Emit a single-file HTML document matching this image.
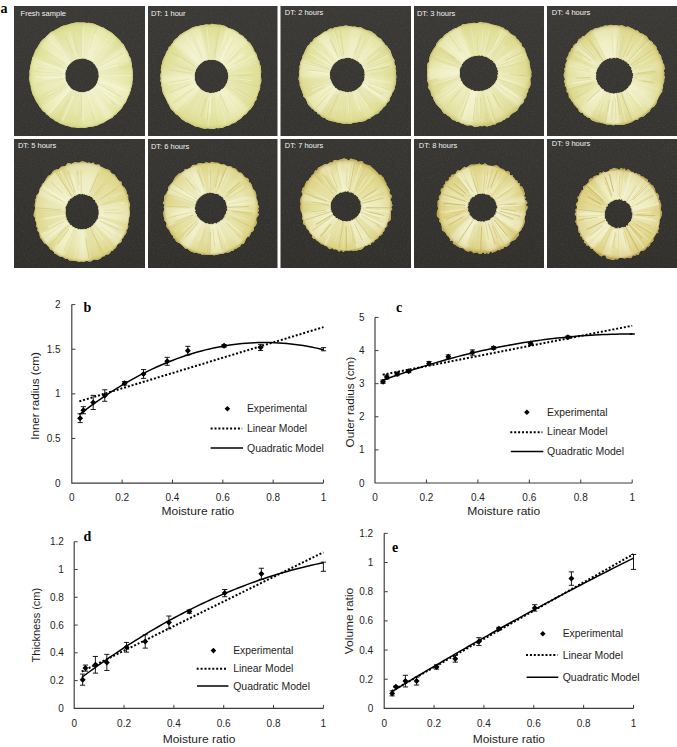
<!DOCTYPE html>
<html><head><meta charset="utf-8"><title>Figure</title>
<style>
html,body{margin:0;padding:0;background:#fff;}
body{width:677px;height:747px;position:relative;overflow:hidden;font-family:"Liberation Sans",sans-serif;}
svg{position:absolute;left:0;top:0;display:block;}
text{font-family:"Liberation Sans",sans-serif;}
</style></head>
<body>
<svg width="677" height="747" viewBox="0 0 677 747">
<defs><filter id="noise" x="0" y="0" width="100%" height="100%"><feTurbulence type="fractalNoise" baseFrequency="0.7" numOctaves="2" seed="3" result="n"/><feColorMatrix type="matrix" values="0 0 0 0 0.5  0 0 0 0 0.5  0 0 0 0 0.48  0.9 0 0 0 -0.38"/></filter><linearGradient id="bg0" x1="0" y1="0" x2="0" y2="1"><stop offset="0" stop-color="#3b3936"/><stop offset="1" stop-color="#353431"/></linearGradient><linearGradient id="bg1" x1="0" y1="0" x2="0" y2="1"><stop offset="0" stop-color="#373633"/><stop offset="1" stop-color="#31302d"/></linearGradient><filter id="soft" x="-5%" y="-5%" width="110%" height="110%"><feGaussianBlur stdDeviation="0.45"/></filter><filter id="sblur" x="-5%" y="-5%" width="110%" height="110%"><feGaussianBlur stdDeviation="0.5"/></filter><filter id="wblur" x="-5%" y="-5%" width="110%" height="110%"><feGaussianBlur stdDeviation="1.6"/></filter><radialGradient id="g0" cx="82.0" cy="75.4" r="52.7" gradientUnits="userSpaceOnUse"><stop offset="0.32" stop-color="#eef0c8"/><stop offset="0.7" stop-color="#e9ebb4"/><stop offset="0.92" stop-color="#e0e298"/><stop offset="1" stop-color="#cfcf7c"/></radialGradient><clipPath id="cp0"><path d="M132.9,75.2 L132.7,77.4 L132.9,79.6 L132.3,81.8 L132.3,84.0 L131.8,86.1 L131.1,88.2 L130.8,90.4 L129.8,92.4 L129.3,94.6 L128.2,96.5 L127.3,98.5 L126.5,100.6 L125.7,102.6 L124.1,104.2 L123.0,106.1 L121.9,108.0 L120.6,109.8 L119.0,111.3 L117.4,112.8 L116.1,114.6 L114.0,115.6 L112.7,117.4 L110.7,118.4 L108.8,119.5 L107.0,120.6 L105.1,121.8 L103.3,123.1 L101.2,123.6 L99.3,124.6 L97.2,125.4 L95.1,125.9 L93.0,126.5 L90.8,126.7 L88.7,127.0 L86.6,127.4 L84.5,127.9 L82.3,127.8 L80.1,127.8 L77.9,127.9 L75.8,127.6 L73.7,127.2 L71.5,127.2 L69.3,126.6 L67.3,125.8 L65.2,125.4 L63.1,124.6 L61.0,124.0 L59.1,123.0 L57.3,121.8 L55.1,121.1 L53.6,119.5 L51.7,118.4 L49.8,117.3 L48.3,115.6 L46.5,114.4 L45.2,112.6 L43.4,111.4 L41.8,109.8 L40.6,108.0 L39.1,106.3 L38.2,104.3 L36.8,102.6 L35.7,100.6 L34.8,98.7 L33.9,96.6 L32.8,94.7 L32.0,92.6 L31.6,90.4 L30.9,88.3 L30.8,86.1 L30.0,84.0 L29.7,81.8 L29.2,79.6 L29.2,77.4 L29.6,75.2 L29.5,73.0 L29.5,70.8 L30.1,68.6 L30.2,66.4 L30.8,64.3 L31.3,62.2 L31.9,60.1 L32.1,57.8 L33.3,55.9 L34.0,53.8 L34.9,51.8 L35.6,49.7 L37.1,48.1 L38.1,46.1 L39.3,44.2 L40.4,42.3 L41.8,40.6 L43.3,38.9 L45.1,37.7 L46.6,36.1 L48.2,34.7 L49.7,33.0 L51.5,31.7 L53.6,30.9 L55.4,29.8 L57.3,28.7 L59.2,27.7 L61.1,26.6 L63.1,25.7 L65.2,25.2 L67.4,24.8 L69.4,23.9 L71.5,23.5 L73.6,23.0 L75.8,22.5 L77.9,22.5 L80.1,22.5 L82.3,22.4 L84.5,22.5 L86.6,23.1 L88.8,22.8 L90.9,23.2 L93.1,23.6 L95.2,24.2 L97.2,25.2 L99.2,25.9 L101.2,26.9 L103.3,27.4 L105.1,28.8 L106.9,29.8 L108.8,30.9 L110.6,32.1 L112.5,33.3 L114.0,34.8 L115.6,36.3 L117.3,37.7 L118.8,39.3 L120.3,40.8 L121.5,42.7 L123.3,44.1 L124.4,46.0 L125.3,48.0 L126.4,49.9 L127.5,51.8 L128.4,53.8 L129.1,55.9 L130.3,57.8 L131.1,59.9 L131.3,62.1 L131.9,64.2 L132.0,66.5 L132.3,68.6 L132.7,70.8 L132.8,73.0 Z M98.8,75.4 L98.5,74.7 L98.4,74.0 L98.8,73.3 L98.5,72.6 L98.2,71.9 L98.2,71.2 L97.8,70.6 L97.8,69.9 L97.7,69.1 L97.4,68.5 L97.0,67.9 L96.5,67.4 L96.2,66.7 L95.8,66.2 L95.6,65.5 L95.1,65.0 L94.7,64.3 L94.1,63.9 L93.6,63.5 L93.3,62.8 L92.8,62.3 L92.2,61.9 L91.6,61.5 L91.0,61.1 L90.4,60.8 L89.7,60.6 L89.1,60.2 L88.4,60.0 L87.8,59.8 L87.1,59.6 L86.5,59.3 L85.8,59.1 L85.1,58.8 L84.5,58.6 L83.7,58.7 L83.1,58.4 L82.4,58.4 L81.6,58.4 L81.0,58.7 L80.3,58.8 L79.6,58.9 L78.9,59.0 L78.2,59.2 L77.5,59.2 L76.8,59.3 L76.1,59.5 L75.5,59.9 L74.9,60.1 L74.2,60.4 L73.7,61.0 L73.0,61.2 L72.4,61.5 L71.8,61.9 L71.3,62.4 L70.8,62.9 L70.4,63.5 L69.7,63.8 L69.4,64.5 L68.8,64.9 L68.3,65.4 L68.1,66.1 L67.8,66.7 L67.2,67.2 L67.0,67.9 L66.9,68.6 L66.6,69.3 L66.4,69.9 L65.8,70.5 L65.7,71.2 L65.8,71.9 L65.4,72.6 L65.2,73.3 L65.3,74.0 L65.4,74.7 L65.3,75.4 L65.5,76.1 L65.6,76.8 L65.2,77.5 L65.5,78.2 L65.7,78.9 L65.6,79.6 L66.0,80.2 L66.1,81.0 L66.3,81.6 L66.9,82.2 L67.1,82.8 L67.4,83.5 L67.8,84.0 L68.1,84.7 L68.6,85.2 L68.9,85.8 L69.5,86.3 L69.7,87.0 L70.4,87.4 L70.8,87.9 L71.3,88.4 L71.8,88.9 L72.5,89.2 L73.0,89.7 L73.6,89.9 L74.3,90.3 L74.9,90.6 L75.6,90.7 L76.2,91.1 L76.9,91.3 L77.6,91.4 L78.2,91.9 L78.9,91.8 L79.6,92.0 L80.2,92.2 L80.9,92.2 L81.7,92.1 L82.3,92.2 L83.1,92.2 L83.8,92.2 L84.4,91.9 L85.1,91.9 L85.8,91.7 L86.5,91.5 L87.2,91.5 L87.8,91.1 L88.5,90.9 L89.2,90.7 L89.8,90.4 L90.3,89.9 L91.0,89.6 L91.5,89.2 L92.1,88.8 L92.7,88.4 L93.2,87.9 L93.7,87.4 L94.2,86.9 L94.8,86.5 L95.2,85.9 L95.6,85.4 L96.1,84.8 L96.2,84.1 L96.7,83.5 L97.1,83.0 L97.4,82.3 L97.4,81.5 L97.6,80.9 L98.0,80.2 L98.0,79.5 L98.2,78.9 L98.3,78.2 L98.6,77.5 L98.8,76.8 L98.9,76.1 Z" clip-rule="evenodd"/></clipPath><radialGradient id="g1" cx="211.4" cy="76.3" r="52.3" gradientUnits="userSpaceOnUse"><stop offset="0.32" stop-color="#eef0c7"/><stop offset="0.7" stop-color="#e9eab3"/><stop offset="0.92" stop-color="#e0e096"/><stop offset="1" stop-color="#cdca77"/></radialGradient><clipPath id="cp1"><path d="M260.9,76.5 L261.2,78.7 L261.3,80.9 L261.0,83.1 L260.1,85.1 L260.2,87.4 L259.8,89.6 L258.9,91.6 L258.0,93.6 L257.5,95.7 L256.5,97.6 L256.4,100.0 L254.6,101.5 L254.1,103.7 L253.1,105.7 L251.8,107.4 L250.5,109.2 L248.9,110.6 L247.5,112.2 L246.2,113.9 L244.3,115.1 L242.7,116.5 L241.3,118.2 L239.6,119.4 L237.8,120.6 L236.2,122.0 L234.3,123.0 L232.2,123.5 L230.4,124.7 L228.5,125.7 L226.4,126.1 L224.4,126.7 L222.5,127.9 L220.4,128.0 L218.2,128.2 L216.1,128.1 L214.1,128.9 L212.0,129.1 L209.8,128.7 L207.8,128.2 L205.6,128.8 L203.5,128.5 L201.5,128.0 L199.4,127.3 L197.4,126.8 L195.2,126.6 L193.4,125.5 L191.5,124.4 L189.6,123.5 L187.8,122.5 L185.7,121.9 L184.0,120.6 L182.1,119.7 L180.7,117.9 L179.1,116.5 L177.5,115.1 L175.5,114.1 L174.3,112.2 L172.8,110.7 L171.2,109.2 L170.0,107.4 L169.3,105.3 L168.0,103.5 L167.1,101.5 L166.1,99.6 L165.3,97.6 L164.2,95.7 L163.2,93.8 L162.5,91.7 L161.9,89.6 L161.9,87.3 L161.0,85.3 L161.4,83.0 L160.4,80.9 L160.8,78.7 L160.5,76.5 L160.5,74.3 L161.1,72.2 L160.8,69.9 L161.1,67.7 L161.4,65.6 L162.1,63.5 L162.4,61.3 L163.3,59.3 L164.0,57.2 L165.2,55.3 L165.9,53.3 L166.8,51.3 L168.2,49.6 L168.7,47.3 L170.5,45.9 L171.6,44.1 L173.1,42.5 L173.9,40.4 L175.5,38.9 L177.4,37.8 L178.6,35.9 L180.3,34.6 L182.1,33.4 L183.9,32.2 L185.8,31.3 L187.6,30.2 L189.5,29.2 L191.3,28.0 L193.3,27.2 L195.3,26.6 L197.4,26.3 L199.5,25.8 L201.5,25.2 L203.6,24.9 L205.6,24.5 L207.8,24.6 L209.9,24.7 L212.0,23.8 L214.1,24.3 L216.2,24.5 L218.3,24.7 L220.4,24.8 L222.5,25.3 L224.5,25.8 L226.4,26.8 L228.3,27.9 L230.3,28.4 L232.3,29.3 L234.3,29.9 L236.1,31.2 L237.9,32.2 L239.4,33.9 L241.1,35.1 L243.2,35.9 L244.4,37.8 L246.2,39.0 L247.3,41.0 L249.1,42.2 L250.6,43.8 L251.7,45.7 L253.0,47.4 L253.6,49.6 L254.6,51.5 L256.0,53.2 L257.0,55.2 L257.3,57.4 L258.1,59.4 L259.4,61.3 L259.4,63.5 L260.4,65.6 L260.8,67.7 L261.0,69.9 L261.2,72.1 L260.9,74.3 Z M228.4,76.3 L228.2,75.6 L228.0,74.9 L228.0,74.2 L228.0,73.5 L228.0,72.8 L227.6,72.2 L227.4,71.5 L227.5,70.8 L227.0,70.2 L226.8,69.5 L226.5,68.9 L226.0,68.4 L225.7,67.7 L225.3,67.2 L224.9,66.6 L224.6,65.9 L224.0,65.5 L223.6,65.0 L223.1,64.5 L222.7,63.8 L222.0,63.6 L221.6,63.0 L220.8,62.9 L220.5,62.1 L219.9,61.7 L219.2,61.6 L218.6,61.3 L217.9,60.9 L217.3,60.5 L216.6,60.6 L215.9,60.3 L215.3,60.0 L214.6,59.9 L213.8,59.9 L213.1,59.9 L212.5,59.8 L211.7,59.9 L211.1,59.8 L210.4,60.0 L209.7,59.9 L208.9,59.8 L208.2,59.8 L207.6,60.2 L206.9,60.3 L206.2,60.6 L205.5,60.5 L204.8,60.8 L204.1,61.1 L203.5,61.4 L202.9,61.8 L202.3,62.2 L201.9,62.8 L201.3,63.2 L200.6,63.5 L200.2,64.0 L199.7,64.5 L199.3,65.1 L198.7,65.5 L198.2,66.0 L198.0,66.7 L197.6,67.2 L197.0,67.7 L196.8,68.4 L196.3,68.9 L196.0,69.5 L195.8,70.2 L195.6,70.9 L195.5,71.6 L195.2,72.2 L194.8,72.8 L195.0,73.6 L195.0,74.3 L194.5,74.9 L194.5,75.6 L194.6,76.3 L194.9,77.0 L194.9,77.7 L194.6,78.4 L195.0,79.0 L194.8,79.8 L194.9,80.5 L195.5,81.0 L195.4,81.8 L195.6,82.5 L196.0,83.1 L196.3,83.7 L196.6,84.3 L197.0,84.9 L197.4,85.5 L198.0,86.0 L198.4,86.4 L198.9,87.0 L199.3,87.5 L199.8,88.0 L200.3,88.5 L200.5,89.3 L201.4,89.4 L201.8,90.0 L202.4,90.4 L203.1,90.5 L203.6,91.0 L204.2,91.3 L204.9,91.7 L205.5,91.9 L206.2,92.0 L206.9,92.3 L207.6,92.5 L208.3,92.4 L208.9,92.8 L209.6,93.1 L210.3,93.0 L211.0,92.9 L211.8,92.9 L212.5,92.8 L213.2,92.8 L213.9,92.9 L214.5,92.4 L215.3,92.5 L215.9,92.1 L216.7,92.3 L217.2,91.7 L217.9,91.7 L218.5,91.1 L219.3,91.2 L219.9,90.9 L220.5,90.5 L220.9,89.8 L221.4,89.3 L222.2,89.1 L222.7,88.7 L223.2,88.2 L223.8,87.8 L224.3,87.3 L224.5,86.5 L225.2,86.2 L225.6,85.6 L225.6,84.8 L226.1,84.3 L226.3,83.6 L226.9,83.1 L227.2,82.5 L227.1,81.7 L227.3,81.0 L227.9,80.5 L227.7,79.7 L227.9,79.1 L228.1,78.4 L228.1,77.7 L228.4,77.0 Z" clip-rule="evenodd"/></clipPath><radialGradient id="g2" cx="347.3" cy="75.0" r="48.9" gradientUnits="userSpaceOnUse"><stop offset="0.36" stop-color="#eeefc7"/><stop offset="0.7" stop-color="#e9e9b2"/><stop offset="0.92" stop-color="#dfde94"/><stop offset="1" stop-color="#cac571"/></radialGradient><clipPath id="cp2"><path d="M396.1,74.8 L396.4,76.9 L396.0,78.9 L396.2,81.0 L395.9,83.0 L395.5,85.1 L394.8,87.0 L394.6,89.1 L393.7,91.0 L392.4,92.6 L391.8,94.6 L390.9,96.4 L389.8,98.1 L389.6,100.4 L388.1,101.9 L386.6,103.3 L386.0,105.4 L384.3,106.7 L382.8,108.1 L381.7,109.9 L379.8,110.9 L378.9,112.9 L377.2,114.1 L375.0,114.6 L373.6,116.1 L371.6,116.7 L370.3,118.5 L368.1,118.8 L366.4,119.9 L364.6,120.9 L362.6,121.6 L360.6,121.9 L358.5,122.0 L356.6,122.6 L354.5,122.6 L352.6,123.1 L350.6,123.9 L348.5,123.8 L346.5,123.6 L344.4,123.8 L342.4,123.4 L340.4,123.0 L338.4,122.7 L336.4,122.3 L334.4,121.8 L332.5,121.2 L330.4,121.0 L328.5,120.3 L326.6,119.4 L325.0,118.1 L322.9,117.5 L321.2,116.4 L319.9,114.6 L317.8,114.0 L316.8,112.1 L314.8,111.2 L313.5,109.6 L311.8,108.5 L310.4,107.0 L308.9,105.5 L307.7,103.8 L307.0,101.8 L306.3,99.9 L305.2,98.1 L303.4,96.8 L303.2,94.6 L302.5,92.7 L301.9,90.7 L301.0,88.9 L300.5,86.9 L299.6,85.0 L299.8,82.9 L299.2,80.9 L298.5,78.9 L298.9,76.8 L299.2,74.8 L298.9,72.8 L299.2,70.7 L299.7,68.7 L299.4,66.6 L300.1,64.7 L300.0,62.6 L301.1,60.7 L301.9,58.9 L302.3,56.8 L303.0,54.9 L304.2,53.2 L304.8,51.2 L305.7,49.4 L306.7,47.6 L307.7,45.8 L309.3,44.4 L310.4,42.6 L312.3,41.6 L313.2,39.7 L314.6,38.1 L316.5,37.2 L318.2,36.1 L319.9,34.9 L321.6,33.8 L323.2,32.6 L325.0,31.5 L326.9,30.9 L328.5,29.4 L330.3,28.5 L332.6,28.7 L334.4,27.6 L336.4,27.3 L338.4,26.8 L340.4,26.4 L342.4,26.2 L344.4,25.7 L346.5,25.4 L348.5,26.1 L350.5,26.2 L352.5,26.7 L354.6,26.5 L356.6,27.0 L358.5,27.5 L360.7,27.3 L362.6,28.3 L364.4,29.2 L366.2,30.1 L368.3,30.5 L370.2,31.1 L372.1,32.1 L373.7,33.3 L375.5,34.4 L376.7,36.1 L378.3,37.4 L380.2,38.3 L381.7,39.8 L382.8,41.6 L384.2,43.0 L385.2,44.8 L387.1,45.9 L388.1,47.7 L389.5,49.3 L390.6,51.0 L391.1,53.0 L391.8,55.0 L392.6,56.9 L393.6,58.7 L394.6,60.5 L394.2,62.8 L395.0,64.7 L395.8,66.6 L395.4,68.7 L396.2,70.7 L395.9,72.8 Z M364.7,75.0 L365.0,74.3 L364.3,73.6 L364.7,72.8 L364.5,72.1 L364.6,71.4 L364.1,70.8 L364.2,70.0 L364.0,69.3 L363.2,68.8 L363.1,68.1 L362.7,67.5 L362.7,66.7 L362.4,66.0 L361.9,65.4 L361.6,64.8 L361.0,64.3 L360.7,63.7 L359.9,63.4 L359.3,63.0 L359.0,62.2 L358.4,61.9 L357.6,61.6 L357.3,60.8 L356.5,60.8 L355.9,60.3 L355.2,60.1 L354.7,59.5 L354.0,59.4 L353.3,59.1 L352.7,58.7 L352.1,58.2 L351.2,58.7 L350.6,57.9 L349.9,57.9 L349.1,58.1 L348.4,57.7 L347.7,57.8 L346.9,57.9 L346.2,58.1 L345.5,58.0 L344.8,58.2 L344.1,58.5 L343.4,58.6 L342.7,58.7 L341.9,58.8 L341.2,58.9 L340.5,59.1 L340.0,59.8 L339.4,60.1 L338.5,60.0 L338.0,60.5 L337.5,61.1 L336.9,61.5 L336.1,61.7 L335.7,62.3 L335.2,62.8 L334.4,63.1 L334.4,64.0 L333.6,64.3 L333.1,64.9 L332.8,65.5 L332.4,66.1 L332.3,66.9 L331.4,67.3 L331.7,68.2 L331.2,68.7 L330.9,69.4 L330.4,70.0 L330.3,70.7 L330.1,71.4 L330.1,72.1 L329.7,72.8 L330.1,73.6 L330.0,74.3 L329.9,75.0 L330.0,75.7 L330.2,76.4 L329.9,77.2 L330.2,77.8 L330.0,78.6 L330.3,79.3 L331.0,79.9 L331.1,80.5 L331.3,81.2 L331.5,81.9 L331.9,82.5 L332.0,83.3 L332.6,83.8 L332.9,84.4 L333.3,85.0 L333.4,85.8 L334.2,86.2 L334.8,86.5 L334.9,87.4 L335.4,87.9 L336.4,87.9 L336.6,88.8 L337.3,89.1 L337.8,89.7 L338.6,89.9 L339.2,90.2 L339.8,90.7 L340.7,90.5 L341.3,90.8 L342.0,91.0 L342.7,91.2 L343.4,91.5 L344.1,91.5 L344.8,91.7 L345.5,91.9 L346.2,91.9 L346.9,91.8 L347.7,92.4 L348.4,92.3 L349.1,92.3 L349.8,91.6 L350.6,91.9 L351.3,91.9 L352.0,91.4 L352.7,91.3 L353.5,91.3 L354.1,91.0 L354.7,90.5 L355.3,90.0 L356.1,89.9 L356.7,89.6 L357.2,88.9 L357.8,88.6 L358.5,88.3 L358.8,87.6 L359.4,87.2 L360.0,86.7 L360.4,86.1 L361.1,85.8 L361.3,85.0 L361.8,84.5 L362.4,84.0 L362.3,83.1 L362.8,82.6 L363.0,81.9 L363.5,81.3 L364.0,80.7 L363.9,79.9 L364.4,79.3 L364.1,78.5 L364.8,77.9 L364.4,77.1 L364.5,76.4 L364.5,75.7 Z" clip-rule="evenodd"/></clipPath><radialGradient id="g3" cx="478.7" cy="73.3" r="52.1" gradientUnits="userSpaceOnUse"><stop offset="0.37" stop-color="#eeefc6"/><stop offset="0.7" stop-color="#e9e9b1"/><stop offset="0.92" stop-color="#dfdc93"/><stop offset="1" stop-color="#c8c06c"/></radialGradient><clipPath id="cp3"><path d="M531.2,74.4 L531.4,76.6 L530.3,78.7 L530.4,80.9 L530.6,83.1 L530.4,85.4 L529.6,87.4 L528.2,89.3 L528.2,91.6 L526.9,93.4 L526.6,95.6 L525.9,97.7 L524.1,99.3 L524.0,101.7 L522.5,103.4 L520.8,104.8 L519.4,106.5 L518.3,108.4 L517.2,110.4 L515.5,111.7 L513.5,112.7 L511.7,114.1 L510.1,115.5 L508.9,117.5 L506.6,118.0 L505.0,119.6 L503.0,120.3 L501.2,121.8 L499.1,122.3 L497.0,122.8 L495.2,124.4 L493.0,124.6 L490.9,125.4 L488.8,126.0 L486.7,126.5 L484.4,125.6 L482.3,126.2 L480.1,126.0 L477.9,126.5 L475.7,126.9 L473.5,126.6 L471.5,125.3 L469.3,125.2 L467.0,125.5 L465.0,124.8 L463.0,123.8 L460.9,123.2 L459.0,122.0 L456.7,121.9 L455.0,120.4 L452.8,119.9 L451.1,118.5 L449.6,116.7 L447.7,115.7 L446.1,114.3 L443.9,113.5 L442.5,111.7 L441.5,109.7 L440.0,108.2 L438.4,106.6 L437.0,105.0 L435.6,103.3 L434.6,101.3 L433.6,99.4 L433.0,97.3 L431.4,95.6 L430.9,93.5 L430.5,91.3 L429.3,89.4 L428.0,87.5 L428.7,85.1 L428.2,83.0 L427.2,81.0 L427.5,78.7 L427.3,76.6 L427.0,74.4 L427.4,72.2 L427.1,70.0 L427.4,67.9 L427.1,65.6 L427.5,63.4 L429.2,61.6 L429.1,59.3 L429.6,57.2 L430.2,55.0 L431.2,53.1 L432.3,51.2 L433.3,49.2 L434.7,47.5 L435.9,45.7 L436.6,43.6 L437.9,41.7 L439.2,40.0 L440.9,38.6 L442.8,37.4 L444.0,35.4 L445.7,34.0 L447.6,32.9 L449.2,31.5 L451.2,30.6 L453.0,29.2 L455.0,28.3 L457.1,27.8 L458.9,26.6 L461.0,25.8 L462.7,24.2 L465.0,24.2 L467.2,23.8 L469.3,23.6 L471.5,23.2 L473.6,22.8 L475.8,22.9 L477.9,23.0 L480.1,21.8 L482.3,22.5 L484.4,22.7 L486.6,22.8 L488.7,23.5 L490.8,24.1 L492.8,24.8 L495.0,25.1 L497.0,25.8 L499.3,26.1 L501.2,27.2 L503.4,27.7 L504.9,29.5 L507.2,29.9 L508.7,31.5 L510.1,33.3 L511.9,34.6 L513.9,35.6 L515.8,36.7 L516.8,38.9 L518.6,40.1 L519.7,42.1 L521.5,43.5 L521.8,45.9 L523.5,47.4 L525.0,49.1 L525.3,51.4 L526.2,53.3 L526.8,55.4 L527.7,57.4 L528.5,59.4 L529.6,61.4 L529.5,63.6 L530.1,65.7 L530.2,67.9 L531.0,70.0 L531.4,72.2 Z M498.0,73.3 L497.6,72.6 L498.0,71.8 L498.1,71.0 L497.7,70.3 L497.2,69.7 L497.5,68.8 L497.4,68.1 L496.7,67.5 L496.3,66.8 L496.0,66.2 L495.9,65.4 L495.8,64.6 L495.2,64.0 L495.0,63.3 L494.1,63.0 L493.6,62.3 L493.4,61.6 L492.8,61.0 L492.1,60.6 L491.6,60.0 L490.9,59.7 L490.1,59.4 L489.6,58.7 L488.8,58.5 L488.3,57.8 L487.5,57.6 L486.9,57.2 L486.2,56.8 L485.3,56.8 L484.6,56.4 L483.8,56.5 L483.2,55.7 L482.3,55.8 L481.6,55.3 L480.7,55.9 L479.9,55.5 L479.1,55.3 L478.3,55.6 L477.5,55.8 L476.7,55.8 L475.9,55.9 L475.1,55.6 L474.4,56.3 L473.5,55.9 L472.8,56.4 L472.0,56.6 L471.2,56.8 L470.5,57.2 L469.7,57.4 L469.1,57.8 L468.5,58.4 L467.6,58.5 L467.2,59.3 L466.4,59.5 L465.7,59.9 L465.1,60.4 L464.8,61.2 L464.0,61.5 L463.4,62.0 L463.2,62.9 L462.9,63.5 L462.3,64.1 L461.6,64.6 L461.8,65.5 L461.5,66.2 L460.9,66.8 L460.5,67.4 L460.1,68.1 L460.2,68.9 L459.5,69.5 L460.0,70.4 L459.5,71.0 L459.9,71.8 L459.9,72.6 L459.8,73.3 L459.9,74.0 L459.6,74.8 L459.6,75.5 L460.0,76.2 L459.6,77.1 L460.2,77.7 L460.6,78.4 L460.8,79.1 L460.7,79.9 L460.9,80.7 L461.7,81.1 L462.2,81.7 L462.1,82.6 L462.9,83.0 L462.9,84.0 L463.7,84.4 L464.1,85.0 L464.8,85.4 L465.1,86.2 L465.9,86.5 L466.5,86.9 L466.9,87.7 L467.9,87.7 L468.3,88.5 L469.3,88.4 L469.8,89.2 L470.6,89.3 L471.1,90.0 L472.1,89.7 L472.8,90.3 L473.6,90.4 L474.2,90.9 L475.0,91.1 L475.9,91.0 L476.7,90.8 L477.5,90.9 L478.3,90.9 L479.1,91.0 L479.9,90.9 L480.7,90.8 L481.5,91.1 L482.3,90.9 L483.0,90.5 L484.0,90.8 L484.6,90.0 L485.4,90.0 L486.0,89.5 L487.0,89.6 L487.7,89.3 L488.2,88.6 L489.1,88.5 L489.8,88.1 L490.2,87.4 L490.9,86.9 L491.5,86.5 L492.3,86.2 L492.5,85.3 L493.3,85.0 L493.8,84.4 L494.2,83.7 L494.7,83.2 L495.4,82.7 L495.3,81.8 L496.2,81.3 L496.1,80.5 L496.8,79.9 L497.1,79.2 L496.8,78.4 L497.6,77.8 L497.9,77.1 L497.5,76.2 L497.4,75.5 L497.5,74.8 L498.3,74.1 Z" clip-rule="evenodd"/></clipPath><radialGradient id="g4" cx="614.4" cy="75.6" r="50.1" gradientUnits="userSpaceOnUse"><stop offset="0.37" stop-color="#eeeec5"/><stop offset="0.7" stop-color="#e9e8b0"/><stop offset="0.92" stop-color="#deda91"/><stop offset="1" stop-color="#c6bb67"/></radialGradient><clipPath id="cp4"><path d="M664.0,75.1 L665.0,77.2 L664.2,79.3 L664.2,81.4 L663.4,83.4 L663.0,85.4 L663.1,87.6 L662.2,89.5 L662.3,91.7 L660.8,93.4 L659.9,95.3 L658.8,97.1 L657.9,98.9 L657.1,100.8 L656.5,103.0 L655.4,104.8 L654.2,106.5 L652.1,107.5 L650.7,109.1 L649.8,111.2 L648.2,112.5 L646.4,113.7 L645.0,115.3 L643.4,116.6 L641.2,117.1 L639.1,117.7 L637.9,119.8 L635.5,119.7 L633.7,120.8 L631.9,122.0 L630.0,122.8 L628.0,123.5 L625.9,123.9 L623.9,124.8 L621.8,124.8 L619.7,125.1 L617.6,125.1 L615.4,124.4 L613.3,125.4 L611.3,124.5 L609.2,124.6 L607.1,124.5 L605.1,123.9 L603.0,123.3 L601.0,122.9 L599.0,122.3 L596.8,122.2 L594.9,121.4 L592.8,120.8 L591.0,119.7 L589.7,117.7 L587.4,117.4 L585.8,116.1 L583.9,115.1 L582.9,113.0 L580.5,112.6 L578.9,111.2 L578.3,108.9 L576.6,107.6 L575.4,105.9 L573.9,104.4 L573.1,102.4 L571.4,101.0 L570.6,99.1 L568.9,97.6 L568.7,95.4 L568.5,93.2 L566.5,91.7 L566.8,89.4 L566.3,87.4 L564.8,85.6 L565.0,83.4 L564.0,81.4 L565.0,79.2 L564.2,77.2 L563.6,75.1 L564.2,73.0 L564.9,71.0 L564.3,68.8 L565.7,66.9 L565.3,64.7 L566.0,62.7 L567.0,60.9 L566.4,58.5 L567.6,56.7 L568.6,54.8 L568.9,52.6 L570.7,51.2 L571.0,48.9 L572.9,47.6 L573.5,45.5 L575.1,44.1 L577.0,42.9 L577.8,40.9 L578.9,39.0 L581.2,38.3 L582.2,36.3 L584.5,35.9 L586.0,34.4 L587.5,32.9 L589.2,31.7 L590.9,30.3 L593.0,29.8 L594.7,28.4 L596.8,27.9 L599.0,27.8 L600.8,26.8 L603.0,26.8 L604.9,25.5 L607.1,25.8 L609.1,25.3 L611.2,24.7 L613.4,25.4 L615.5,24.9 L617.5,25.5 L619.6,25.7 L621.8,25.3 L623.8,26.1 L625.7,27.1 L628.0,26.4 L629.9,27.5 L631.9,28.3 L633.8,29.2 L635.5,30.4 L637.9,30.4 L639.1,32.5 L641.1,33.2 L643.0,34.1 L644.8,35.2 L646.7,36.3 L647.8,38.1 L649.0,39.9 L650.8,41.1 L652.6,42.3 L653.5,44.2 L655.3,45.5 L656.6,47.2 L656.8,49.5 L658.2,51.1 L658.6,53.2 L660.2,54.8 L661.3,56.6 L661.4,58.8 L662.5,60.6 L662.7,62.7 L664.1,64.6 L664.4,66.7 L664.7,68.8 L663.7,71.0 L664.6,73.0 Z M633.1,75.6 L633.1,74.8 L632.9,74.1 L633.0,73.3 L632.2,72.7 L632.1,72.0 L632.4,71.1 L632.2,70.4 L631.5,69.9 L631.4,69.1 L631.5,68.2 L631.1,67.6 L630.8,66.9 L630.1,66.4 L629.7,65.7 L629.2,65.2 L629.1,64.3 L628.5,63.8 L627.6,63.6 L627.4,62.7 L626.7,62.4 L626.4,61.6 L625.4,61.6 L624.8,61.2 L624.3,60.4 L623.8,59.9 L622.7,60.2 L622.0,59.9 L621.6,59.1 L620.7,59.1 L620.1,58.7 L619.3,58.7 L618.6,58.1 L617.9,57.9 L617.1,57.8 L616.4,57.6 L615.5,58.2 L614.8,58.0 L614.0,57.5 L613.3,58.1 L612.5,58.2 L611.7,58.2 L611.0,58.5 L610.1,57.9 L609.3,58.1 L608.7,58.8 L608.1,59.1 L607.2,59.1 L606.4,59.2 L605.9,59.9 L605.0,59.9 L604.4,60.4 L603.8,60.8 L603.2,61.3 L602.7,61.9 L602.0,62.3 L601.3,62.6 L601.1,63.5 L600.6,64.0 L599.9,64.5 L599.2,64.9 L599.4,66.0 L599.0,66.6 L598.3,67.0 L598.2,67.8 L597.2,68.2 L597.5,69.1 L597.1,69.8 L596.6,70.4 L596.6,71.2 L596.4,71.9 L595.8,72.6 L596.1,73.4 L596.0,74.1 L596.4,74.9 L596.0,75.6 L596.0,76.3 L596.1,77.1 L596.3,77.8 L595.9,78.6 L596.0,79.4 L596.6,80.0 L597.0,80.7 L597.0,81.5 L597.0,82.3 L597.8,82.8 L597.5,83.7 L598.2,84.2 L598.5,84.9 L599.3,85.3 L599.8,85.9 L599.8,86.8 L600.6,87.1 L601.1,87.7 L601.2,88.6 L602.2,88.7 L602.9,89.0 L603.5,89.5 L604.0,90.1 L604.3,91.0 L605.2,90.9 L605.8,91.5 L606.4,92.0 L607.4,91.7 L608.0,92.2 L608.7,92.6 L609.4,92.9 L610.2,92.7 L610.9,93.2 L611.7,93.3 L612.5,93.2 L613.2,93.8 L614.0,93.7 L614.8,93.5 L615.5,93.1 L616.3,93.4 L617.0,92.9 L617.8,92.8 L618.7,93.1 L619.2,92.4 L620.2,92.9 L620.7,91.9 L621.6,92.2 L622.3,91.9 L623.0,91.6 L623.7,91.2 L624.1,90.4 L625.0,90.4 L625.7,90.0 L626.0,89.2 L626.9,89.0 L627.0,88.0 L628.0,87.9 L628.4,87.3 L628.5,86.4 L629.2,86.0 L629.7,85.4 L630.4,85.0 L630.6,84.2 L631.1,83.6 L631.2,82.9 L631.6,82.2 L631.9,81.5 L632.1,80.8 L632.1,80.0 L632.3,79.3 L632.2,78.5 L632.9,77.9 L632.9,77.1 L632.7,76.3 Z" clip-rule="evenodd"/></clipPath><radialGradient id="g5" cx="82.0" cy="211.8" r="50.0" gradientUnits="userSpaceOnUse"><stop offset="0.33" stop-color="#eeeec5"/><stop offset="0.7" stop-color="#e9e7b0"/><stop offset="0.92" stop-color="#ded88f"/><stop offset="1" stop-color="#c3b661"/></radialGradient><clipPath id="cp5"><path d="M130.0,211.9 L130.0,214.0 L129.5,216.0 L129.0,218.1 L128.7,220.1 L128.5,222.2 L127.9,224.2 L128.3,226.4 L127.8,228.5 L126.4,230.2 L126.4,232.4 L125.5,234.3 L123.9,235.9 L123.2,237.8 L121.7,239.3 L121.5,241.7 L119.8,243.0 L117.9,244.1 L116.7,245.7 L115.9,247.9 L114.1,248.9 L113.0,250.7 L110.9,251.3 L109.8,253.4 L108.1,254.6 L105.8,254.6 L104.5,256.3 L102.4,256.6 L100.9,258.3 L99.1,259.3 L97.2,259.9 L95.0,259.6 L93.0,259.9 L91.2,261.3 L89.2,261.5 L87.1,261.0 L85.2,261.3 L83.2,262.0 L81.2,261.2 L79.2,262.0 L77.2,261.2 L75.3,260.9 L73.2,260.9 L71.2,260.6 L69.2,260.4 L67.6,258.7 L65.4,259.1 L63.8,257.5 L62.0,256.8 L59.9,256.4 L58.1,255.5 L56.4,254.3 L54.5,253.5 L53.5,251.3 L51.9,250.2 L50.0,249.3 L49.0,247.3 L47.7,245.7 L46.3,244.3 L44.3,243.3 L43.0,241.6 L42.0,239.8 L40.6,238.2 L39.8,236.2 L39.6,234.0 L38.7,232.1 L37.3,230.5 L37.7,228.1 L36.2,226.4 L36.5,224.2 L36.1,222.1 L34.9,220.2 L35.3,218.1 L33.7,216.1 L33.7,214.0 L34.4,211.9 L34.9,209.8 L35.1,207.8 L34.7,205.6 L34.9,203.6 L35.6,201.6 L35.4,199.4 L36.3,197.4 L36.5,195.3 L38.3,193.8 L39.1,191.9 L39.5,189.8 L40.2,187.8 L41.6,186.2 L42.1,184.1 L43.8,182.8 L44.9,181.0 L46.0,179.3 L47.0,177.4 L48.4,175.8 L50.3,174.9 L51.7,173.4 L52.8,171.5 L54.4,170.2 L56.4,169.5 L58.6,169.2 L60.0,167.7 L61.7,166.4 L63.8,166.2 L65.8,165.8 L67.1,163.5 L69.1,163.0 L71.4,163.9 L73.2,162.8 L75.2,162.2 L77.2,162.5 L79.2,162.8 L81.2,161.5 L83.2,161.4 L85.2,162.1 L87.1,162.9 L89.2,162.6 L91.0,163.5 L93.3,162.4 L94.9,164.5 L96.9,164.7 L99.1,164.6 L100.5,166.4 L102.3,167.3 L104.1,168.3 L105.9,169.1 L107.9,169.6 L109.9,170.4 L110.8,172.5 L112.4,173.8 L114.6,174.4 L115.6,176.3 L116.9,177.9 L118.0,179.7 L119.4,181.1 L121.6,182.0 L121.6,184.6 L122.8,186.2 L124.5,187.6 L125.7,189.4 L126.6,191.3 L126.7,193.5 L128.2,195.2 L128.2,197.4 L128.2,199.6 L129.0,201.5 L129.8,203.5 L130.1,205.6 L129.3,207.8 L129.5,209.8 Z M99.2,211.8 L98.3,211.1 L99.0,210.3 L98.4,209.6 L98.2,208.9 L98.1,208.2 L98.1,207.4 L98.5,206.6 L97.4,206.1 L97.9,205.2 L97.1,204.7 L96.7,204.1 L96.9,203.2 L96.1,202.8 L95.6,202.2 L95.4,201.5 L95.3,200.7 L94.9,200.0 L94.2,199.7 L93.3,199.6 L93.4,198.5 L92.7,198.2 L92.3,197.4 L91.8,196.9 L90.9,197.1 L90.5,196.2 L89.9,195.9 L89.0,196.1 L88.4,195.7 L87.8,195.4 L87.1,195.2 L86.5,195.0 L85.7,195.1 L85.1,194.8 L84.5,194.0 L83.7,194.4 L83.1,194.1 L82.4,193.8 L81.6,193.9 L81.0,194.5 L80.2,193.8 L79.5,194.1 L78.8,194.0 L78.1,194.4 L77.4,194.6 L76.7,194.7 L76.3,195.6 L75.5,195.4 L74.9,196.0 L74.1,195.9 L73.8,196.9 L73.0,196.9 L72.6,197.5 L71.7,197.5 L71.5,198.4 L70.6,198.4 L70.1,199.0 L69.5,199.5 L69.6,200.6 L68.6,200.6 L68.3,201.3 L67.9,202.0 L67.6,202.6 L67.8,203.6 L66.7,203.8 L66.7,204.6 L66.5,205.3 L66.4,206.1 L65.7,206.6 L65.5,207.3 L65.3,208.1 L65.8,208.9 L65.6,209.6 L65.6,210.3 L65.7,211.1 L65.5,211.8 L65.8,212.5 L65.1,213.3 L65.7,214.0 L66.0,214.7 L66.1,215.4 L65.6,216.2 L66.3,216.8 L66.3,217.6 L66.6,218.2 L66.5,219.1 L66.6,219.8 L67.5,220.2 L67.6,221.0 L67.8,221.8 L68.5,222.1 L68.6,223.0 L69.2,223.5 L70.0,223.7 L70.0,224.7 L70.8,224.9 L71.6,225.0 L71.8,225.9 L72.3,226.5 L73.0,226.7 L73.7,227.0 L74.3,227.3 L74.7,228.1 L75.5,228.2 L76.3,228.0 L76.9,228.4 L77.5,228.6 L78.1,229.4 L78.8,229.3 L79.6,228.8 L80.2,229.7 L81.0,228.9 L81.6,229.5 L82.3,229.3 L83.1,229.6 L83.7,229.2 L84.4,228.8 L85.1,229.1 L85.9,229.3 L86.6,229.1 L87.1,228.4 L87.7,228.0 L88.6,228.3 L89.2,228.0 L89.6,227.1 L90.5,227.4 L91.2,227.1 L91.5,226.2 L92.0,225.7 L92.8,225.5 L93.5,225.2 L93.5,224.1 L94.0,223.7 L94.5,223.2 L95.3,222.9 L95.3,221.9 L95.9,221.6 L96.3,220.9 L96.8,220.4 L96.6,219.5 L97.7,219.2 L98.0,218.5 L97.8,217.6 L98.3,217.0 L97.9,216.1 L98.7,215.6 L98.5,214.7 L98.8,214.0 L99.0,213.3 L98.5,212.5 Z" clip-rule="evenodd"/></clipPath><radialGradient id="g6" cx="211.0" cy="208.3" r="47.5" gradientUnits="userSpaceOnUse"><stop offset="0.34" stop-color="#eeedc4"/><stop offset="0.7" stop-color="#e9e6af"/><stop offset="0.92" stop-color="#ddd68d"/><stop offset="1" stop-color="#c1b15c"/></radialGradient><clipPath id="cp6"><path d="M258.1,208.8 L258.8,210.8 L257.8,212.6 L258.9,214.7 L257.6,216.5 L256.4,218.3 L256.2,220.2 L256.8,222.3 L256.4,224.3 L255.3,226.0 L253.7,227.4 L254.1,229.7 L252.9,231.3 L250.9,232.5 L250.3,234.4 L249.6,236.3 L247.4,237.0 L246.2,238.6 L245.3,240.4 L244.6,242.4 L243.3,244.0 L241.0,244.3 L240.1,246.4 L238.3,247.3 L236.7,248.5 L234.7,249.1 L233.3,250.7 L231.2,251.0 L229.6,252.3 L227.5,252.4 L225.4,252.4 L223.7,253.5 L221.7,253.9 L219.7,254.1 L217.8,254.5 L215.9,255.0 L213.9,255.3 L211.9,254.7 L209.9,254.8 L207.9,255.1 L205.9,255.0 L204.0,254.6 L201.9,254.7 L200.2,253.4 L198.1,253.5 L196.4,252.5 L194.2,252.8 L192.3,251.9 L190.4,251.3 L188.9,249.9 L187.4,248.6 L185.0,248.6 L183.8,246.9 L182.3,245.6 L180.9,244.3 L179.2,243.1 L177.4,242.2 L175.8,241.0 L175.0,239.1 L173.3,237.9 L172.9,235.8 L171.4,234.4 L170.5,232.7 L169.6,231.0 L168.6,229.3 L167.1,227.9 L166.3,226.0 L166.6,223.9 L165.9,222.1 L164.4,220.5 L164.2,218.5 L163.7,216.6 L163.5,214.6 L163.2,212.7 L163.9,210.7 L164.2,208.8 L163.7,206.9 L164.5,205.0 L162.9,202.9 L164.0,201.1 L164.1,199.1 L164.0,197.0 L164.9,195.2 L166.5,193.7 L167.0,191.8 L168.2,190.2 L167.9,187.9 L168.9,186.2 L170.3,184.8 L171.5,183.3 L172.8,181.8 L173.7,180.0 L174.6,178.2 L175.7,176.5 L177.2,175.2 L178.6,173.8 L180.7,173.1 L182.3,172.0 L184.0,171.0 L185.0,168.9 L187.5,169.1 L189.2,168.2 L190.9,167.2 L192.2,165.3 L194.1,164.7 L196.3,165.0 L197.9,163.5 L199.9,162.9 L202.0,163.4 L204.0,163.5 L205.9,162.2 L207.9,162.7 L209.9,163.1 L211.9,161.7 L213.9,162.6 L215.8,162.8 L217.9,162.7 L219.7,163.7 L221.5,164.5 L223.6,164.3 L225.5,164.9 L227.1,166.2 L229.2,166.2 L231.3,166.4 L232.8,168.0 L234.8,168.3 L236.5,169.4 L237.7,171.2 L239.1,172.6 L241.4,172.8 L242.8,174.2 L243.9,175.9 L245.1,177.4 L247.4,178.1 L248.7,179.5 L248.9,181.8 L250.6,183.0 L251.7,184.7 L252.2,186.6 L252.7,188.6 L254.0,190.1 L255.3,191.6 L255.9,193.5 L256.4,195.4 L256.2,197.4 L256.8,199.3 L257.4,201.1 L257.9,203.0 L258.0,204.9 L259.1,206.8 Z M226.6,208.3 L227.5,207.6 L226.6,207.0 L227.3,206.3 L226.5,205.7 L226.7,205.0 L226.4,204.5 L225.8,203.9 L226.4,203.1 L226.2,202.4 L225.4,202.1 L225.6,201.2 L225.0,200.8 L225.2,199.9 L223.9,199.9 L223.8,199.2 L223.3,198.8 L223.2,198.0 L222.9,197.4 L222.5,196.9 L221.7,196.7 L221.1,196.4 L220.9,195.6 L219.9,195.9 L219.4,195.4 L219.1,194.5 L218.4,194.5 L218.1,193.7 L217.0,194.3 L216.6,193.7 L215.8,193.8 L215.2,193.8 L214.5,193.6 L213.9,193.4 L213.3,193.0 L212.7,192.9 L212.0,192.7 L211.3,192.9 L210.7,192.5 L210.0,192.7 L209.3,192.3 L208.7,193.2 L208.0,193.0 L207.3,193.1 L206.7,193.4 L205.9,193.1 L205.5,194.0 L204.6,193.5 L204.3,194.3 L203.7,194.6 L202.9,194.7 L202.4,195.1 L202.0,195.7 L201.6,196.2 L200.5,195.9 L200.4,196.8 L200.1,197.5 L199.2,197.5 L198.9,198.1 L198.6,198.7 L198.2,199.2 L197.3,199.5 L197.5,200.3 L197.1,200.8 L196.2,201.1 L196.5,202.0 L196.2,202.6 L196.3,203.3 L195.5,203.7 L195.3,204.4 L195.4,205.1 L195.3,205.7 L195.4,206.4 L194.7,207.0 L195.1,207.6 L194.6,208.3 L195.2,208.9 L194.8,209.6 L195.7,210.2 L195.5,210.8 L194.8,211.6 L195.3,212.2 L195.5,212.9 L195.9,213.4 L196.2,214.0 L196.7,214.5 L197.0,215.1 L196.8,215.9 L197.1,216.5 L197.9,216.8 L197.9,217.6 L198.8,217.7 L198.8,218.6 L199.6,218.7 L199.8,219.5 L200.4,219.7 L200.8,220.4 L201.6,220.4 L201.9,221.1 L202.4,221.6 L203.2,221.5 L203.7,221.9 L204.1,222.6 L204.8,222.7 L205.4,223.0 L206.0,223.4 L206.7,223.4 L207.4,223.2 L208.0,223.6 L208.6,224.1 L209.3,223.9 L210.0,224.2 L210.7,223.7 L211.3,223.8 L212.0,224.4 L212.7,224.2 L213.4,223.9 L213.9,223.2 L214.7,223.6 L215.2,222.8 L216.1,223.6 L216.8,223.4 L217.3,222.9 L217.7,222.2 L218.6,222.5 L218.8,221.5 L219.8,221.8 L220.1,221.1 L220.3,220.3 L221.5,220.7 L221.7,219.8 L222.5,219.7 L222.8,219.1 L223.1,218.5 L223.9,218.2 L223.7,217.3 L224.7,217.2 L224.5,216.3 L224.5,215.6 L225.2,215.2 L225.2,214.4 L225.4,213.9 L226.2,213.5 L225.9,212.7 L226.1,212.1 L226.4,211.5 L226.5,210.9 L227.3,210.3 L227.4,209.6 L227.4,209.0 Z" clip-rule="evenodd"/></clipPath><radialGradient id="g7" cx="346.0" cy="206.4" r="46.0" gradientUnits="userSpaceOnUse"><stop offset="0.33" stop-color="#eeedc3"/><stop offset="0.7" stop-color="#e9e6ae"/><stop offset="0.92" stop-color="#ddd48c"/><stop offset="1" stop-color="#bfac57"/></radialGradient><clipPath id="cp7"><path d="M392.6,205.3 L391.2,207.2 L392.4,209.2 L390.7,211.0 L390.9,212.9 L390.7,214.9 L390.9,216.9 L390.7,218.9 L390.1,220.8 L387.8,221.9 L387.1,223.7 L387.3,225.9 L385.8,227.4 L384.5,228.7 L384.4,231.0 L382.9,232.3 L382.3,234.3 L380.8,235.5 L378.8,236.3 L378.1,238.3 L376.4,239.3 L374.7,240.2 L373.9,242.3 L371.5,242.2 L370.9,244.8 L368.5,244.6 L367.0,245.7 L365.0,246.0 L363.6,247.4 L362.1,248.9 L360.4,249.9 L358.4,250.0 L356.6,250.7 L354.6,250.6 L352.7,250.7 L350.7,250.2 L348.9,251.0 L346.9,250.6 L345.1,250.7 L343.1,252.1 L341.3,250.0 L339.2,251.7 L337.5,250.3 L335.7,249.3 L333.7,249.5 L332.2,248.1 L329.7,249.3 L328.2,248.0 L326.9,246.2 L324.9,245.9 L323.5,244.6 L321.4,244.3 L320.0,243.0 L318.6,241.7 L316.9,240.7 L315.6,239.3 L313.5,238.7 L312.1,237.3 L312.1,234.8 L310.3,233.8 L309.4,232.1 L308.6,230.3 L307.0,229.1 L306.1,227.4 L305.7,225.5 L303.5,224.3 L302.9,222.5 L303.2,220.3 L302.0,218.7 L302.6,216.5 L302.1,214.7 L301.8,212.8 L300.8,211.1 L300.6,209.1 L300.4,207.2 L300.5,205.3 L300.9,203.4 L300.0,201.4 L300.4,199.5 L300.9,197.6 L301.9,195.9 L302.7,194.1 L301.5,191.8 L302.2,189.9 L302.6,188.0 L304.6,186.7 L304.8,184.7 L305.8,183.1 L306.5,181.2 L308.7,180.3 L309.2,178.4 L310.8,177.2 L311.5,175.4 L313.3,174.3 L314.3,172.7 L315.0,170.6 L317.2,170.2 L317.9,168.0 L319.6,167.1 L321.4,166.3 L323.0,165.3 L324.7,164.3 L326.8,164.3 L328.5,163.4 L330.1,162.2 L332.2,162.5 L333.6,160.6 L335.4,159.9 L337.5,160.6 L339.3,159.7 L341.2,159.6 L343.1,158.6 L345.0,158.5 L347.0,159.5 L348.8,160.4 L350.9,158.5 L352.7,159.3 L354.6,159.7 L356.5,160.1 L358.1,161.8 L360.2,161.3 L362.3,161.2 L363.6,163.3 L365.2,164.2 L367.0,164.8 L369.0,165.2 L370.7,166.1 L372.0,167.6 L373.5,168.8 L375.0,170.0 L376.2,171.5 L377.7,172.7 L378.7,174.4 L381.0,174.9 L382.2,176.4 L383.7,177.7 L384.3,179.7 L385.2,181.4 L386.3,183.0 L386.4,185.1 L388.0,186.5 L388.5,188.4 L390.1,189.8 L389.4,192.1 L390.0,193.9 L391.7,195.5 L391.5,197.5 L390.4,199.7 L391.5,201.5 L391.7,203.4 Z M361.5,206.4 L361.7,205.8 L360.7,205.2 L360.9,204.6 L360.6,204.0 L360.6,203.4 L360.8,202.7 L360.4,202.2 L360.9,201.4 L360.1,201.0 L359.5,200.6 L360.0,199.7 L359.0,199.5 L358.8,198.9 L358.3,198.5 L358.0,197.9 L358.0,197.2 L357.8,196.5 L357.0,196.4 L356.4,196.1 L356.1,195.6 L355.7,195.1 L355.0,195.0 L354.4,194.7 L354.1,194.1 L353.9,193.2 L353.0,193.4 L352.6,192.8 L351.9,192.9 L351.5,192.0 L350.6,192.6 L350.1,192.2 L349.4,192.4 L348.9,191.5 L348.3,191.2 L347.7,191.2 L347.0,191.3 L346.3,192.0 L345.7,191.3 L345.0,191.2 L344.4,191.4 L343.8,192.3 L343.2,192.1 L342.5,192.2 L342.0,192.4 L341.4,192.6 L340.5,192.2 L340.0,192.7 L339.5,193.1 L338.8,193.2 L338.5,193.8 L338.1,194.4 L337.1,194.1 L336.8,194.7 L336.1,194.9 L335.9,195.5 L335.3,195.8 L334.8,196.2 L334.7,197.0 L334.3,197.4 L333.5,197.6 L333.2,198.2 L332.9,198.7 L332.8,199.4 L332.1,199.7 L331.5,200.2 L332.3,201.1 L331.1,201.4 L331.3,202.1 L330.9,202.6 L330.9,203.3 L330.7,203.9 L330.7,204.5 L330.6,205.1 L330.7,205.8 L330.8,206.4 L330.5,207.0 L330.6,207.6 L331.2,208.2 L330.3,209.0 L331.1,209.5 L330.7,210.2 L331.6,210.6 L331.2,211.4 L331.5,211.9 L332.3,212.3 L332.1,213.1 L333.0,213.3 L332.6,214.2 L332.9,214.8 L333.5,215.2 L333.7,215.9 L334.6,215.9 L334.9,216.5 L335.6,216.7 L335.4,217.8 L335.9,218.3 L336.8,218.1 L337.6,218.1 L337.9,218.7 L338.1,219.7 L339.1,219.2 L339.7,219.4 L340.1,219.9 L340.8,220.0 L341.3,220.3 L341.9,220.8 L342.4,221.4 L343.2,220.7 L343.7,221.4 L344.4,221.0 L345.0,221.3 L345.7,221.1 L346.3,221.7 L347.0,221.5 L347.6,221.3 L348.3,221.5 L348.8,220.8 L349.5,221.0 L350.3,221.2 L350.8,220.7 L351.2,220.0 L351.8,219.7 L352.7,220.1 L353.3,219.8 L353.5,219.0 L354.1,218.7 L354.9,218.8 L355.4,218.3 L355.6,217.6 L356.2,217.4 L357.1,217.4 L356.8,216.2 L357.5,216.0 L358.1,215.7 L358.2,215.0 L358.8,214.6 L359.0,214.0 L359.0,213.3 L360.2,213.2 L360.0,212.4 L360.1,211.8 L360.5,211.3 L361.0,210.8 L360.3,209.9 L360.9,209.5 L361.2,208.9 L360.9,208.2 L360.8,207.6 L361.3,207.0 Z" clip-rule="evenodd"/></clipPath><radialGradient id="g8" cx="482.3" cy="207.6" r="44.7" gradientUnits="userSpaceOnUse"><stop offset="0.33" stop-color="#eeecc3"/><stop offset="0.7" stop-color="#e9e5ad"/><stop offset="0.92" stop-color="#dcd28a"/><stop offset="1" stop-color="#bca751"/></radialGradient><clipPath id="cp8"><path d="M527.4,208.6 L526.4,210.5 L525.6,212.2 L526.0,214.1 L525.1,215.9 L524.8,217.7 L524.4,219.4 L525.0,221.5 L524.4,223.3 L523.6,225.0 L523.1,226.8 L521.8,228.3 L521.3,230.1 L519.9,231.4 L518.6,232.8 L519.1,235.4 L517.6,236.6 L516.4,238.2 L515.3,239.7 L513.3,240.4 L511.6,241.3 L510.1,242.4 L509.4,244.5 L508.0,245.8 L506.6,247.1 L504.3,246.9 L503.1,248.8 L501.1,248.9 L499.7,250.3 L497.5,249.9 L496.0,251.3 L494.2,251.7 L492.5,252.7 L490.3,251.5 L488.8,253.8 L486.8,253.1 L485.0,253.9 L483.0,252.2 L481.1,253.9 L479.2,253.9 L477.5,252.6 L475.6,252.5 L473.6,253.2 L472.0,251.6 L470.3,250.9 L468.2,251.4 L466.3,251.1 L464.7,249.8 L463.4,248.2 L461.5,248.0 L459.6,247.4 L457.9,246.6 L456.3,245.6 L454.8,244.5 L452.9,243.8 L452.9,240.9 L450.3,241.0 L449.8,238.8 L449.0,237.1 L447.5,236.0 L446.4,234.5 L445.6,232.8 L444.0,231.6 L442.1,230.6 L441.8,228.6 L441.8,226.5 L441.1,224.8 L440.8,223.0 L439.1,221.5 L439.7,219.5 L438.5,217.8 L436.9,216.2 L436.8,214.3 L436.9,212.4 L437.5,210.5 L438.2,208.6 L437.7,206.7 L437.7,204.9 L437.7,203.0 L437.6,201.1 L439.3,199.5 L438.7,197.5 L439.3,195.7 L440.8,194.3 L441.1,192.4 L440.6,190.2 L441.3,188.4 L443.8,187.6 L443.5,185.3 L445.0,184.0 L445.1,181.7 L447.3,181.1 L448.9,180.0 L448.9,177.5 L450.8,176.7 L451.5,174.7 L453.9,174.6 L455.6,173.8 L456.5,171.8 L457.7,170.2 L460.1,170.7 L461.5,169.3 L463.0,168.0 L464.5,166.8 L466.7,167.4 L468.3,166.3 L469.9,164.9 L471.7,164.4 L473.7,164.8 L475.6,164.5 L477.4,164.2 L479.3,163.4 L481.2,164.8 L483.0,164.6 L485.0,163.3 L486.7,164.6 L488.5,165.5 L490.3,165.7 L492.1,165.9 L494.1,165.7 L496.2,165.2 L498.0,166.0 L499.4,167.6 L501.0,168.4 L502.9,168.9 L504.5,169.9 L505.7,171.5 L508.2,171.1 L509.7,172.3 L510.0,174.9 L512.4,175.0 L513.1,177.0 L514.4,178.3 L515.4,179.9 L517.4,180.7 L517.7,182.8 L520.2,183.4 L519.7,185.9 L522.1,186.7 L523.0,188.3 L523.9,190.0 L524.2,192.0 L525.1,193.7 L523.9,196.0 L525.8,197.4 L524.7,199.6 L526.6,201.1 L527.5,202.9 L525.6,205.0 L527.8,206.7 Z M497.6,207.6 L497.3,207.0 L497.2,206.4 L496.6,205.9 L497.2,205.2 L495.9,204.8 L496.6,204.1 L496.4,203.5 L496.0,203.0 L496.0,202.4 L495.2,202.1 L495.8,201.2 L495.4,200.8 L494.7,200.4 L494.5,199.9 L494.4,199.2 L494.1,198.7 L493.3,198.5 L492.7,198.3 L492.9,197.3 L491.6,197.7 L491.8,196.6 L490.8,197.0 L490.6,196.2 L490.3,195.5 L489.6,195.5 L489.3,194.9 L488.7,194.7 L487.9,194.8 L487.6,194.2 L486.6,194.9 L486.4,193.7 L485.6,194.4 L485.0,194.1 L484.5,193.4 L483.8,193.7 L483.2,193.6 L482.6,193.1 L482.0,193.8 L481.4,194.1 L480.7,193.5 L480.1,193.7 L479.5,193.7 L479.0,194.0 L478.3,194.0 L477.6,193.8 L477.2,194.5 L476.8,195.2 L476.1,195.0 L475.5,195.1 L474.9,195.4 L474.8,196.4 L474.2,196.5 L473.7,196.8 L473.3,197.2 L472.1,196.8 L472.2,197.8 L471.3,197.8 L471.4,198.6 L470.7,198.8 L470.5,199.4 L469.8,199.7 L470.2,200.6 L469.7,201.0 L469.8,201.7 L469.3,202.1 L468.1,202.3 L468.9,203.2 L468.4,203.6 L467.6,204.0 L468.4,204.8 L468.5,205.4 L468.0,205.9 L467.9,206.4 L468.1,207.0 L467.1,207.6 L467.9,208.2 L468.3,208.7 L468.4,209.3 L467.8,209.9 L468.0,210.5 L467.7,211.2 L468.9,211.5 L468.3,212.3 L469.3,212.5 L469.5,213.0 L469.7,213.6 L469.0,214.5 L469.8,214.8 L470.0,215.4 L470.6,215.7 L471.1,216.0 L471.4,216.5 L471.5,217.2 L472.2,217.4 L472.6,217.9 L472.6,218.8 L473.5,218.6 L473.6,219.5 L474.5,219.3 L474.8,220.0 L475.7,219.6 L476.2,219.9 L476.7,220.2 L477.0,221.1 L477.7,221.0 L478.3,221.1 L478.9,221.5 L479.6,221.3 L480.1,221.5 L480.7,221.7 L481.4,221.5 L482.0,221.8 L482.6,220.9 L483.3,222.1 L483.9,221.7 L484.5,221.5 L485.1,221.7 L485.5,220.7 L486.1,220.6 L486.8,220.9 L487.3,220.5 L488.1,220.8 L488.5,220.2 L489.3,220.3 L489.7,219.8 L490.4,219.7 L490.3,218.6 L490.9,218.4 L491.5,218.1 L491.7,217.6 L492.5,217.5 L492.8,216.9 L493.5,216.8 L493.9,216.4 L494.3,215.9 L494.0,215.0 L494.8,214.8 L495.3,214.4 L495.8,214.0 L495.6,213.2 L495.4,212.5 L496.7,212.4 L496.2,211.6 L497.1,211.2 L495.9,210.4 L496.3,209.8 L496.8,209.3 L496.4,208.7 L497.0,208.2 Z" clip-rule="evenodd"/></clipPath><radialGradient id="g9" cx="618.5" cy="213.9" r="45.1" gradientUnits="userSpaceOnUse"><stop offset="0.31" stop-color="#eeecc2"/><stop offset="0.7" stop-color="#e9e4ac"/><stop offset="0.92" stop-color="#dcd088"/><stop offset="1" stop-color="#baa24c"/></radialGradient><clipPath id="cp9"><path d="M661.7,213.9 L661.5,215.8 L660.9,217.7 L659.8,219.4 L659.6,221.3 L659.4,223.1 L659.1,224.9 L658.6,226.7 L659.2,228.9 L657.8,230.3 L658.4,232.7 L656.1,233.6 L655.3,235.3 L654.3,236.8 L653.3,238.3 L653.4,240.7 L652.1,242.0 L650.3,242.9 L650.1,245.3 L648.6,246.5 L646.9,247.3 L645.8,248.9 L644.5,250.2 L642.7,250.8 L640.7,251.1 L639.6,252.6 L638.7,254.9 L636.4,254.4 L635.1,255.8 L632.9,255.2 L631.8,257.5 L630.1,258.3 L628.0,257.5 L626.3,257.9 L624.6,258.5 L622.7,258.1 L620.9,258.1 L619.2,258.0 L617.4,259.5 L615.6,258.9 L613.7,259.9 L611.9,259.7 L610.1,259.2 L608.2,258.9 L606.5,258.2 L605.4,255.6 L603.7,255.3 L601.2,256.6 L599.6,255.6 L598.3,254.1 L596.7,253.2 L595.4,251.8 L593.9,250.8 L592.9,249.1 L590.9,248.7 L590.0,247.0 L588.9,245.4 L586.4,245.4 L585.7,243.5 L583.9,242.5 L584.0,240.1 L582.4,239.0 L582.1,237.0 L580.0,236.0 L580.5,233.6 L578.8,232.4 L578.3,230.6 L578.2,228.6 L578.2,226.6 L576.8,225.1 L576.3,223.3 L575.2,221.6 L576.5,219.5 L576.3,217.6 L575.9,215.8 L574.6,213.9 L576.1,212.0 L575.2,210.1 L576.9,208.4 L577.0,206.6 L575.8,204.4 L576.8,202.7 L578.2,201.2 L577.9,199.1 L577.4,196.9 L579.4,195.7 L579.7,193.8 L580.9,192.3 L581.6,190.5 L583.5,189.6 L582.8,186.8 L584.5,185.8 L586.1,184.7 L587.4,183.4 L588.8,182.3 L588.9,179.5 L590.4,178.5 L592.5,178.2 L593.7,176.6 L595.2,175.7 L597.2,175.5 L599.0,175.0 L599.8,172.5 L602.0,173.1 L603.3,171.5 L605.4,172.2 L607.1,171.7 L608.7,170.9 L610.2,169.2 L612.0,169.0 L613.7,167.8 L615.6,168.5 L617.4,168.8 L619.2,170.1 L621.1,167.7 L622.8,169.1 L624.7,168.4 L626.1,170.8 L628.3,169.1 L629.8,170.5 L631.3,171.7 L633.2,171.9 L634.5,173.4 L636.7,172.9 L637.9,174.6 L640.0,174.4 L640.8,176.5 L643.1,176.5 L644.4,177.7 L646.0,178.7 L647.8,179.5 L648.0,182.1 L649.9,182.7 L650.6,184.6 L652.7,185.2 L653.7,186.9 L654.6,188.6 L655.2,190.4 L655.4,192.5 L657.6,193.4 L658.6,195.1 L659.2,196.9 L658.4,199.2 L660.1,200.6 L660.3,202.6 L661.1,204.3 L661.3,206.2 L660.7,208.3 L660.8,210.1 L661.9,212.0 Z M632.6,213.9 L632.4,213.3 L632.9,212.6 L631.6,212.2 L631.5,211.6 L632.0,210.9 L631.4,210.5 L632.3,209.6 L631.0,209.4 L632.0,208.4 L630.8,208.2 L630.5,207.8 L631.0,206.8 L630.6,206.3 L630.0,206.0 L629.9,205.3 L629.5,204.9 L629.5,204.0 L628.6,204.0 L628.3,203.6 L627.8,203.2 L627.3,202.9 L627.1,202.2 L626.1,202.6 L626.1,201.5 L625.8,200.9 L625.1,200.8 L624.4,200.8 L623.8,200.8 L623.1,201.0 L622.6,200.8 L622.3,200.0 L621.8,199.3 L621.2,199.2 L620.5,200.1 L620.0,199.2 L619.4,199.1 L618.8,199.5 L618.2,198.9 L617.7,200.0 L617.1,199.8 L616.5,199.6 L615.8,199.4 L615.3,200.0 L614.8,200.3 L614.0,199.7 L613.7,200.6 L613.2,200.7 L612.8,201.3 L612.1,201.2 L611.4,201.2 L611.2,201.9 L610.4,201.9 L610.1,202.4 L610.1,203.4 L608.7,202.7 L609.0,203.8 L608.3,204.0 L607.5,204.0 L608.0,205.2 L607.8,205.8 L607.3,206.2 L607.1,206.7 L605.9,206.7 L606.0,207.5 L606.4,208.3 L605.9,208.7 L605.4,209.2 L605.7,209.9 L605.3,210.4 L604.3,210.8 L604.9,211.5 L605.1,212.1 L604.5,212.7 L605.2,213.3 L604.6,213.9 L604.4,214.5 L605.3,215.1 L604.6,215.7 L605.1,216.3 L604.5,217.0 L604.9,217.5 L604.6,218.2 L605.2,218.7 L606.0,219.0 L606.2,219.6 L605.8,220.4 L605.9,221.1 L607.2,221.0 L607.0,221.8 L607.5,222.2 L607.6,222.8 L607.6,223.7 L608.3,223.8 L608.5,224.5 L608.9,224.9 L609.9,224.7 L610.0,225.5 L610.7,225.6 L611.1,226.0 L611.5,226.4 L611.9,226.9 L612.8,226.5 L612.9,227.7 L613.8,226.9 L614.3,227.3 L614.6,228.3 L615.2,228.7 L615.9,227.8 L616.4,228.8 L617.1,227.5 L617.6,229.0 L618.2,227.8 L618.8,227.6 L619.4,228.7 L619.9,227.7 L620.6,228.5 L621.0,227.3 L621.5,227.4 L622.2,227.6 L622.6,227.0 L623.3,227.4 L623.8,227.0 L624.6,227.3 L624.9,226.7 L625.8,227.0 L626.2,226.5 L626.2,225.3 L627.3,225.9 L627.7,225.5 L627.9,224.7 L628.3,224.2 L628.3,223.4 L628.8,223.1 L629.1,222.6 L629.4,222.1 L630.2,222.0 L630.2,221.2 L631.0,221.0 L631.0,220.4 L631.6,220.0 L630.8,219.0 L632.1,218.8 L631.8,218.1 L632.2,217.5 L631.7,216.8 L632.5,216.4 L632.2,215.7 L632.7,215.1 L632.5,214.5 Z" clip-rule="evenodd"/></clipPath></defs>
<rect width="677" height="747" fill="#fff"/>
<text x="0.5" y="12.7" font-family="Liberation Serif" font-weight="bold" font-size="14" fill="#000" style="font-family:'Liberation Serif',serif">a</text>
<rect x="14" y="6" width="131.0" height="130.0" fill="url(#bg0)"/><rect x="14" y="6" width="131.0" height="130.0" filter="url(#noise)" opacity="0.2"/><g filter="url(#soft)"><g clip-path="url(#cp0)"><rect x="25.5" y="19.5" width="111.4" height="111.4" fill="url(#g0)"/><g filter="url(#wblur)"><polygon points="95.9,78.5 94.6,82.1 130.7,101.7 133.7,94.8 135.8,87.5" fill="#f8f8e0" fill-opacity="0.47"/><polygon points="94.6,82.1 92.9,84.6 124.1,111.8 127.7,106.9 130.7,101.7" fill="#f8f8e0" fill-opacity="0.32"/><polygon points="92.9,84.6 90.9,86.5 116.5,119.4 120.4,115.8 124.1,111.8" fill="#eceebe" fill-opacity="0.30"/><polygon points="90.9,86.5 89.0,87.8 108.6,124.8 112.7,122.3 116.5,119.4" fill="#f8f8e0" fill-opacity="0.44"/><polygon points="89.0,87.8 85.9,89.1 96.7,129.9 102.8,127.7 108.6,124.8" fill="#eceebe" fill-opacity="0.30"/><polygon points="85.9,89.1 81.9,89.7 80.9,132.1 88.9,131.6 96.7,129.9" fill="#eceebe" fill-opacity="0.30"/><polygon points="81.9,89.7 79.6,89.5 71.9,131.3 76.4,131.9 80.9,132.1" fill="#dedc98" fill-opacity="0.39"/><polygon points="79.6,89.5 75.5,88.1 55.4,125.7 63.5,129.2 71.9,131.3" fill="#dedc98" fill-opacity="0.31"/><polygon points="75.5,88.1 73.4,86.7 47.2,120.4 51.2,123.3 55.4,125.7" fill="#dedc98" fill-opacity="0.30"/><polygon points="73.4,86.7 70.7,84.0 36.6,109.5 41.5,115.3 47.2,120.4" fill="#f8f8e0" fill-opacity="0.32"/><polygon points="70.7,84.0 69.3,81.8 31.1,100.6 33.6,105.2 36.6,109.5" fill="#dedc98" fill-opacity="0.24"/><polygon points="69.3,81.8 68.0,78.0 26.2,85.6 28.1,93.3 31.1,100.6" fill="#eceebe" fill-opacity="0.30"/><polygon points="68.0,78.0 68.0,73.3 25.9,66.8 25.3,76.2 26.2,85.6" fill="#f8f8e0" fill-opacity="0.25"/><polygon points="68.0,73.3 68.8,70.2 29.0,54.7 27.1,60.6 25.9,66.8" fill="#f8f8e0" fill-opacity="0.32"/><polygon points="68.8,70.2 70.2,67.4 34.8,43.4 31.6,48.9 29.0,54.7" fill="#dedc98" fill-opacity="0.24"/><polygon points="70.2,67.4 72.1,65.1 42.4,34.2 38.3,38.6 34.8,43.4" fill="#f8f8e0" fill-opacity="0.28"/><polygon points="72.1,65.1 73.9,63.7 49.3,28.4 45.7,31.2 42.4,34.2" fill="#f8f8e0" fill-opacity="0.50"/><polygon points="73.9,63.7 76.6,62.2 59.8,22.6 54.4,25.2 49.3,28.4" fill="#dedc98" fill-opacity="0.38"/><polygon points="76.6,62.2 79.4,61.4 70.9,19.3 65.2,20.7 59.8,22.6" fill="#dedc98" fill-opacity="0.21"/><polygon points="79.4,61.4 82.6,61.1 83.7,18.3 77.3,18.4 70.9,19.3" fill="#dedc98" fill-opacity="0.39"/><polygon points="82.6,61.1 86.5,61.9 98.9,21.2 91.4,19.2 83.7,18.3" fill="#eceebe" fill-opacity="0.30"/><polygon points="86.5,61.9 89.3,63.1 109.9,26.3 104.5,23.5 98.9,21.2" fill="#f8f8e0" fill-opacity="0.30"/><polygon points="89.3,63.1 92.0,65.3 120.6,34.8 115.5,30.2 109.9,26.3" fill="#eceebe" fill-opacity="0.30"/><polygon points="92.0,65.3 93.8,67.4 127.7,43.5 124.3,38.9 120.6,34.8" fill="#dedc98" fill-opacity="0.31"/><polygon points="93.8,67.4 95.7,71.7 135.2,60.3 132.1,51.6 127.7,43.5" fill="#f8f8e0" fill-opacity="0.36"/><polygon points="95.7,71.7 96.1,74.0 136.9,69.5 136.2,64.9 135.2,60.3" fill="#dedc98" fill-opacity="0.25"/><polygon points="96.1,74.0 95.9,78.5 135.8,87.5 137.0,78.6 136.9,69.5" fill="#eceebe" fill-opacity="0.30"/></g><g filter="url(#sblur)"><line x1="96.9" y1="83.3" x2="121.4" y2="96.7" stroke="#cccc80" stroke-opacity="0.35" stroke-width="1.1"/><line x1="96.7" y1="87.8" x2="115.4" y2="104.4" stroke="#cccc80" stroke-opacity="0.35" stroke-width="0.9"/><line x1="89.1" y1="100.2" x2="95.4" y2="125.5" stroke="#cccc80" stroke-opacity="0.35" stroke-width="0.8"/><line x1="81.9" y1="94.5" x2="81.0" y2="117.3" stroke="#cccc80" stroke-opacity="0.35" stroke-width="1.0"/><line x1="69.7" y1="99.2" x2="57.5" y2="121.8" stroke="#cccc80" stroke-opacity="0.35" stroke-width="1.0"/><line x1="68.1" y1="93.8" x2="50.7" y2="115.8" stroke="#cccc80" stroke-opacity="0.35" stroke-width="0.8"/><line x1="63.4" y1="89.6" x2="46.3" y2="102.1" stroke="#cccc80" stroke-opacity="0.35" stroke-width="0.9"/><line x1="64.7" y1="68.7" x2="41.7" y2="59.7" stroke="#cccc80" stroke-opacity="0.35" stroke-width="0.6"/><line x1="65.4" y1="64.2" x2="38.4" y2="45.9" stroke="#cccc80" stroke-opacity="0.35" stroke-width="0.8"/><line x1="64.3" y1="56.9" x2="52.3" y2="44.7" stroke="#cccc80" stroke-opacity="0.35" stroke-width="0.7"/><line x1="72.0" y1="60.9" x2="57.0" y2="39.7" stroke="#cccc80" stroke-opacity="0.35" stroke-width="0.9"/><line x1="72.6" y1="52.7" x2="65.9" y2="37.6" stroke="#cccc80" stroke-opacity="0.35" stroke-width="1.0"/><line x1="77.8" y1="53.1" x2="73.1" y2="31.3" stroke="#cccc80" stroke-opacity="0.35" stroke-width="0.7"/><line x1="90.3" y1="50.3" x2="97.0" y2="27.0" stroke="#cccc80" stroke-opacity="0.35" stroke-width="0.7"/><line x1="64.0" y1="76.1" x2="35.4" y2="76.9" stroke="#fafae4" stroke-opacity="0.46" stroke-width="1.1"/><line x1="63.0" y1="73.8" x2="34.2" y2="71.3" stroke="#d8d890" stroke-opacity="0.38" stroke-width="1.1"/><line x1="62.0" y1="66.2" x2="48.0" y2="59.7" stroke="#d8d890" stroke-opacity="0.36" stroke-width="1.1"/><line x1="101.9" y1="69.7" x2="117.4" y2="64.8" stroke="#fafae4" stroke-opacity="0.41" stroke-width="1.3"/><line x1="68.2" y1="89.0" x2="54.7" y2="101.6" stroke="#fafae4" stroke-opacity="0.38" stroke-width="0.8"/><line x1="80.3" y1="94.7" x2="78.0" y2="113.1" stroke="#d8d890" stroke-opacity="0.38" stroke-width="0.7"/><line x1="60.8" y1="71.9" x2="38.2" y2="68.0" stroke="#d8d890" stroke-opacity="0.37" stroke-width="0.8"/><line x1="82.7" y1="57.7" x2="83.1" y2="28.1" stroke="#fafae4" stroke-opacity="0.46" stroke-width="0.7"/><line x1="97.2" y1="65.7" x2="112.5" y2="55.1" stroke="#d8d890" stroke-opacity="0.24" stroke-width="1.0"/><line x1="71.8" y1="93.6" x2="58.1" y2="116.9" stroke="#d8d890" stroke-opacity="0.23" stroke-width="0.9"/><line x1="58.9" y1="77.5" x2="43.5" y2="78.6" stroke="#fafae4" stroke-opacity="0.37" stroke-width="1.1"/><line x1="77.7" y1="94.4" x2="70.5" y2="123.0" stroke="#d8d890" stroke-opacity="0.31" stroke-width="0.8"/><line x1="98.7" y1="85.4" x2="116.2" y2="96.5" stroke="#fafae4" stroke-opacity="0.38" stroke-width="1.3"/><line x1="100.8" y1="74.7" x2="131.7" y2="73.3" stroke="#d8d890" stroke-opacity="0.21" stroke-width="0.7"/><line x1="81.7" y1="57.5" x2="80.5" y2="32.6" stroke="#d8d890" stroke-opacity="0.33" stroke-width="0.8"/><line x1="96.1" y1="87.6" x2="114.6" y2="104.3" stroke="#d8d890" stroke-opacity="0.28" stroke-width="0.7"/><line x1="102.0" y1="68.9" x2="121.7" y2="61.8" stroke="#d8d890" stroke-opacity="0.28" stroke-width="0.9"/><line x1="95.3" y1="88.1" x2="111.1" y2="104.1" stroke="#fafae4" stroke-opacity="0.35" stroke-width="1.3"/><line x1="87.3" y1="90.5" x2="97.2" y2="121.0" stroke="#fafae4" stroke-opacity="0.27" stroke-width="0.9"/><line x1="93.3" y1="63.3" x2="115.9" y2="37.6" stroke="#d8d890" stroke-opacity="0.37" stroke-width="0.8"/><line x1="101.8" y1="82.1" x2="124.9" y2="90.2" stroke="#fafae4" stroke-opacity="0.49" stroke-width="0.9"/><line x1="73.3" y1="95.4" x2="61.8" y2="120.4" stroke="#fafae4" stroke-opacity="0.26" stroke-width="1.1"/><line x1="63.8" y1="88.7" x2="44.9" y2="102.0" stroke="#fafae4" stroke-opacity="0.27" stroke-width="1.3"/><line x1="64.6" y1="86.3" x2="48.7" y2="96.0" stroke="#d8d890" stroke-opacity="0.30" stroke-width="1.2"/><line x1="65.7" y1="70.1" x2="40.6" y2="61.7" stroke="#fafae4" stroke-opacity="0.31" stroke-width="1.1"/><line x1="71.2" y1="59.8" x2="58.3" y2="41.9" stroke="#fafae4" stroke-opacity="0.42" stroke-width="0.7"/><line x1="71.8" y1="62.5" x2="53.8" y2="40.1" stroke="#d8d890" stroke-opacity="0.31" stroke-width="0.9"/><line x1="71.3" y1="94.2" x2="59.9" y2="113.1" stroke="#d8d890" stroke-opacity="0.25" stroke-width="0.7"/><line x1="64.8" y1="69.1" x2="41.8" y2="60.5" stroke="#d8d890" stroke-opacity="0.24" stroke-width="0.6"/><line x1="94.9" y1="61.7" x2="114.1" y2="39.8" stroke="#fafae4" stroke-opacity="0.32" stroke-width="1.1"/><line x1="61.8" y1="75.6" x2="39.3" y2="75.7" stroke="#d8d890" stroke-opacity="0.31" stroke-width="1.2"/><line x1="91.6" y1="61.8" x2="110.4" y2="33.6" stroke="#fafae4" stroke-opacity="0.41" stroke-width="0.9"/><line x1="73.6" y1="95.9" x2="61.7" y2="123.5" stroke="#fafae4" stroke-opacity="0.36" stroke-width="1.1"/><line x1="89.7" y1="53.5" x2="95.9" y2="33.1" stroke="#fafae4" stroke-opacity="0.48" stroke-width="1.2"/><line x1="62.9" y1="72.0" x2="38.6" y2="67.5" stroke="#d8d890" stroke-opacity="0.24" stroke-width="0.7"/><line x1="98.4" y1="72.5" x2="129.5" y2="66.4" stroke="#d8d890" stroke-opacity="0.37" stroke-width="1.2"/><line x1="100.7" y1="86.5" x2="112.4" y2="94.0" stroke="#fafae4" stroke-opacity="0.39" stroke-width="0.6"/><line x1="77.0" y1="52.7" x2="71.2" y2="29.5" stroke="#d8d890" stroke-opacity="0.29" stroke-width="1.1"/><line x1="96.7" y1="86.1" x2="122.5" y2="105.5" stroke="#fafae4" stroke-opacity="0.32" stroke-width="1.2"/><line x1="101.9" y1="75.5" x2="132.9" y2="75.6" stroke="#fafae4" stroke-opacity="0.33" stroke-width="1.2"/><line x1="83.0" y1="95.3" x2="83.3" y2="120.7" stroke="#fafae4" stroke-opacity="0.35" stroke-width="1.1"/><line x1="98.3" y1="81.3" x2="128.2" y2="92.5" stroke="#d8d890" stroke-opacity="0.22" stroke-width="0.8"/><line x1="65.4" y1="84.0" x2="42.2" y2="95.7" stroke="#d8d890" stroke-opacity="0.34" stroke-width="0.9"/><line x1="69.3" y1="85.1" x2="48.7" y2="100.4" stroke="#d8d890" stroke-opacity="0.21" stroke-width="0.9"/><line x1="88.6" y1="96.1" x2="93.2" y2="113.2" stroke="#fafae4" stroke-opacity="0.32" stroke-width="1.2"/><line x1="97.9" y1="88.5" x2="116.6" y2="104.6" stroke="#d8d890" stroke-opacity="0.30" stroke-width="1.2"/><line x1="101.1" y1="82.5" x2="128.6" y2="93.1" stroke="#fafae4" stroke-opacity="0.26" stroke-width="1.0"/><line x1="63.7" y1="86.2" x2="47.5" y2="95.4" stroke="#fafae4" stroke-opacity="0.43" stroke-width="0.8"/><line x1="94.5" y1="86.2" x2="110.6" y2="101.0" stroke="#fafae4" stroke-opacity="0.41" stroke-width="1.0"/><line x1="64.2" y1="79.1" x2="34.6" y2="85.0" stroke="#d8d890" stroke-opacity="0.40" stroke-width="0.9"/><line x1="94.7" y1="85.9" x2="110.3" y2="99.3" stroke="#fafae4" stroke-opacity="0.47" stroke-width="1.0"/><line x1="83.0" y1="56.6" x2="83.9" y2="26.2" stroke="#fafae4" stroke-opacity="0.45" stroke-width="0.7"/><line x1="77.2" y1="58.6" x2="68.8" y2="31.5" stroke="#fafae4" stroke-opacity="0.33" stroke-width="1.1"/><line x1="61.7" y1="78.7" x2="41.6" y2="81.7" stroke="#d8d890" stroke-opacity="0.28" stroke-width="0.9"/><line x1="60.7" y1="80.3" x2="44.9" y2="83.7" stroke="#fafae4" stroke-opacity="0.27" stroke-width="1.0"/><line x1="70.0" y1="89.4" x2="47.9" y2="114.6" stroke="#fafae4" stroke-opacity="0.44" stroke-width="1.1"/><line x1="98.1" y1="67.1" x2="123.4" y2="53.1" stroke="#d8d890" stroke-opacity="0.36" stroke-width="1.3"/><line x1="102.2" y1="84.3" x2="116.0" y2="90.6" stroke="#d8d890" stroke-opacity="0.29" stroke-width="1.1"/><line x1="87.6" y1="53.2" x2="93.3" y2="27.0" stroke="#fafae4" stroke-opacity="0.37" stroke-width="0.6"/><line x1="98.5" y1="67.7" x2="123.9" y2="55.1" stroke="#fafae4" stroke-opacity="0.31" stroke-width="1.2"/><line x1="60.9" y1="80.7" x2="37.1" y2="86.5" stroke="#d8d890" stroke-opacity="0.28" stroke-width="0.7"/><line x1="64.6" y1="86.8" x2="44.6" y2="99.6" stroke="#d8d890" stroke-opacity="0.23" stroke-width="0.9"/><line x1="95.0" y1="85.5" x2="117.5" y2="103.9" stroke="#fafae4" stroke-opacity="0.36" stroke-width="1.3"/><line x1="98.9" y1="72.4" x2="118.9" y2="68.4" stroke="#fafae4" stroke-opacity="0.47" stroke-width="0.8"/><line x1="61.0" y1="70.2" x2="34.5" y2="63.5" stroke="#d8d890" stroke-opacity="0.26" stroke-width="0.8"/><line x1="80.0" y1="93.2" x2="76.7" y2="116.0" stroke="#fafae4" stroke-opacity="0.30" stroke-width="0.8"/><line x1="77.6" y1="97.8" x2="73.5" y2="114.3" stroke="#fafae4" stroke-opacity="0.31" stroke-width="0.8"/><line x1="61.5" y1="72.0" x2="43.9" y2="68.9" stroke="#fafae4" stroke-opacity="0.26" stroke-width="0.6"/><line x1="95.0" y1="63.5" x2="113.2" y2="45.7" stroke="#fafae4" stroke-opacity="0.47" stroke-width="0.8"/><line x1="101.4" y1="81.8" x2="127.9" y2="90.8" stroke="#fafae4" stroke-opacity="0.27" stroke-width="1.0"/><ellipse cx="81.2" cy="75.2" rx="51.8" ry="52.7" fill="none" stroke="#cfcf7c" stroke-opacity="0.8" stroke-width="2.2"/><ellipse cx="82.0" cy="75.4" rx="16.7" ry="16.8" fill="none" stroke="#e0e298" stroke-opacity="0.6" stroke-width="1.5"/></g></g></g><text x="20.6" y="15.7" font-size="7.5" fill="#f2f2f2">Fresh sample</text><rect x="148" y="6" width="129.5" height="130.0" fill="url(#bg0)"/><rect x="148" y="6" width="129.5" height="130.0" filter="url(#noise)" opacity="0.2"/><g filter="url(#soft)"><g clip-path="url(#cp1)"><rect x="155.6" y="21.2" width="110.6" height="110.6" fill="url(#g1)"/><g filter="url(#wblur)"><polygon points="225.4,79.1 224.1,82.7 259.4,102.0 262.2,95.0 264.2,87.7" fill="#dedb94" fill-opacity="0.39"/><polygon points="224.1,82.7 222.4,85.2 252.9,112.3 256.4,107.3 259.4,102.0" fill="#dedb94" fill-opacity="0.35"/><polygon points="222.4,85.2 220.4,87.3 245.0,120.5 249.2,116.6 252.9,112.3" fill="#f8f8e0" fill-opacity="0.31"/><polygon points="220.4,87.3 217.8,88.9 235.1,127.1 240.2,124.1 245.0,120.5" fill="#f8f8e0" fill-opacity="0.26"/><polygon points="217.8,88.9 216.1,89.6 228.7,129.9 231.9,128.6 235.1,127.1" fill="#ececbc" fill-opacity="0.30"/><polygon points="216.1,89.6 214.3,90.1 221.8,131.8 225.3,131.0 228.7,129.9" fill="#ececbc" fill-opacity="0.30"/><polygon points="214.3,90.1 210.2,90.4 206.2,132.8 214.0,132.9 221.8,131.8" fill="#dedb94" fill-opacity="0.23"/><polygon points="210.2,90.4 207.8,90.0 197.3,131.2 201.7,132.2 206.2,132.8" fill="#dedb94" fill-opacity="0.34"/><polygon points="207.8,90.0 204.2,88.5 183.4,125.2 190.2,128.7 197.3,131.2" fill="#dedb94" fill-opacity="0.24"/><polygon points="204.2,88.5 201.2,86.2 172.3,116.2 177.6,121.1 183.4,125.2" fill="#dedb94" fill-opacity="0.34"/><polygon points="201.2,86.2 199.5,84.1 165.7,107.8 168.8,112.2 172.3,116.2" fill="#f8f8e0" fill-opacity="0.33"/><polygon points="199.5,84.1 198.0,81.3 160.1,96.4 162.6,102.3 165.7,107.8" fill="#f8f8e0" fill-opacity="0.34"/><polygon points="198.0,81.3 197.3,78.2 157.1,84.3 158.3,90.5 160.1,96.4" fill="#ececbc" fill-opacity="0.30"/><polygon points="197.3,78.2 197.1,76.1 156.6,75.5 156.7,79.9 157.1,84.3" fill="#f8f8e0" fill-opacity="0.44"/><polygon points="197.1,76.1 197.3,74.2 157.2,68.0 156.8,71.8 156.6,75.5" fill="#ececbc" fill-opacity="0.30"/><polygon points="197.3,74.2 197.7,72.2 158.9,60.0 157.9,64.0 157.2,68.0" fill="#dedb94" fill-opacity="0.33"/><polygon points="197.7,72.2 199.1,69.2 164.0,48.0 161.1,53.9 158.9,60.0" fill="#dedb94" fill-opacity="0.27"/><polygon points="199.1,69.2 200.3,67.4 168.7,40.9 166.2,44.4 164.0,48.0" fill="#dedb94" fill-opacity="0.37"/><polygon points="200.3,67.4 203.4,64.6 180.4,29.7 174.2,34.9 168.7,40.9" fill="#f8f8e0" fill-opacity="0.38"/><polygon points="203.4,64.6 206.5,63.0 192.3,23.4 186.1,26.2 180.4,29.7" fill="#f8f8e0" fill-opacity="0.37"/><polygon points="206.5,63.0 208.3,62.5 199.1,21.4 195.7,22.3 192.3,23.4" fill="#f8f8e0" fill-opacity="0.39"/><polygon points="208.3,62.5 210.4,62.2 207.2,20.1 203.2,20.6 199.1,21.4" fill="#dedb94" fill-opacity="0.38"/><polygon points="210.4,62.2 213.8,62.4 220.0,20.8 213.6,20.1 207.2,20.1" fill="#dedb94" fill-opacity="0.27"/><polygon points="213.8,62.4 215.7,62.8 227.1,22.6 223.6,21.6 220.0,20.8" fill="#dedb94" fill-opacity="0.32"/><polygon points="215.7,62.8 217.5,63.5 234.1,25.4 230.6,23.9 227.1,22.6" fill="#f8f8e0" fill-opacity="0.44"/><polygon points="217.5,63.5 219.2,64.5 240.5,29.1 237.3,27.2 234.1,25.4" fill="#f8f8e0" fill-opacity="0.34"/><polygon points="219.2,64.5 222.1,67.0 251.6,39.1 246.4,33.7 240.5,29.1" fill="#f8f8e0" fill-opacity="0.42"/><polygon points="222.1,67.0 224.1,69.9 259.4,51.0 255.9,44.8 251.6,39.1" fill="#ececbc" fill-opacity="0.30"/><polygon points="224.1,69.9 225.0,72.0 262.7,59.4 261.2,55.2 259.4,51.0" fill="#ececbc" fill-opacity="0.30"/><polygon points="225.0,72.0 225.7,76.0 265.2,75.5 264.5,67.4 262.7,59.4" fill="#dedb94" fill-opacity="0.40"/><polygon points="225.7,76.0 225.4,79.1 264.2,87.7 265.0,81.6 265.2,75.5" fill="#dedb94" fill-opacity="0.33"/></g><g filter="url(#sblur)"><line x1="235.9" y1="81.2" x2="259.4" y2="86.7" stroke="#cac77a" stroke-opacity="0.38" stroke-width="0.7"/><line x1="234.8" y1="88.0" x2="253.2" y2="98.7" stroke="#cac77a" stroke-opacity="0.38" stroke-width="0.8"/><line x1="220.3" y1="94.1" x2="228.2" y2="112.7" stroke="#cac77a" stroke-opacity="0.38" stroke-width="1.1"/><line x1="209.4" y1="99.2" x2="207.2" y2="120.4" stroke="#cac77a" stroke-opacity="0.38" stroke-width="0.8"/><line x1="205.8" y1="97.6" x2="200.9" y2="116.6" stroke="#cac77a" stroke-opacity="0.38" stroke-width="1.1"/><line x1="192.4" y1="88.8" x2="172.3" y2="103.2" stroke="#cac77a" stroke-opacity="0.38" stroke-width="0.9"/><line x1="190.2" y1="84.2" x2="169.5" y2="92.8" stroke="#cac77a" stroke-opacity="0.38" stroke-width="1.0"/><line x1="189.2" y1="79.3" x2="169.5" y2="82.5" stroke="#cac77a" stroke-opacity="0.38" stroke-width="0.8"/><line x1="192.5" y1="73.5" x2="169.4" y2="70.0" stroke="#cac77a" stroke-opacity="0.38" stroke-width="0.9"/><line x1="194.6" y1="66.6" x2="170.1" y2="51.8" stroke="#cac77a" stroke-opacity="0.38" stroke-width="1.0"/><line x1="214.6" y1="57.6" x2="219.2" y2="25.5" stroke="#cac77a" stroke-opacity="0.38" stroke-width="0.7"/><line x1="224.2" y1="56.9" x2="232.8" y2="41.5" stroke="#cac77a" stroke-opacity="0.38" stroke-width="0.7"/><line x1="226.3" y1="63.3" x2="242.0" y2="48.0" stroke="#cac77a" stroke-opacity="0.38" stroke-width="0.7"/><line x1="234.6" y1="64.7" x2="247.7" y2="57.2" stroke="#cac77a" stroke-opacity="0.38" stroke-width="1.0"/><line x1="227.5" y1="71.2" x2="257.1" y2="61.3" stroke="#cac77a" stroke-opacity="0.38" stroke-width="0.8"/><line x1="238.1" y1="75.8" x2="252.3" y2="75.7" stroke="#cac77a" stroke-opacity="0.38" stroke-width="0.6"/><line x1="210.4" y1="97.6" x2="209.3" y2="113.2" stroke="#fafae4" stroke-opacity="0.46" stroke-width="1.1"/><line x1="193.6" y1="65.5" x2="170.0" y2="50.5" stroke="#d7d68b" stroke-opacity="0.35" stroke-width="1.2"/><line x1="198.6" y1="60.7" x2="186.6" y2="45.3" stroke="#fafae4" stroke-opacity="0.28" stroke-width="0.9"/><line x1="210.1" y1="97.3" x2="207.9" y2="127.1" stroke="#fafae4" stroke-opacity="0.35" stroke-width="1.1"/><line x1="223.8" y1="94.7" x2="234.5" y2="113.3" stroke="#fafae4" stroke-opacity="0.46" stroke-width="1.0"/><line x1="199.4" y1="57.4" x2="185.1" y2="33.6" stroke="#fafae4" stroke-opacity="0.25" stroke-width="1.2"/><line x1="225.5" y1="67.3" x2="243.6" y2="54.4" stroke="#fafae4" stroke-opacity="0.43" stroke-width="1.3"/><line x1="217.2" y1="93.8" x2="225.8" y2="123.9" stroke="#fafae4" stroke-opacity="0.30" stroke-width="0.9"/><line x1="233.2" y1="78.5" x2="251.5" y2="80.8" stroke="#fafae4" stroke-opacity="0.44" stroke-width="0.9"/><line x1="228.7" y1="75.3" x2="253.8" y2="73.8" stroke="#d7d68b" stroke-opacity="0.36" stroke-width="1.0"/><line x1="199.8" y1="62.9" x2="184.3" y2="44.1" stroke="#fafae4" stroke-opacity="0.27" stroke-width="1.2"/><line x1="196.8" y1="61.3" x2="180.5" y2="43.5" stroke="#fafae4" stroke-opacity="0.33" stroke-width="0.9"/><line x1="233.7" y1="69.7" x2="259.0" y2="61.5" stroke="#d7d68b" stroke-opacity="0.31" stroke-width="0.7"/><line x1="226.3" y1="69.3" x2="253.6" y2="55.4" stroke="#fafae4" stroke-opacity="0.41" stroke-width="1.1"/><line x1="218.1" y1="60.8" x2="228.8" y2="33.3" stroke="#d7d68b" stroke-opacity="0.38" stroke-width="0.9"/><line x1="233.1" y1="75.8" x2="255.9" y2="75.4" stroke="#d7d68b" stroke-opacity="0.31" stroke-width="1.1"/><line x1="214.0" y1="97.2" x2="216.5" y2="123.5" stroke="#d7d68b" stroke-opacity="0.35" stroke-width="0.9"/><line x1="218.9" y1="55.9" x2="224.8" y2="36.8" stroke="#d7d68b" stroke-opacity="0.28" stroke-width="0.9"/><line x1="199.5" y1="64.8" x2="176.1" y2="41.0" stroke="#fafae4" stroke-opacity="0.33" stroke-width="0.9"/><line x1="228.8" y1="86.5" x2="245.4" y2="97.8" stroke="#d7d68b" stroke-opacity="0.32" stroke-width="0.8"/><line x1="193.2" y1="66.1" x2="177.6" y2="56.7" stroke="#fafae4" stroke-opacity="0.32" stroke-width="1.0"/><line x1="191.7" y1="65.8" x2="177.4" y2="57.8" stroke="#fafae4" stroke-opacity="0.45" stroke-width="0.7"/><line x1="195.0" y1="87.7" x2="174.6" y2="103.1" stroke="#d7d68b" stroke-opacity="0.41" stroke-width="0.7"/><line x1="227.8" y1="64.8" x2="247.4" y2="49.5" stroke="#fafae4" stroke-opacity="0.37" stroke-width="0.7"/><line x1="231.0" y1="86.7" x2="250.8" y2="98.9" stroke="#fafae4" stroke-opacity="0.28" stroke-width="0.9"/><line x1="220.5" y1="59.2" x2="231.2" y2="36.4" stroke="#fafae4" stroke-opacity="0.48" stroke-width="1.1"/><line x1="211.8" y1="93.3" x2="211.9" y2="122.5" stroke="#d7d68b" stroke-opacity="0.25" stroke-width="0.8"/><line x1="204.8" y1="57.9" x2="197.7" y2="37.6" stroke="#fafae4" stroke-opacity="0.36" stroke-width="1.3"/><line x1="203.6" y1="61.0" x2="192.7" y2="38.7" stroke="#d7d68b" stroke-opacity="0.22" stroke-width="0.6"/><line x1="209.4" y1="53.2" x2="206.9" y2="27.4" stroke="#fafae4" stroke-opacity="0.37" stroke-width="1.1"/><line x1="222.2" y1="90.0" x2="236.4" y2="110.5" stroke="#fafae4" stroke-opacity="0.27" stroke-width="1.1"/><line x1="199.5" y1="94.4" x2="187.3" y2="114.6" stroke="#d7d68b" stroke-opacity="0.27" stroke-width="0.8"/><line x1="211.2" y1="92.5" x2="210.5" y2="117.6" stroke="#fafae4" stroke-opacity="0.37" stroke-width="0.8"/><line x1="233.8" y1="74.1" x2="251.1" y2="72.4" stroke="#fafae4" stroke-opacity="0.37" stroke-width="0.7"/><line x1="219.0" y1="96.0" x2="224.1" y2="112.6" stroke="#d7d68b" stroke-opacity="0.23" stroke-width="1.3"/><line x1="195.2" y1="88.1" x2="177.6" y2="102.0" stroke="#d7d68b" stroke-opacity="0.30" stroke-width="0.7"/><line x1="232.6" y1="82.6" x2="251.5" y2="89.2" stroke="#d7d68b" stroke-opacity="0.23" stroke-width="1.0"/><line x1="193.3" y1="71.3" x2="174.9" y2="66.0" stroke="#d7d68b" stroke-opacity="0.35" stroke-width="1.2"/><line x1="225.5" y1="84.3" x2="249.7" y2="99.7" stroke="#d7d68b" stroke-opacity="0.25" stroke-width="1.1"/><line x1="224.4" y1="62.4" x2="235.9" y2="48.5" stroke="#d7d68b" stroke-opacity="0.22" stroke-width="1.2"/><line x1="223.2" y1="90.1" x2="240.5" y2="113.0" stroke="#d7d68b" stroke-opacity="0.25" stroke-width="0.6"/><line x1="231.5" y1="78.9" x2="254.5" y2="82.3" stroke="#d7d68b" stroke-opacity="0.32" stroke-width="1.0"/><line x1="221.3" y1="57.1" x2="229.7" y2="38.0" stroke="#d7d68b" stroke-opacity="0.30" stroke-width="0.6"/><line x1="202.7" y1="58.0" x2="189.5" y2="29.3" stroke="#d7d68b" stroke-opacity="0.25" stroke-width="1.1"/><line x1="195.6" y1="71.4" x2="170.5" y2="63.2" stroke="#d7d68b" stroke-opacity="0.34" stroke-width="0.9"/><line x1="232.4" y1="77.5" x2="260.9" y2="79.6" stroke="#d7d68b" stroke-opacity="0.26" stroke-width="0.7"/><line x1="193.6" y1="79.4" x2="167.8" y2="84.4" stroke="#fafae4" stroke-opacity="0.44" stroke-width="1.2"/><line x1="197.0" y1="92.2" x2="180.5" y2="112.0" stroke="#fafae4" stroke-opacity="0.44" stroke-width="0.8"/><line x1="192.9" y1="69.4" x2="168.5" y2="59.8" stroke="#d7d68b" stroke-opacity="0.40" stroke-width="0.6"/><line x1="227.5" y1="79.5" x2="258.5" y2="86.6" stroke="#d7d68b" stroke-opacity="0.34" stroke-width="0.9"/><line x1="203.6" y1="95.0" x2="191.9" y2="124.2" stroke="#d7d68b" stroke-opacity="0.34" stroke-width="0.8"/><line x1="231.8" y1="69.6" x2="251.0" y2="62.6" stroke="#fafae4" stroke-opacity="0.49" stroke-width="0.7"/><line x1="227.9" y1="71.4" x2="256.2" y2="62.4" stroke="#fafae4" stroke-opacity="0.44" stroke-width="0.9"/><line x1="208.4" y1="97.5" x2="205.4" y2="118.0" stroke="#fafae4" stroke-opacity="0.41" stroke-width="1.1"/><line x1="218.0" y1="57.1" x2="226.4" y2="28.9" stroke="#d7d68b" stroke-opacity="0.22" stroke-width="0.7"/><line x1="221.5" y1="58.8" x2="235.7" y2="31.4" stroke="#fafae4" stroke-opacity="0.35" stroke-width="0.9"/><line x1="213.8" y1="58.9" x2="216.5" y2="33.2" stroke="#d7d68b" stroke-opacity="0.28" stroke-width="0.8"/><line x1="224.0" y1="95.2" x2="236.6" y2="117.1" stroke="#d7d68b" stroke-opacity="0.27" stroke-width="0.7"/><line x1="229.5" y1="61.6" x2="239.8" y2="51.8" stroke="#d7d68b" stroke-opacity="0.38" stroke-width="1.0"/><line x1="214.7" y1="57.1" x2="218.2" y2="32.2" stroke="#d7d68b" stroke-opacity="0.31" stroke-width="0.9"/><line x1="216.4" y1="55.7" x2="222.6" y2="25.9" stroke="#fafae4" stroke-opacity="0.26" stroke-width="0.9"/><line x1="205.5" y1="54.4" x2="199.5" y2="32.3" stroke="#fafae4" stroke-opacity="0.35" stroke-width="1.0"/><line x1="193.2" y1="72.2" x2="175.7" y2="68.0" stroke="#fafae4" stroke-opacity="0.38" stroke-width="0.8"/><line x1="220.6" y1="60.6" x2="232.3" y2="37.9" stroke="#fafae4" stroke-opacity="0.30" stroke-width="0.7"/><line x1="217.6" y1="59.5" x2="226.0" y2="33.6" stroke="#fafae4" stroke-opacity="0.44" stroke-width="1.2"/><line x1="211.9" y1="99.0" x2="211.9" y2="120.8" stroke="#d7d68b" stroke-opacity="0.29" stroke-width="0.9"/><line x1="227.4" y1="85.2" x2="242.0" y2="94.7" stroke="#fafae4" stroke-opacity="0.40" stroke-width="0.7"/><line x1="217.7" y1="97.7" x2="223.2" y2="120.1" stroke="#d7d68b" stroke-opacity="0.26" stroke-width="1.2"/><line x1="208.3" y1="92.5" x2="203.1" y2="119.4" stroke="#d7d68b" stroke-opacity="0.34" stroke-width="0.7"/><line x1="221.7" y1="61.1" x2="238.8" y2="33.1" stroke="#fafae4" stroke-opacity="0.26" stroke-width="0.6"/><ellipse cx="210.9" cy="76.5" rx="50.3" ry="52.3" fill="none" stroke="#cdca77" stroke-opacity="0.8" stroke-width="2.2"/><ellipse cx="211.4" cy="76.3" rx="16.8" ry="16.6" fill="none" stroke="#e0e096" stroke-opacity="0.6" stroke-width="1.5"/></g></g></g><text x="150.9" y="15.6" font-size="7.5" fill="#f2f2f2">DT: 1 hour</text><rect x="280.5" y="6" width="130.5" height="130.0" fill="url(#bg0)"/><rect x="280.5" y="6" width="130.5" height="130.0" filter="url(#noise)" opacity="0.2"/><g filter="url(#soft)"><g clip-path="url(#cp2)"><rect x="295.6" y="22.9" width="103.8" height="103.8" fill="url(#g2)"/><g filter="url(#wblur)"><polygon points="362.1,76.0 361.2,79.9 397.0,92.6 399.0,85.6 400.0,78.4" fill="#ebebb9" fill-opacity="0.30"/><polygon points="361.2,79.9 360.2,82.1 393.4,100.5 395.4,96.6 397.0,92.6" fill="#f8f8e0" fill-opacity="0.47"/><polygon points="360.2,82.1 359.0,83.9 389.2,107.0 391.4,103.8 393.4,100.5" fill="#f8f8e0" fill-opacity="0.44"/><polygon points="359.0,83.9 355.9,86.8 378.1,117.7 384.0,112.8 389.2,107.0" fill="#ded991" fill-opacity="0.32"/><polygon points="355.9,86.8 353.1,88.4 368.3,123.3 373.4,120.8 378.1,117.7" fill="#ebebb9" fill-opacity="0.30"/><polygon points="353.1,88.4 351.1,89.0 361.0,125.8 364.7,124.7 368.3,123.3" fill="#ded991" fill-opacity="0.31"/><polygon points="351.1,89.0 348.1,89.5 350.3,127.5 355.7,127.0 361.0,125.8" fill="#ded991" fill-opacity="0.40"/><polygon points="348.1,89.5 344.9,89.3 339.1,126.9 344.7,127.5 350.3,127.5" fill="#ded991" fill-opacity="0.30"/><polygon points="344.9,89.3 341.1,88.2 325.6,122.8 332.2,125.3 339.1,126.9" fill="#ded991" fill-opacity="0.31"/><polygon points="341.1,88.2 339.1,87.1 318.5,118.8 321.9,121.0 325.6,122.8" fill="#ded991" fill-opacity="0.28"/><polygon points="339.1,87.1 337.1,85.5 311.2,113.0 314.7,116.1 318.5,118.8" fill="#f8f8e0" fill-opacity="0.39"/><polygon points="337.1,85.5 334.3,82.0 301.4,100.1 305.8,107.0 311.2,113.0" fill="#f8f8e0" fill-opacity="0.33"/><polygon points="334.3,82.0 332.9,78.3 296.3,86.9 298.4,93.7 301.4,100.1" fill="#ded991" fill-opacity="0.39"/><polygon points="332.9,78.3 332.5,76.0 295.0,78.4 295.5,82.7 296.3,86.9" fill="#ded991" fill-opacity="0.31"/><polygon points="332.5,76.0 332.6,73.1 295.3,68.0 294.9,73.2 295.0,78.4" fill="#f8f8e0" fill-opacity="0.33"/><polygon points="332.6,73.1 333.3,70.3 297.7,57.8 296.3,62.8 295.3,68.0" fill="#f8f8e0" fill-opacity="0.39"/><polygon points="333.3,70.3 335.0,67.0 303.7,45.6 300.3,51.5 297.7,57.8" fill="#ded991" fill-opacity="0.24"/><polygon points="335.0,67.0 337.4,64.2 312.1,35.7 307.6,40.4 303.7,45.6" fill="#ebebb9" fill-opacity="0.30"/><polygon points="337.4,64.2 340.9,61.9 324.7,27.2 318.1,31.0 312.1,35.7" fill="#f8f8e0" fill-opacity="0.46"/><polygon points="340.9,61.9 344.9,60.7 338.9,22.7 331.6,24.5 324.7,27.2" fill="#ebebb9" fill-opacity="0.30"/><polygon points="344.9,60.7 348.3,60.5 350.9,22.1 344.9,22.1 338.9,22.7" fill="#ebebb9" fill-opacity="0.30"/><polygon points="348.3,60.5 352.1,61.3 364.7,24.9 357.9,23.0 350.9,22.1" fill="#f8f8e0" fill-opacity="0.36"/><polygon points="352.1,61.3 355.7,63.0 377.4,31.3 371.3,27.7 364.7,24.9" fill="#ebebb9" fill-opacity="0.30"/><polygon points="355.7,63.0 358.7,65.7 387.9,41.0 383.0,35.8 377.4,31.3" fill="#f8f8e0" fill-opacity="0.26"/><polygon points="358.7,65.7 360.5,68.4 394.3,50.8 391.4,45.7 387.9,41.0" fill="#ded991" fill-opacity="0.32"/><polygon points="360.5,68.4 361.8,72.2 399.1,64.6 397.2,57.5 394.3,50.8" fill="#ebebb9" fill-opacity="0.30"/><polygon points="361.8,72.2 362.1,76.0 400.0,78.4 400.0,71.5 399.1,64.6" fill="#ded991" fill-opacity="0.33"/></g><g filter="url(#sblur)"><line x1="368.8" y1="82.6" x2="389.7" y2="90.0" stroke="#c8c274" stroke-opacity="0.42" stroke-width="0.8"/><line x1="367.9" y1="86.3" x2="383.1" y2="94.7" stroke="#c8c274" stroke-opacity="0.42" stroke-width="1.1"/><line x1="358.0" y1="89.7" x2="371.4" y2="108.3" stroke="#c8c274" stroke-opacity="0.42" stroke-width="0.8"/><line x1="338.1" y1="94.7" x2="329.1" y2="115.1" stroke="#c8c274" stroke-opacity="0.42" stroke-width="1.1"/><line x1="334.6" y1="93.8" x2="321.8" y2="113.7" stroke="#c8c274" stroke-opacity="0.42" stroke-width="0.7"/><line x1="328.2" y1="94.6" x2="315.4" y2="108.7" stroke="#c8c274" stroke-opacity="0.42" stroke-width="0.9"/><line x1="323.8" y1="87.6" x2="308.1" y2="96.4" stroke="#c8c274" stroke-opacity="0.42" stroke-width="1.0"/><line x1="328.4" y1="72.6" x2="307.8" y2="69.6" stroke="#c8c274" stroke-opacity="0.42" stroke-width="0.9"/><line x1="329.0" y1="68.9" x2="310.8" y2="62.3" stroke="#c8c274" stroke-opacity="0.42" stroke-width="0.9"/><line x1="328.6" y1="54.8" x2="317.7" y2="41.9" stroke="#c8c274" stroke-opacity="0.42" stroke-width="0.6"/><line x1="336.2" y1="52.3" x2="330.0" y2="38.4" stroke="#c8c274" stroke-opacity="0.42" stroke-width="0.9"/><line x1="343.9" y1="55.0" x2="339.8" y2="28.5" stroke="#c8c274" stroke-opacity="0.42" stroke-width="0.9"/><line x1="354.7" y1="54.0" x2="361.7" y2="33.8" stroke="#c8c274" stroke-opacity="0.42" stroke-width="0.7"/><line x1="368.7" y1="57.5" x2="381.0" y2="46.9" stroke="#c8c274" stroke-opacity="0.42" stroke-width="0.8"/><line x1="364.3" y1="66.5" x2="388.3" y2="53.9" stroke="#c8c274" stroke-opacity="0.42" stroke-width="0.7"/><line x1="366.1" y1="71.3" x2="389.6" y2="66.5" stroke="#c8c274" stroke-opacity="0.42" stroke-width="1.0"/><line x1="330.0" y1="60.4" x2="321.0" y2="51.9" stroke="#fafae4" stroke-opacity="0.44" stroke-width="0.8"/><line x1="343.1" y1="56.5" x2="339.6" y2="38.9" stroke="#fafae4" stroke-opacity="0.27" stroke-width="1.2"/><line x1="330.6" y1="65.6" x2="312.1" y2="54.6" stroke="#fafae4" stroke-opacity="0.26" stroke-width="1.2"/><line x1="326.4" y1="63.3" x2="312.3" y2="54.6" stroke="#d7d386" stroke-opacity="0.28" stroke-width="0.6"/><line x1="368.4" y1="65.4" x2="382.6" y2="58.4" stroke="#d7d386" stroke-opacity="0.40" stroke-width="0.8"/><line x1="328.1" y1="60.8" x2="314.5" y2="49.9" stroke="#d7d386" stroke-opacity="0.28" stroke-width="0.9"/><line x1="343.7" y1="57.4" x2="339.9" y2="36.8" stroke="#d7d386" stroke-opacity="0.33" stroke-width="1.2"/><line x1="348.0" y1="92.6" x2="349.1" y2="114.3" stroke="#fafae4" stroke-opacity="0.49" stroke-width="0.8"/><line x1="331.2" y1="68.5" x2="308.7" y2="58.9" stroke="#fafae4" stroke-opacity="0.35" stroke-width="0.6"/><line x1="363.7" y1="90.8" x2="375.5" y2="102.3" stroke="#fafae4" stroke-opacity="0.30" stroke-width="0.8"/><line x1="348.7" y1="91.5" x2="351.0" y2="118.6" stroke="#fafae4" stroke-opacity="0.29" stroke-width="1.1"/><line x1="362.9" y1="85.1" x2="386.2" y2="100.4" stroke="#fafae4" stroke-opacity="0.36" stroke-width="1.2"/><line x1="353.3" y1="58.6" x2="360.8" y2="37.7" stroke="#d7d386" stroke-opacity="0.31" stroke-width="1.3"/><line x1="353.5" y1="97.7" x2="358.3" y2="115.0" stroke="#fafae4" stroke-opacity="0.36" stroke-width="0.7"/><line x1="342.3" y1="57.4" x2="334.7" y2="29.1" stroke="#d7d386" stroke-opacity="0.31" stroke-width="0.8"/><line x1="333.2" y1="63.8" x2="311.1" y2="45.2" stroke="#fafae4" stroke-opacity="0.38" stroke-width="1.0"/><line x1="344.4" y1="97.0" x2="342.4" y2="114.3" stroke="#d7d386" stroke-opacity="0.35" stroke-width="0.8"/><line x1="334.0" y1="85.8" x2="319.2" y2="98.3" stroke="#d7d386" stroke-opacity="0.30" stroke-width="1.1"/><line x1="363.5" y1="88.0" x2="378.0" y2="99.8" stroke="#d7d386" stroke-opacity="0.29" stroke-width="0.6"/><line x1="340.4" y1="91.7" x2="334.0" y2="108.2" stroke="#d7d386" stroke-opacity="0.29" stroke-width="0.9"/><line x1="366.3" y1="63.0" x2="387.0" y2="49.3" stroke="#d7d386" stroke-opacity="0.26" stroke-width="0.8"/><line x1="368.8" y1="79.0" x2="390.5" y2="82.9" stroke="#fafae4" stroke-opacity="0.35" stroke-width="1.1"/><line x1="341.5" y1="57.8" x2="332.9" y2="30.5" stroke="#fafae4" stroke-opacity="0.41" stroke-width="0.7"/><line x1="365.0" y1="90.4" x2="381.1" y2="104.6" stroke="#d7d386" stroke-opacity="0.24" stroke-width="0.6"/><line x1="356.8" y1="90.1" x2="367.7" y2="107.7" stroke="#fafae4" stroke-opacity="0.26" stroke-width="0.8"/><line x1="335.7" y1="61.5" x2="317.6" y2="39.3" stroke="#d7d386" stroke-opacity="0.38" stroke-width="0.8"/><line x1="327.2" y1="83.6" x2="311.5" y2="90.4" stroke="#fafae4" stroke-opacity="0.46" stroke-width="1.1"/><line x1="343.5" y1="91.1" x2="337.0" y2="120.3" stroke="#d7d386" stroke-opacity="0.24" stroke-width="0.8"/><line x1="364.7" y1="89.4" x2="376.0" y2="98.8" stroke="#d7d386" stroke-opacity="0.38" stroke-width="0.7"/><line x1="340.6" y1="56.9" x2="332.2" y2="32.3" stroke="#d7d386" stroke-opacity="0.29" stroke-width="0.7"/><line x1="366.0" y1="68.5" x2="392.5" y2="59.0" stroke="#d7d386" stroke-opacity="0.38" stroke-width="1.2"/><line x1="333.4" y1="60.8" x2="323.3" y2="49.6" stroke="#d7d386" stroke-opacity="0.32" stroke-width="1.0"/><line x1="363.1" y1="67.5" x2="388.2" y2="55.0" stroke="#fafae4" stroke-opacity="0.43" stroke-width="1.2"/><line x1="345.8" y1="95.4" x2="344.1" y2="123.1" stroke="#d7d386" stroke-opacity="0.34" stroke-width="0.8"/><line x1="365.3" y1="81.9" x2="384.8" y2="89.5" stroke="#fafae4" stroke-opacity="0.33" stroke-width="0.7"/><line x1="341.5" y1="54.4" x2="337.5" y2="38.5" stroke="#fafae4" stroke-opacity="0.38" stroke-width="0.9"/><line x1="365.0" y1="67.6" x2="382.9" y2="59.6" stroke="#d7d386" stroke-opacity="0.26" stroke-width="1.0"/><line x1="335.8" y1="94.5" x2="326.4" y2="111.4" stroke="#d7d386" stroke-opacity="0.27" stroke-width="1.1"/><line x1="330.9" y1="63.5" x2="310.6" y2="48.4" stroke="#d7d386" stroke-opacity="0.26" stroke-width="0.8"/><line x1="335.7" y1="88.7" x2="325.1" y2="101.8" stroke="#fafae4" stroke-opacity="0.30" stroke-width="1.1"/><line x1="330.8" y1="80.5" x2="310.7" y2="87.3" stroke="#fafae4" stroke-opacity="0.34" stroke-width="0.7"/><line x1="362.3" y1="82.1" x2="391.2" y2="96.1" stroke="#d7d386" stroke-opacity="0.25" stroke-width="1.1"/><line x1="368.1" y1="72.4" x2="382.9" y2="70.4" stroke="#fafae4" stroke-opacity="0.36" stroke-width="0.7"/><line x1="331.3" y1="70.6" x2="301.7" y2="62.0" stroke="#d7d386" stroke-opacity="0.36" stroke-width="1.3"/><line x1="336.7" y1="60.1" x2="325.9" y2="43.8" stroke="#fafae4" stroke-opacity="0.26" stroke-width="1.1"/><line x1="357.4" y1="59.3" x2="367.1" y2="43.5" stroke="#d7d386" stroke-opacity="0.40" stroke-width="1.2"/><line x1="358.4" y1="94.4" x2="370.2" y2="115.3" stroke="#d7d386" stroke-opacity="0.30" stroke-width="0.7"/><line x1="356.0" y1="58.3" x2="365.5" y2="39.5" stroke="#d7d386" stroke-opacity="0.31" stroke-width="1.2"/><line x1="348.4" y1="91.5" x2="350.3" y2="117.3" stroke="#d7d386" stroke-opacity="0.40" stroke-width="1.1"/><line x1="367.1" y1="61.8" x2="381.7" y2="51.5" stroke="#fafae4" stroke-opacity="0.29" stroke-width="0.8"/><line x1="332.3" y1="66.8" x2="309.0" y2="53.2" stroke="#fafae4" stroke-opacity="0.36" stroke-width="1.3"/><line x1="361.5" y1="83.8" x2="381.8" y2="96.5" stroke="#fafae4" stroke-opacity="0.43" stroke-width="0.6"/><line x1="359.8" y1="55.8" x2="372.1" y2="36.3" stroke="#fafae4" stroke-opacity="0.32" stroke-width="1.1"/><line x1="327.6" y1="73.2" x2="308.6" y2="71.2" stroke="#fafae4" stroke-opacity="0.42" stroke-width="1.2"/><line x1="362.0" y1="65.1" x2="379.1" y2="52.9" stroke="#fafae4" stroke-opacity="0.39" stroke-width="0.8"/><line x1="353.1" y1="90.9" x2="360.6" y2="111.5" stroke="#fafae4" stroke-opacity="0.49" stroke-width="1.2"/><line x1="363.3" y1="57.2" x2="379.4" y2="38.6" stroke="#d7d386" stroke-opacity="0.40" stroke-width="0.6"/><line x1="337.8" y1="56.3" x2="330.4" y2="40.3" stroke="#d7d386" stroke-opacity="0.42" stroke-width="0.9"/><line x1="336.0" y1="60.2" x2="324.0" y2="43.4" stroke="#d7d386" stroke-opacity="0.24" stroke-width="0.7"/><line x1="338.6" y1="57.3" x2="332.2" y2="42.8" stroke="#d7d386" stroke-opacity="0.31" stroke-width="1.0"/><line x1="329.4" y1="85.2" x2="310.9" y2="96.1" stroke="#fafae4" stroke-opacity="0.28" stroke-width="0.7"/><line x1="363.3" y1="62.0" x2="375.0" y2="51.9" stroke="#d7d386" stroke-opacity="0.28" stroke-width="0.7"/><line x1="329.1" y1="71.5" x2="307.0" y2="66.8" stroke="#d7d386" stroke-opacity="0.28" stroke-width="1.0"/><line x1="362.9" y1="88.2" x2="379.9" y2="102.7" stroke="#fafae4" stroke-opacity="0.35" stroke-width="0.7"/><line x1="325.7" y1="83.5" x2="308.4" y2="90.5" stroke="#d7d386" stroke-opacity="0.38" stroke-width="0.7"/><line x1="369.4" y1="73.7" x2="383.0" y2="72.7" stroke="#d7d386" stroke-opacity="0.31" stroke-width="0.7"/><line x1="367.6" y1="69.9" x2="391.5" y2="63.5" stroke="#fafae4" stroke-opacity="0.44" stroke-width="0.6"/><line x1="348.9" y1="94.0" x2="350.3" y2="109.1" stroke="#d7d386" stroke-opacity="0.28" stroke-width="0.8"/><line x1="342.0" y1="56.2" x2="335.1" y2="29.2" stroke="#d7d386" stroke-opacity="0.41" stroke-width="1.0"/><line x1="367.6" y1="63.6" x2="379.2" y2="56.6" stroke="#d7d386" stroke-opacity="0.30" stroke-width="1.1"/><ellipse cx="347.5" cy="74.8" rx="48.7" ry="48.9" fill="none" stroke="#cac571" stroke-opacity="0.8" stroke-width="2.2"/><ellipse cx="347.3" cy="75.0" rx="17.4" ry="17.1" fill="none" stroke="#dfde94" stroke-opacity="0.6" stroke-width="1.5"/></g></g></g><text x="284.8" y="14.7" font-size="7.5" fill="#f2f2f2">DT: 2 hours</text><rect x="414" y="6" width="130.0" height="130.0" fill="url(#bg0)"/><rect x="414" y="6" width="130.0" height="130.0" filter="url(#noise)" opacity="0.2"/><g filter="url(#soft)"><g clip-path="url(#cp3)"><rect x="423.9" y="19.3" width="110.2" height="110.2" fill="url(#g3)"/><g filter="url(#wblur)"><polygon points="495.0,73.8 494.6,76.9 533.6,87.8 534.6,82.0 535.1,76.2" fill="#ebe9b7" fill-opacity="0.30"/><polygon points="494.6,76.9 493.1,80.4 528.6,100.7 531.5,94.4 533.6,87.8" fill="#ddd88d" fill-opacity="0.23"/><polygon points="493.1,80.4 491.1,83.1 521.8,110.8 525.5,106.0 528.6,100.7" fill="#f8f8e0" fill-opacity="0.39"/><polygon points="491.1,83.1 487.5,86.0 509.3,121.8 516.0,116.8 521.8,110.8" fill="#ddd88d" fill-opacity="0.34"/><polygon points="487.5,86.0 484.0,87.6 497.2,127.6 503.5,125.1 509.3,121.8" fill="#ebe9b7" fill-opacity="0.30"/><polygon points="484.0,87.6 480.4,88.3 484.9,130.4 491.1,129.3 497.2,127.6" fill="#ddd88d" fill-opacity="0.40"/><polygon points="480.4,88.3 476.7,88.3 472.0,130.2 478.4,130.7 484.9,130.4" fill="#ebe9b7" fill-opacity="0.30"/><polygon points="476.7,88.3 472.4,87.2 457.1,126.2 464.4,128.7 472.0,130.2" fill="#f8f8e0" fill-opacity="0.49"/><polygon points="472.4,87.2 468.5,85.1 443.7,118.2 450.2,122.7 457.1,126.2" fill="#ebe9b7" fill-opacity="0.30"/><polygon points="468.5,85.1 465.9,82.6 434.8,109.2 439.0,113.9 443.7,118.2" fill="#ebe9b7" fill-opacity="0.30"/><polygon points="465.9,82.6 464.0,79.9 428.5,99.0 431.4,104.2 434.8,109.2" fill="#f8f8e0" fill-opacity="0.27"/><polygon points="464.0,79.9 462.5,75.2 423.3,81.5 425.2,90.5 428.5,99.0" fill="#ddd88d" fill-opacity="0.24"/><polygon points="462.5,75.2 462.5,71.2 423.4,66.8 422.8,74.1 423.3,81.5" fill="#f8f8e0" fill-opacity="0.49"/><polygon points="462.5,71.2 463.2,68.5 425.8,56.5 424.3,61.6 423.4,66.8" fill="#f8f8e0" fill-opacity="0.26"/><polygon points="463.2,68.5 465.2,64.8 432.5,42.8 428.7,49.4 425.8,56.5" fill="#ddd88d" fill-opacity="0.42"/><polygon points="465.2,64.8 466.7,63.0 437.8,36.2 435.0,39.4 432.5,42.8" fill="#f8f8e0" fill-opacity="0.33"/><polygon points="466.7,63.0 468.8,61.3 445.0,29.6 441.3,32.7 437.8,36.2" fill="#f8f8e0" fill-opacity="0.36"/><polygon points="468.8,61.3 472.6,59.3 457.9,22.2 451.2,25.5 445.0,29.6" fill="#f8f8e0" fill-opacity="0.33"/><polygon points="472.6,59.3 476.7,58.3 472.1,18.6 464.9,19.9 457.9,22.2" fill="#ddd88d" fill-opacity="0.43"/><polygon points="476.7,58.3 481.3,58.4 488.1,18.9 480.1,18.1 472.1,18.6" fill="#ddd88d" fill-opacity="0.29"/><polygon points="481.3,58.4 485.9,59.7 503.6,23.8 496.0,20.8 488.1,18.9" fill="#ddd88d" fill-opacity="0.34"/><polygon points="485.9,59.7 488.1,60.9 511.2,28.3 507.5,25.9 503.6,23.8" fill="#f8f8e0" fill-opacity="0.29"/><polygon points="488.1,60.9 491.8,64.3 524.2,41.0 518.2,34.2 511.2,28.3" fill="#ddd88d" fill-opacity="0.41"/><polygon points="491.8,64.3 493.2,66.4 529.0,48.7 526.7,44.8 524.2,41.0" fill="#ebe9b7" fill-opacity="0.30"/><polygon points="493.2,66.4 494.3,68.8 532.6,57.5 531.0,53.0 529.0,48.7" fill="#ebe9b7" fill-opacity="0.30"/><polygon points="494.3,68.8 495.0,73.8 535.1,76.2 534.6,66.8 532.6,57.5" fill="#ddd88d" fill-opacity="0.28"/></g><g filter="url(#sblur)"><line x1="509.3" y1="74.2" x2="527.0" y2="76.0" stroke="#c5bd6d" stroke-opacity="0.45" stroke-width="1.0"/><line x1="492.9" y1="93.9" x2="500.3" y2="107.7" stroke="#c5bd6d" stroke-opacity="0.45" stroke-width="1.0"/><line x1="487.0" y1="95.8" x2="494.6" y2="119.8" stroke="#c5bd6d" stroke-opacity="0.45" stroke-width="0.8"/><line x1="475.5" y1="97.1" x2="473.4" y2="119.3" stroke="#c5bd6d" stroke-opacity="0.45" stroke-width="0.9"/><line x1="469.7" y1="93.1" x2="461.1" y2="116.9" stroke="#c5bd6d" stroke-opacity="0.45" stroke-width="0.8"/><line x1="458.9" y1="75.6" x2="427.7" y2="81.0" stroke="#c5bd6d" stroke-opacity="0.45" stroke-width="0.7"/><line x1="455.2" y1="58.5" x2="439.6" y2="47.6" stroke="#c5bd6d" stroke-opacity="0.45" stroke-width="1.1"/><line x1="461.2" y1="52.0" x2="448.7" y2="34.4" stroke="#c5bd6d" stroke-opacity="0.45" stroke-width="0.8"/><line x1="491.0" y1="50.0" x2="498.2" y2="35.0" stroke="#c5bd6d" stroke-opacity="0.45" stroke-width="0.7"/><line x1="492.1" y1="55.5" x2="506.4" y2="35.2" stroke="#c5bd6d" stroke-opacity="0.45" stroke-width="0.7"/><line x1="505.5" y1="60.6" x2="523.6" y2="51.5" stroke="#c5bd6d" stroke-opacity="0.45" stroke-width="0.9"/><line x1="469.4" y1="91.1" x2="457.2" y2="119.3" stroke="#fafae4" stroke-opacity="0.35" stroke-width="1.1"/><line x1="463.6" y1="87.3" x2="445.9" y2="107.5" stroke="#d6d181" stroke-opacity="0.31" stroke-width="1.1"/><line x1="475.5" y1="92.3" x2="472.2" y2="117.3" stroke="#fafae4" stroke-opacity="0.41" stroke-width="1.1"/><line x1="489.1" y1="92.0" x2="495.7" y2="106.9" stroke="#fafae4" stroke-opacity="0.37" stroke-width="1.1"/><line x1="462.4" y1="58.6" x2="443.9" y2="40.2" stroke="#fafae4" stroke-opacity="0.39" stroke-width="0.6"/><line x1="477.3" y1="94.9" x2="476.5" y2="115.6" stroke="#d6d181" stroke-opacity="0.43" stroke-width="0.8"/><line x1="476.6" y1="93.6" x2="474.7" y2="118.9" stroke="#fafae4" stroke-opacity="0.27" stroke-width="0.7"/><line x1="498.7" y1="68.3" x2="525.9" y2="61.8" stroke="#d6d181" stroke-opacity="0.39" stroke-width="0.9"/><line x1="502.6" y1="79.2" x2="528.8" y2="87.8" stroke="#fafae4" stroke-opacity="0.40" stroke-width="0.8"/><line x1="480.5" y1="97.0" x2="481.7" y2="112.8" stroke="#d6d181" stroke-opacity="0.45" stroke-width="1.2"/><line x1="462.2" y1="64.9" x2="444.4" y2="55.3" stroke="#d6d181" stroke-opacity="0.27" stroke-width="0.9"/><line x1="461.6" y1="85.9" x2="439.0" y2="106.2" stroke="#d6d181" stroke-opacity="0.41" stroke-width="0.7"/><line x1="454.4" y1="63.8" x2="435.4" y2="56.0" stroke="#fafae4" stroke-opacity="0.50" stroke-width="0.7"/><line x1="498.6" y1="81.3" x2="514.3" y2="89.7" stroke="#d6d181" stroke-opacity="0.25" stroke-width="0.8"/><line x1="485.7" y1="93.5" x2="494.6" y2="122.9" stroke="#fafae4" stroke-opacity="0.33" stroke-width="0.9"/><line x1="460.3" y1="77.7" x2="430.9" y2="86.8" stroke="#d6d181" stroke-opacity="0.25" stroke-width="0.9"/><line x1="490.3" y1="58.1" x2="504.2" y2="38.9" stroke="#d6d181" stroke-opacity="0.29" stroke-width="0.8"/><line x1="493.7" y1="57.1" x2="510.3" y2="37.9" stroke="#d6d181" stroke-opacity="0.28" stroke-width="0.9"/><line x1="501.2" y1="80.1" x2="518.4" y2="87.2" stroke="#fafae4" stroke-opacity="0.50" stroke-width="0.7"/><line x1="456.6" y1="68.2" x2="442.4" y2="65.3" stroke="#fafae4" stroke-opacity="0.42" stroke-width="0.8"/><line x1="458.3" y1="88.0" x2="441.9" y2="103.3" stroke="#fafae4" stroke-opacity="0.31" stroke-width="0.9"/><line x1="457.6" y1="81.6" x2="441.1" y2="90.5" stroke="#fafae4" stroke-opacity="0.30" stroke-width="1.1"/><line x1="500.5" y1="64.2" x2="522.3" y2="54.8" stroke="#fafae4" stroke-opacity="0.48" stroke-width="0.8"/><line x1="455.3" y1="79.4" x2="434.0" y2="87.1" stroke="#d6d181" stroke-opacity="0.25" stroke-width="0.6"/><line x1="502.9" y1="66.2" x2="514.2" y2="63.3" stroke="#fafae4" stroke-opacity="0.36" stroke-width="0.7"/><line x1="485.4" y1="97.2" x2="490.6" y2="118.9" stroke="#fafae4" stroke-opacity="0.43" stroke-width="0.7"/><line x1="484.4" y1="90.9" x2="493.4" y2="122.1" stroke="#fafae4" stroke-opacity="0.28" stroke-width="1.2"/><line x1="487.6" y1="54.1" x2="493.4" y2="40.7" stroke="#d6d181" stroke-opacity="0.40" stroke-width="0.7"/><line x1="483.2" y1="95.6" x2="487.8" y2="121.8" stroke="#d6d181" stroke-opacity="0.36" stroke-width="0.7"/><line x1="482.9" y1="51.0" x2="486.7" y2="30.5" stroke="#fafae4" stroke-opacity="0.30" stroke-width="0.7"/><line x1="497.9" y1="79.1" x2="526.0" y2="89.8" stroke="#d6d181" stroke-opacity="0.34" stroke-width="0.9"/><line x1="496.4" y1="55.4" x2="505.0" y2="46.0" stroke="#fafae4" stroke-opacity="0.36" stroke-width="1.1"/><line x1="496.4" y1="56.8" x2="512.5" y2="40.7" stroke="#d6d181" stroke-opacity="0.31" stroke-width="0.8"/><line x1="459.5" y1="67.7" x2="430.2" y2="59.0" stroke="#d6d181" stroke-opacity="0.30" stroke-width="1.3"/><line x1="469.5" y1="89.3" x2="459.8" y2="110.6" stroke="#d6d181" stroke-opacity="0.39" stroke-width="0.7"/><line x1="490.5" y1="88.1" x2="503.7" y2="108.0" stroke="#fafae4" stroke-opacity="0.26" stroke-width="0.8"/><line x1="467.7" y1="57.8" x2="453.4" y2="35.3" stroke="#d6d181" stroke-opacity="0.26" stroke-width="0.9"/><line x1="503.5" y1="75.9" x2="529.0" y2="80.0" stroke="#d6d181" stroke-opacity="0.29" stroke-width="0.8"/><line x1="471.1" y1="93.7" x2="463.3" y2="120.0" stroke="#fafae4" stroke-opacity="0.37" stroke-width="1.1"/><line x1="481.2" y1="49.3" x2="483.3" y2="29.1" stroke="#fafae4" stroke-opacity="0.40" stroke-width="0.7"/><line x1="498.6" y1="73.5" x2="517.8" y2="74.7" stroke="#fafae4" stroke-opacity="0.29" stroke-width="0.8"/><line x1="457.8" y1="75.6" x2="437.2" y2="79.4" stroke="#fafae4" stroke-opacity="0.46" stroke-width="1.2"/><line x1="475.1" y1="53.0" x2="471.1" y2="26.9" stroke="#fafae4" stroke-opacity="0.29" stroke-width="0.9"/><line x1="496.8" y1="77.2" x2="523.3" y2="84.6" stroke="#fafae4" stroke-opacity="0.42" stroke-width="0.9"/><line x1="488.5" y1="58.3" x2="503.9" y2="33.6" stroke="#d6d181" stroke-opacity="0.32" stroke-width="1.1"/><line x1="494.1" y1="82.4" x2="518.2" y2="99.4" stroke="#d6d181" stroke-opacity="0.31" stroke-width="0.8"/><line x1="494.6" y1="85.0" x2="509.4" y2="98.5" stroke="#fafae4" stroke-opacity="0.39" stroke-width="0.8"/><line x1="479.3" y1="94.8" x2="479.9" y2="111.5" stroke="#fafae4" stroke-opacity="0.49" stroke-width="0.8"/><line x1="453.5" y1="64.8" x2="431.5" y2="57.1" stroke="#d6d181" stroke-opacity="0.36" stroke-width="0.8"/><line x1="494.5" y1="83.3" x2="509.8" y2="95.4" stroke="#d6d181" stroke-opacity="0.39" stroke-width="0.7"/><line x1="477.9" y1="55.7" x2="477.5" y2="35.3" stroke="#d6d181" stroke-opacity="0.45" stroke-width="0.9"/><line x1="465.1" y1="60.8" x2="446.8" y2="42.5" stroke="#fafae4" stroke-opacity="0.42" stroke-width="0.8"/><line x1="479.7" y1="96.4" x2="480.8" y2="118.9" stroke="#d6d181" stroke-opacity="0.41" stroke-width="0.7"/><line x1="468.7" y1="88.4" x2="458.3" y2="108.4" stroke="#d6d181" stroke-opacity="0.28" stroke-width="0.8"/><line x1="500.1" y1="84.9" x2="518.4" y2="97.4" stroke="#fafae4" stroke-opacity="0.33" stroke-width="1.3"/><line x1="482.9" y1="56.6" x2="490.1" y2="26.9" stroke="#fafae4" stroke-opacity="0.38" stroke-width="0.7"/><line x1="486.0" y1="51.2" x2="490.7" y2="36.5" stroke="#d6d181" stroke-opacity="0.39" stroke-width="1.1"/><line x1="495.4" y1="80.2" x2="524.8" y2="94.9" stroke="#fafae4" stroke-opacity="0.38" stroke-width="0.8"/><line x1="500.0" y1="82.4" x2="512.9" y2="90.1" stroke="#d6d181" stroke-opacity="0.26" stroke-width="0.9"/><line x1="458.4" y1="85.0" x2="435.2" y2="101.7" stroke="#d6d181" stroke-opacity="0.41" stroke-width="0.9"/><line x1="481.8" y1="52.6" x2="484.6" y2="34.3" stroke="#d6d181" stroke-opacity="0.31" stroke-width="0.6"/><line x1="454.2" y1="78.2" x2="433.0" y2="84.3" stroke="#fafae4" stroke-opacity="0.35" stroke-width="1.0"/><line x1="499.7" y1="65.3" x2="523.4" y2="56.0" stroke="#d6d181" stroke-opacity="0.38" stroke-width="1.0"/><line x1="501.5" y1="82.9" x2="523.5" y2="94.7" stroke="#d6d181" stroke-opacity="0.42" stroke-width="0.8"/><line x1="459.0" y1="62.1" x2="436.3" y2="48.1" stroke="#d6d181" stroke-opacity="0.44" stroke-width="1.2"/><line x1="501.5" y1="80.2" x2="519.5" y2="87.6" stroke="#d6d181" stroke-opacity="0.40" stroke-width="0.8"/><line x1="459.5" y1="90.2" x2="450.0" y2="102.0" stroke="#d6d181" stroke-opacity="0.41" stroke-width="1.1"/><line x1="496.8" y1="61.8" x2="512.9" y2="51.0" stroke="#fafae4" stroke-opacity="0.40" stroke-width="1.3"/><line x1="494.8" y1="58.9" x2="509.9" y2="44.7" stroke="#fafae4" stroke-opacity="0.29" stroke-width="1.0"/><line x1="497.5" y1="83.3" x2="516.9" y2="96.2" stroke="#fafae4" stroke-opacity="0.33" stroke-width="1.3"/><ellipse cx="479.0" cy="74.4" rx="52.0" ry="52.1" fill="none" stroke="#c8c06c" stroke-opacity="0.8" stroke-width="2.2"/><ellipse cx="478.7" cy="73.3" rx="19.2" ry="17.8" fill="none" stroke="#dfdc93" stroke-opacity="0.6" stroke-width="1.5"/></g></g></g><text x="416.9" y="16" font-size="7.5" fill="#f2f2f2">DT: 3 hours</text><rect x="547" y="6" width="130.0" height="130.0" fill="url(#bg0)"/><rect x="547" y="6" width="130.0" height="130.0" filter="url(#noise)" opacity="0.2"/><g filter="url(#soft)"><g clip-path="url(#cp4)"><rect x="561.3" y="22.0" width="106.2" height="106.2" fill="url(#g4)"/><g filter="url(#wblur)"><polygon points="629.7,78.5 628.7,81.8 663.8,97.2 666.0,91.4 667.5,85.5" fill="#eae8b4" fill-opacity="0.30"/><polygon points="628.7,81.8 627.5,83.9 659.6,104.8 661.8,101.1 663.8,97.2" fill="#f8f8e0" fill-opacity="0.25"/><polygon points="627.5,83.9 625.9,85.9 654.2,111.6 657.0,108.3 659.6,104.8" fill="#f8f8e0" fill-opacity="0.40"/><polygon points="625.9,85.9 623.9,87.6 647.4,117.8 650.9,114.9 654.2,111.6" fill="#f8f8e0" fill-opacity="0.25"/><polygon points="623.9,87.6 620.0,89.7 633.8,125.4 640.9,122.1 647.4,117.8" fill="#eae8b4" fill-opacity="0.30"/><polygon points="620.0,89.7 616.5,90.6 621.7,128.5 627.9,127.3 633.8,125.4" fill="#ddd68a" fill-opacity="0.34"/><polygon points="616.5,90.6 611.4,90.4 604.0,128.0 612.9,129.0 621.7,128.5" fill="#f8f8e0" fill-opacity="0.47"/><polygon points="611.4,90.4 606.8,88.8 588.1,122.2 595.9,125.7 604.0,128.0" fill="#ddd68a" fill-opacity="0.26"/><polygon points="606.8,88.8 603.2,86.2 575.6,112.7 581.5,117.9 588.1,122.2" fill="#f8f8e0" fill-opacity="0.41"/><polygon points="603.2,86.2 601.0,83.4 568.0,102.8 571.5,108.0 575.6,112.7" fill="#eae8b4" fill-opacity="0.30"/><polygon points="601.0,83.4 599.2,79.3 561.9,88.1 564.4,95.7 568.0,102.8" fill="#ddd68a" fill-opacity="0.37"/><polygon points="599.2,79.3 598.8,76.8 560.5,79.3 561.0,83.7 561.9,88.1" fill="#f8f8e0" fill-opacity="0.31"/><polygon points="598.8,76.8 598.8,74.3 560.5,70.6 560.3,74.9 560.5,79.3" fill="#eae8b4" fill-opacity="0.30"/><polygon points="598.8,74.3 599.6,70.7 563.3,57.5 561.5,63.9 560.5,70.6" fill="#f8f8e0" fill-opacity="0.28"/><polygon points="599.6,70.7 601.2,67.4 568.8,46.0 565.7,51.6 563.3,57.5" fill="#ddd68a" fill-opacity="0.27"/><polygon points="601.2,67.4 603.0,65.3 574.9,38.3 571.7,42.0 568.8,46.0" fill="#f8f8e0" fill-opacity="0.36"/><polygon points="603.0,65.3 605.2,63.4 582.5,31.6 578.5,34.8 574.9,38.3" fill="#ddd68a" fill-opacity="0.37"/><polygon points="605.2,63.4 607.1,62.2 589.2,27.4 585.8,29.4 582.5,31.6" fill="#ddd68a" fill-opacity="0.33"/><polygon points="607.1,62.2 611.7,60.7 605.2,22.0 597.0,24.1 589.2,27.4" fill="#f8f8e0" fill-opacity="0.43"/><polygon points="611.7,60.7 616.0,60.6 620.1,21.5 612.6,21.2 605.2,22.0" fill="#f8f8e0" fill-opacity="0.37"/><polygon points="616.0,60.6 620.8,61.8 636.7,26.0 628.6,23.1 620.1,21.5" fill="#ddd68a" fill-opacity="0.38"/><polygon points="620.8,61.8 625.1,64.5 651.4,35.7 644.4,30.3 636.7,26.0" fill="#ddd68a" fill-opacity="0.29"/><polygon points="625.1,64.5 627.4,67.1 659.2,44.9 655.5,40.1 651.4,35.7" fill="#ddd68a" fill-opacity="0.38"/><polygon points="627.4,67.1 629.3,70.9 665.8,58.4 663.0,51.4 659.2,44.9" fill="#ddd68a" fill-opacity="0.27"/><polygon points="629.3,70.9 630.0,74.1 668.2,69.7 667.3,64.0 665.8,58.4" fill="#eae8b4" fill-opacity="0.30"/><polygon points="630.0,74.1 629.7,78.5 667.5,85.5 668.4,77.6 668.2,69.7" fill="#ddd68a" fill-opacity="0.26"/></g><g filter="url(#sblur)"><line x1="643.1" y1="81.1" x2="654.1" y2="82.9" stroke="#c3b867" stroke-opacity="0.48" stroke-width="0.8"/><line x1="621.4" y1="93.2" x2="632.3" y2="121.4" stroke="#c3b867" stroke-opacity="0.48" stroke-width="1.0"/><line x1="617.0" y1="93.8" x2="619.9" y2="115.2" stroke="#c3b867" stroke-opacity="0.48" stroke-width="1.1"/><line x1="609.5" y1="100.1" x2="605.0" y2="123.2" stroke="#c3b867" stroke-opacity="0.48" stroke-width="0.9"/><line x1="600.0" y1="89.2" x2="587.3" y2="101.4" stroke="#c3b867" stroke-opacity="0.48" stroke-width="1.0"/><line x1="589.4" y1="90.1" x2="574.6" y2="98.9" stroke="#c3b867" stroke-opacity="0.48" stroke-width="0.7"/><line x1="590.4" y1="77.4" x2="575.6" y2="78.1" stroke="#c3b867" stroke-opacity="0.48" stroke-width="1.0"/><line x1="591.0" y1="61.1" x2="576.9" y2="51.2" stroke="#c3b867" stroke-opacity="0.48" stroke-width="1.0"/><line x1="596.0" y1="58.9" x2="581.5" y2="44.5" stroke="#c3b867" stroke-opacity="0.48" stroke-width="1.0"/><line x1="603.2" y1="60.8" x2="588.2" y2="39.4" stroke="#c3b867" stroke-opacity="0.48" stroke-width="0.7"/><line x1="605.8" y1="59.8" x2="592.6" y2="33.8" stroke="#c3b867" stroke-opacity="0.48" stroke-width="0.6"/><line x1="622.5" y1="58.2" x2="633.2" y2="33.6" stroke="#c3b867" stroke-opacity="0.48" stroke-width="0.7"/><line x1="627.8" y1="61.7" x2="648.4" y2="38.9" stroke="#c3b867" stroke-opacity="0.48" stroke-width="0.9"/><line x1="630.5" y1="65.1" x2="653.1" y2="49.0" stroke="#c3b867" stroke-opacity="0.48" stroke-width="1.0"/><line x1="636.7" y1="73.4" x2="655.6" y2="71.0" stroke="#c3b867" stroke-opacity="0.48" stroke-width="1.0"/><line x1="627.9" y1="93.0" x2="644.2" y2="114.8" stroke="#d5ce7c" stroke-opacity="0.27" stroke-width="0.7"/><line x1="631.9" y1="90.3" x2="647.7" y2="103.9" stroke="#d5ce7c" stroke-opacity="0.36" stroke-width="0.9"/><line x1="596.9" y1="61.4" x2="577.0" y2="43.9" stroke="#d5ce7c" stroke-opacity="0.43" stroke-width="1.2"/><line x1="626.6" y1="56.3" x2="632.9" y2="44.9" stroke="#d5ce7c" stroke-opacity="0.44" stroke-width="0.9"/><line x1="628.1" y1="62.9" x2="649.9" y2="41.1" stroke="#fafae4" stroke-opacity="0.43" stroke-width="0.8"/><line x1="608.0" y1="94.3" x2="601.9" y2="112.9" stroke="#fafae4" stroke-opacity="0.36" stroke-width="1.3"/><line x1="600.1" y1="55.5" x2="588.0" y2="36.9" stroke="#d5ce7c" stroke-opacity="0.47" stroke-width="1.1"/><line x1="611.4" y1="94.3" x2="608.2" y2="115.7" stroke="#fafae4" stroke-opacity="0.31" stroke-width="1.2"/><line x1="632.2" y1="66.3" x2="655.4" y2="52.9" stroke="#d5ce7c" stroke-opacity="0.44" stroke-width="1.2"/><line x1="596.4" y1="72.1" x2="567.9" y2="65.7" stroke="#fafae4" stroke-opacity="0.41" stroke-width="0.9"/><line x1="589.6" y1="69.9" x2="577.9" y2="66.4" stroke="#d5ce7c" stroke-opacity="0.40" stroke-width="1.0"/><line x1="633.7" y1="67.9" x2="659.5" y2="56.6" stroke="#d5ce7c" stroke-opacity="0.46" stroke-width="0.7"/><line x1="619.1" y1="94.3" x2="625.8" y2="122.3" stroke="#fafae4" stroke-opacity="0.32" stroke-width="1.1"/><line x1="633.3" y1="74.4" x2="656.0" y2="72.4" stroke="#d5ce7c" stroke-opacity="0.40" stroke-width="1.1"/><line x1="614.8" y1="56.7" x2="615.2" y2="36.3" stroke="#fafae4" stroke-opacity="0.42" stroke-width="0.7"/><line x1="612.9" y1="100.2" x2="611.7" y2="119.6" stroke="#d5ce7c" stroke-opacity="0.40" stroke-width="1.0"/><line x1="607.6" y1="57.4" x2="602.2" y2="41.3" stroke="#fafae4" stroke-opacity="0.25" stroke-width="0.9"/><line x1="625.9" y1="89.5" x2="641.0" y2="108.1" stroke="#d5ce7c" stroke-opacity="0.40" stroke-width="0.8"/><line x1="616.7" y1="57.4" x2="618.9" y2="38.9" stroke="#fafae4" stroke-opacity="0.35" stroke-width="1.1"/><line x1="592.3" y1="83.3" x2="580.1" y2="87.4" stroke="#d5ce7c" stroke-opacity="0.34" stroke-width="1.2"/><line x1="638.3" y1="80.1" x2="652.2" y2="82.4" stroke="#d5ce7c" stroke-opacity="0.43" stroke-width="1.1"/><line x1="611.4" y1="92.3" x2="607.8" y2="112.3" stroke="#d5ce7c" stroke-opacity="0.30" stroke-width="1.1"/><line x1="594.8" y1="64.1" x2="582.1" y2="55.5" stroke="#fafae4" stroke-opacity="0.27" stroke-width="1.3"/><line x1="597.4" y1="90.4" x2="582.0" y2="104.2" stroke="#fafae4" stroke-opacity="0.27" stroke-width="0.6"/><line x1="625.5" y1="61.2" x2="644.2" y2="35.6" stroke="#fafae4" stroke-opacity="0.43" stroke-width="0.7"/><line x1="619.0" y1="57.2" x2="624.0" y2="35.8" stroke="#d5ce7c" stroke-opacity="0.29" stroke-width="0.8"/><line x1="620.1" y1="57.2" x2="626.0" y2="36.2" stroke="#d5ce7c" stroke-opacity="0.31" stroke-width="0.7"/><line x1="618.4" y1="95.2" x2="622.2" y2="114.7" stroke="#d5ce7c" stroke-opacity="0.36" stroke-width="1.2"/><line x1="636.2" y1="82.5" x2="659.7" y2="89.9" stroke="#fafae4" stroke-opacity="0.26" stroke-width="0.9"/><line x1="630.3" y1="89.3" x2="648.6" y2="105.4" stroke="#fafae4" stroke-opacity="0.28" stroke-width="0.9"/><line x1="623.3" y1="92.2" x2="633.6" y2="112.0" stroke="#fafae4" stroke-opacity="0.27" stroke-width="0.9"/><line x1="589.6" y1="80.3" x2="571.8" y2="83.4" stroke="#fafae4" stroke-opacity="0.31" stroke-width="1.1"/><line x1="591.6" y1="66.4" x2="568.7" y2="56.1" stroke="#d5ce7c" stroke-opacity="0.29" stroke-width="1.3"/><line x1="595.2" y1="72.7" x2="577.2" y2="69.3" stroke="#d5ce7c" stroke-opacity="0.31" stroke-width="0.7"/><line x1="612.0" y1="99.8" x2="610.4" y2="116.7" stroke="#d5ce7c" stroke-opacity="0.28" stroke-width="0.9"/><line x1="606.5" y1="92.5" x2="595.8" y2="115.9" stroke="#fafae4" stroke-opacity="0.28" stroke-width="1.3"/><line x1="595.6" y1="77.7" x2="579.4" y2="79.2" stroke="#d5ce7c" stroke-opacity="0.37" stroke-width="0.6"/><line x1="591.2" y1="79.8" x2="572.0" y2="83.1" stroke="#fafae4" stroke-opacity="0.37" stroke-width="1.0"/><line x1="603.5" y1="60.9" x2="587.0" y2="36.9" stroke="#d5ce7c" stroke-opacity="0.41" stroke-width="1.2"/><line x1="597.6" y1="93.4" x2="588.9" y2="102.9" stroke="#fafae4" stroke-opacity="0.40" stroke-width="1.2"/><line x1="631.2" y1="84.8" x2="645.4" y2="92.6" stroke="#fafae4" stroke-opacity="0.29" stroke-width="0.7"/><line x1="614.2" y1="54.0" x2="614.1" y2="26.1" stroke="#fafae4" stroke-opacity="0.42" stroke-width="0.6"/><line x1="632.8" y1="69.6" x2="654.4" y2="61.7" stroke="#d5ce7c" stroke-opacity="0.46" stroke-width="0.9"/><line x1="637.0" y1="74.5" x2="652.7" y2="73.1" stroke="#d5ce7c" stroke-opacity="0.31" stroke-width="1.3"/><line x1="595.8" y1="80.6" x2="566.7" y2="88.4" stroke="#fafae4" stroke-opacity="0.35" stroke-width="0.8"/><line x1="605.8" y1="60.7" x2="594.5" y2="39.7" stroke="#fafae4" stroke-opacity="0.46" stroke-width="0.6"/><line x1="599.1" y1="63.7" x2="581.7" y2="49.0" stroke="#d5ce7c" stroke-opacity="0.41" stroke-width="0.7"/><line x1="615.5" y1="93.4" x2="617.4" y2="124.3" stroke="#fafae4" stroke-opacity="0.28" stroke-width="1.0"/><line x1="592.8" y1="63.8" x2="583.1" y2="57.6" stroke="#fafae4" stroke-opacity="0.29" stroke-width="1.0"/><line x1="594.5" y1="81.5" x2="568.1" y2="89.3" stroke="#d5ce7c" stroke-opacity="0.44" stroke-width="1.3"/><line x1="611.4" y1="99.9" x2="609.5" y2="115.8" stroke="#fafae4" stroke-opacity="0.48" stroke-width="0.7"/><line x1="634.2" y1="77.7" x2="653.6" y2="79.4" stroke="#d5ce7c" stroke-opacity="0.44" stroke-width="0.9"/><line x1="590.3" y1="71.2" x2="568.0" y2="66.5" stroke="#d5ce7c" stroke-opacity="0.37" stroke-width="0.7"/><line x1="615.3" y1="97.8" x2="616.1" y2="118.8" stroke="#d5ce7c" stroke-opacity="0.45" stroke-width="1.3"/><line x1="620.8" y1="92.0" x2="631.5" y2="120.4" stroke="#d5ce7c" stroke-opacity="0.30" stroke-width="1.1"/><line x1="613.7" y1="94.4" x2="613.0" y2="115.5" stroke="#d5ce7c" stroke-opacity="0.40" stroke-width="0.7"/><line x1="613.2" y1="53.7" x2="612.1" y2="33.2" stroke="#d5ce7c" stroke-opacity="0.43" stroke-width="0.6"/><line x1="591.6" y1="79.0" x2="569.2" y2="82.1" stroke="#d5ce7c" stroke-opacity="0.30" stroke-width="1.3"/><line x1="618.7" y1="57.3" x2="623.6" y2="34.8" stroke="#d5ce7c" stroke-opacity="0.31" stroke-width="0.9"/><line x1="638.6" y1="69.8" x2="651.8" y2="65.9" stroke="#d5ce7c" stroke-opacity="0.34" stroke-width="1.1"/><line x1="616.4" y1="57.8" x2="618.5" y2="37.1" stroke="#fafae4" stroke-opacity="0.32" stroke-width="0.6"/><line x1="628.1" y1="90.8" x2="641.6" y2="106.2" stroke="#fafae4" stroke-opacity="0.40" stroke-width="1.3"/><line x1="596.3" y1="66.4" x2="574.0" y2="54.0" stroke="#fafae4" stroke-opacity="0.29" stroke-width="0.9"/><line x1="637.3" y1="78.1" x2="651.7" y2="79.2" stroke="#fafae4" stroke-opacity="0.49" stroke-width="1.1"/><line x1="626.1" y1="56.7" x2="637.2" y2="36.9" stroke="#d5ce7c" stroke-opacity="0.46" stroke-width="0.7"/><line x1="616.4" y1="56.4" x2="618.4" y2="36.5" stroke="#d5ce7c" stroke-opacity="0.39" stroke-width="1.2"/><line x1="630.2" y1="60.3" x2="641.3" y2="48.3" stroke="#fafae4" stroke-opacity="0.38" stroke-width="1.1"/><line x1="611.9" y1="92.9" x2="609.5" y2="109.8" stroke="#fafae4" stroke-opacity="0.42" stroke-width="0.6"/><line x1="616.9" y1="94.5" x2="620.1" y2="120.3" stroke="#d5ce7c" stroke-opacity="0.27" stroke-width="0.7"/><line x1="637.8" y1="65.7" x2="648.6" y2="60.3" stroke="#fafae4" stroke-opacity="0.38" stroke-width="0.8"/><ellipse cx="614.4" cy="75.1" rx="50.1" ry="49.9" fill="none" stroke="#c6bb67" stroke-opacity="0.8" stroke-width="2.2"/><ellipse cx="614.4" cy="75.6" rx="18.4" ry="17.8" fill="none" stroke="#deda91" stroke-opacity="0.6" stroke-width="1.5"/></g></g></g><text x="551.8" y="14.6" font-size="7.5" fill="#f2f2f2">DT: 4 hours</text><rect x="14" y="139" width="131.0" height="129.0" fill="url(#bg1)"/><rect x="14" y="139" width="131.0" height="129.0" filter="url(#noise)" opacity="0.2"/><g filter="url(#soft)"><g clip-path="url(#cp5)"><rect x="29.2" y="158.9" width="106.0" height="106.0" fill="url(#g5)"/><g filter="url(#wblur)"><polygon points="96.2,212.5 95.9,214.8 132.9,222.7 133.5,218.7 133.9,214.6" fill="#f8f8e0" fill-opacity="0.40"/><polygon points="95.9,214.8 94.8,218.2 128.9,235.1 131.3,229.0 132.9,222.7" fill="#eae6b2" fill-opacity="0.30"/><polygon points="94.8,218.2 92.2,222.2 119.5,249.3 124.7,242.6 128.9,235.1" fill="#f8f8e0" fill-opacity="0.40"/><polygon points="92.2,222.2 88.6,225.0 106.2,259.7 113.2,255.1 119.5,249.3" fill="#ddd586" fill-opacity="0.41"/><polygon points="88.6,225.0 84.1,226.6 90.0,265.3 98.3,263.2 106.2,259.7" fill="#ddd586" fill-opacity="0.40"/><polygon points="84.1,226.6 80.7,226.7 77.3,265.7 83.6,265.9 90.0,265.3" fill="#f8f8e0" fill-opacity="0.46"/><polygon points="80.7,226.7 76.2,225.4 61.0,261.1 68.9,264.1 77.3,265.7" fill="#eae6b2" fill-opacity="0.30"/><polygon points="76.2,225.4 73.1,223.4 49.7,253.9 55.1,257.9 61.0,261.1" fill="#f8f8e0" fill-opacity="0.49"/><polygon points="73.1,223.4 71.3,221.6 43.2,247.4 46.4,250.8 49.7,253.9" fill="#ddd586" fill-opacity="0.27"/><polygon points="71.3,221.6 69.2,218.3 35.6,235.3 39.0,241.7 43.2,247.4" fill="#f8f8e0" fill-opacity="0.45"/><polygon points="69.2,218.3 68.0,214.0 31.0,219.8 32.7,227.7 35.6,235.3" fill="#ddd586" fill-opacity="0.28"/><polygon points="68.0,214.0 67.9,210.6 30.6,207.4 30.5,213.6 31.0,219.8" fill="#ddd586" fill-opacity="0.38"/><polygon points="67.9,210.6 68.6,206.7 33.5,193.6 31.7,200.4 30.6,207.4" fill="#eae6b2" fill-opacity="0.30"/><polygon points="68.6,206.7 69.8,204.1 37.9,184.0 35.5,188.7 33.5,193.6" fill="#f8f8e0" fill-opacity="0.44"/><polygon points="69.8,204.1 71.5,201.7 44.1,175.4 40.8,179.5 37.9,184.0" fill="#f8f8e0" fill-opacity="0.30"/><polygon points="71.5,201.7 74.0,199.5 53.0,167.3 48.3,171.1 44.1,175.4" fill="#f8f8e0" fill-opacity="0.35"/><polygon points="74.0,199.5 77.1,197.8 64.3,161.2 58.5,163.9 53.0,167.3" fill="#ddd586" fill-opacity="0.32"/><polygon points="77.1,197.8 80.4,196.9 76.2,158.3 70.2,159.4 64.3,161.2" fill="#f8f8e0" fill-opacity="0.30"/><polygon points="80.4,196.9 82.7,196.9 84.7,158.0 80.4,157.9 76.2,158.3" fill="#f8f8e0" fill-opacity="0.30"/><polygon points="82.7,196.9 84.8,197.1 92.2,158.9 88.5,158.3 84.7,158.0" fill="#f8f8e0" fill-opacity="0.38"/><polygon points="84.8,197.1 87.6,198.1 102.7,162.3 97.6,160.3 92.2,158.9" fill="#f8f8e0" fill-opacity="0.37"/><polygon points="87.6,198.1 91.1,200.3 115.3,170.4 109.3,165.9 102.7,162.3" fill="#ddd586" fill-opacity="0.45"/><polygon points="91.1,200.3 93.8,203.5 125.3,182.1 120.7,175.8 115.3,170.4" fill="#ddd586" fill-opacity="0.44"/><polygon points="93.8,203.5 95.1,206.1 130.0,191.2 127.9,186.5 125.3,182.1" fill="#ddd586" fill-opacity="0.30"/><polygon points="95.1,206.1 95.9,208.9 132.9,201.3 131.7,196.2 130.0,191.2" fill="#ddd586" fill-opacity="0.28"/><polygon points="95.9,208.9 96.2,212.5 133.9,214.6 133.8,207.9 132.9,201.3" fill="#f8f8e0" fill-opacity="0.27"/></g><g filter="url(#sblur)"><line x1="100.3" y1="221.0" x2="119.2" y2="230.3" stroke="#c1b461" stroke-opacity="0.52" stroke-width="0.8"/><line x1="90.5" y1="228.8" x2="103.7" y2="254.7" stroke="#c1b461" stroke-opacity="0.52" stroke-width="0.9"/><line x1="85.8" y1="238.1" x2="88.9" y2="258.0" stroke="#c1b461" stroke-opacity="0.52" stroke-width="0.8"/><line x1="68.8" y1="229.1" x2="57.4" y2="244.0" stroke="#c1b461" stroke-opacity="0.52" stroke-width="0.9"/><line x1="61.7" y1="210.0" x2="36.2" y2="207.9" stroke="#c1b461" stroke-opacity="0.52" stroke-width="1.0"/><line x1="62.7" y1="193.1" x2="50.9" y2="181.9" stroke="#c1b461" stroke-opacity="0.52" stroke-width="0.8"/><line x1="71.9" y1="196.3" x2="55.9" y2="171.7" stroke="#c1b461" stroke-opacity="0.52" stroke-width="1.0"/><line x1="75.1" y1="192.1" x2="67.8" y2="171.1" stroke="#c1b461" stroke-opacity="0.52" stroke-width="0.8"/><line x1="79.0" y1="184.9" x2="77.5" y2="170.3" stroke="#c1b461" stroke-opacity="0.52" stroke-width="0.9"/><line x1="89.9" y1="192.4" x2="98.3" y2="173.0" stroke="#c1b461" stroke-opacity="0.52" stroke-width="0.9"/><line x1="99.0" y1="199.9" x2="116.0" y2="188.5" stroke="#c1b461" stroke-opacity="0.52" stroke-width="0.8"/><line x1="101.1" y1="207.8" x2="121.3" y2="203.8" stroke="#c1b461" stroke-opacity="0.52" stroke-width="1.0"/><line x1="93.3" y1="230.5" x2="100.3" y2="241.8" stroke="#fafae4" stroke-opacity="0.26" stroke-width="1.2"/><line x1="92.6" y1="226.6" x2="102.9" y2="240.5" stroke="#fafae4" stroke-opacity="0.43" stroke-width="1.1"/><line x1="101.4" y1="198.9" x2="117.2" y2="188.8" stroke="#d5cc76" stroke-opacity="0.30" stroke-width="1.2"/><line x1="66.2" y1="219.1" x2="41.7" y2="230.5" stroke="#d5cc76" stroke-opacity="0.36" stroke-width="0.7"/><line x1="97.0" y1="195.5" x2="111.6" y2="180.4" stroke="#d5cc76" stroke-opacity="0.29" stroke-width="0.6"/><line x1="93.4" y1="223.7" x2="113.3" y2="244.0" stroke="#d5cc76" stroke-opacity="0.31" stroke-width="0.7"/><line x1="90.6" y1="231.3" x2="100.4" y2="252.8" stroke="#d5cc76" stroke-opacity="0.36" stroke-width="1.3"/><line x1="64.8" y1="219.7" x2="48.1" y2="227.4" stroke="#fafae4" stroke-opacity="0.49" stroke-width="1.3"/><line x1="77.3" y1="194.4" x2="72.3" y2="175.6" stroke="#fafae4" stroke-opacity="0.34" stroke-width="1.1"/><line x1="100.5" y1="219.4" x2="122.6" y2="228.3" stroke="#fafae4" stroke-opacity="0.36" stroke-width="1.2"/><line x1="64.9" y1="202.5" x2="41.1" y2="189.8" stroke="#d5cc76" stroke-opacity="0.35" stroke-width="0.9"/><line x1="102.9" y1="203.6" x2="126.0" y2="194.9" stroke="#d5cc76" stroke-opacity="0.31" stroke-width="0.7"/><line x1="66.4" y1="226.6" x2="57.2" y2="235.4" stroke="#d5cc76" stroke-opacity="0.44" stroke-width="1.0"/><line x1="103.8" y1="212.6" x2="121.7" y2="213.4" stroke="#d5cc76" stroke-opacity="0.40" stroke-width="1.1"/><line x1="62.6" y1="225.0" x2="42.5" y2="238.7" stroke="#d5cc76" stroke-opacity="0.41" stroke-width="0.8"/><line x1="69.2" y1="225.0" x2="49.0" y2="245.9" stroke="#d5cc76" stroke-opacity="0.44" stroke-width="1.2"/><line x1="103.0" y1="210.5" x2="120.2" y2="209.6" stroke="#d5cc76" stroke-opacity="0.34" stroke-width="1.0"/><line x1="94.1" y1="231.5" x2="104.3" y2="247.4" stroke="#fafae4" stroke-opacity="0.48" stroke-width="0.7"/><line x1="101.5" y1="202.2" x2="114.5" y2="196.1" stroke="#d5cc76" stroke-opacity="0.40" stroke-width="1.2"/><line x1="65.7" y1="201.4" x2="42.0" y2="186.6" stroke="#fafae4" stroke-opacity="0.44" stroke-width="0.7"/><line x1="79.2" y1="229.2" x2="74.5" y2="259.3" stroke="#fafae4" stroke-opacity="0.43" stroke-width="0.8"/><line x1="79.4" y1="190.1" x2="77.9" y2="175.7" stroke="#fafae4" stroke-opacity="0.43" stroke-width="0.8"/><line x1="71.8" y1="196.2" x2="60.2" y2="178.5" stroke="#d5cc76" stroke-opacity="0.47" stroke-width="1.3"/><line x1="63.9" y1="221.2" x2="41.7" y2="232.8" stroke="#d5cc76" stroke-opacity="0.37" stroke-width="1.2"/><line x1="63.3" y1="225.9" x2="49.4" y2="236.4" stroke="#fafae4" stroke-opacity="0.44" stroke-width="0.7"/><line x1="75.0" y1="196.3" x2="61.8" y2="166.9" stroke="#d5cc76" stroke-opacity="0.43" stroke-width="0.7"/><line x1="69.8" y1="196.9" x2="58.0" y2="182.5" stroke="#d5cc76" stroke-opacity="0.29" stroke-width="0.9"/><line x1="101.0" y1="224.0" x2="121.8" y2="237.0" stroke="#fafae4" stroke-opacity="0.37" stroke-width="0.9"/><line x1="77.8" y1="189.7" x2="74.7" y2="172.5" stroke="#d5cc76" stroke-opacity="0.32" stroke-width="0.7"/><line x1="88.6" y1="195.6" x2="96.5" y2="177.2" stroke="#d5cc76" stroke-opacity="0.35" stroke-width="0.7"/><line x1="99.6" y1="203.1" x2="122.7" y2="192.0" stroke="#fafae4" stroke-opacity="0.48" stroke-width="0.8"/><line x1="99.0" y1="199.8" x2="121.7" y2="184.4" stroke="#d5cc76" stroke-opacity="0.41" stroke-width="1.0"/><line x1="93.8" y1="195.8" x2="103.6" y2="183.1" stroke="#d5cc76" stroke-opacity="0.44" stroke-width="1.1"/><line x1="81.4" y1="193.3" x2="80.9" y2="170.0" stroke="#d5cc76" stroke-opacity="0.48" stroke-width="1.2"/><line x1="93.2" y1="230.5" x2="104.3" y2="248.5" stroke="#fafae4" stroke-opacity="0.29" stroke-width="0.7"/><line x1="62.8" y1="215.6" x2="45.5" y2="219.1" stroke="#fafae4" stroke-opacity="0.39" stroke-width="1.1"/><line x1="67.5" y1="202.2" x2="43.0" y2="186.2" stroke="#fafae4" stroke-opacity="0.49" stroke-width="1.3"/><line x1="94.9" y1="228.3" x2="112.4" y2="250.1" stroke="#fafae4" stroke-opacity="0.39" stroke-width="0.8"/><line x1="99.1" y1="215.1" x2="116.9" y2="218.5" stroke="#fafae4" stroke-opacity="0.41" stroke-width="1.0"/><line x1="101.9" y1="204.7" x2="118.9" y2="199.0" stroke="#d5cc76" stroke-opacity="0.41" stroke-width="1.0"/><line x1="95.6" y1="195.1" x2="107.4" y2="181.2" stroke="#d5cc76" stroke-opacity="0.34" stroke-width="1.3"/><line x1="82.8" y1="236.2" x2="83.5" y2="247.8" stroke="#fafae4" stroke-opacity="0.39" stroke-width="0.7"/><line x1="65.3" y1="211.0" x2="36.7" y2="209.7" stroke="#d5cc76" stroke-opacity="0.42" stroke-width="1.2"/><line x1="102.9" y1="210.7" x2="125.9" y2="209.6" stroke="#fafae4" stroke-opacity="0.26" stroke-width="0.9"/><line x1="99.9" y1="208.1" x2="123.1" y2="203.5" stroke="#fafae4" stroke-opacity="0.35" stroke-width="1.2"/><line x1="63.3" y1="199.4" x2="53.7" y2="193.1" stroke="#fafae4" stroke-opacity="0.29" stroke-width="1.2"/><line x1="100.4" y1="226.2" x2="112.2" y2="235.2" stroke="#d5cc76" stroke-opacity="0.39" stroke-width="0.8"/><line x1="100.5" y1="207.6" x2="124.8" y2="202.4" stroke="#fafae4" stroke-opacity="0.46" stroke-width="1.3"/><line x1="98.5" y1="226.3" x2="111.0" y2="236.9" stroke="#fafae4" stroke-opacity="0.34" stroke-width="1.1"/><line x1="104.3" y1="204.7" x2="128.0" y2="197.5" stroke="#d5cc76" stroke-opacity="0.41" stroke-width="0.7"/><line x1="79.0" y1="191.0" x2="76.4" y2="172.0" stroke="#d5cc76" stroke-opacity="0.33" stroke-width="0.7"/><line x1="91.3" y1="226.8" x2="105.1" y2="248.6" stroke="#d5cc76" stroke-opacity="0.32" stroke-width="1.0"/><line x1="64.1" y1="202.3" x2="47.0" y2="193.3" stroke="#d5cc76" stroke-opacity="0.29" stroke-width="0.6"/><line x1="66.4" y1="220.5" x2="42.9" y2="233.5" stroke="#fafae4" stroke-opacity="0.46" stroke-width="0.8"/><line x1="98.3" y1="223.1" x2="114.9" y2="234.3" stroke="#fafae4" stroke-opacity="0.44" stroke-width="0.8"/><line x1="71.3" y1="191.4" x2="62.9" y2="175.3" stroke="#d5cc76" stroke-opacity="0.47" stroke-width="1.0"/><line x1="88.9" y1="227.5" x2="96.8" y2="244.8" stroke="#fafae4" stroke-opacity="0.27" stroke-width="1.1"/><line x1="65.9" y1="220.7" x2="45.9" y2="231.6" stroke="#d5cc76" stroke-opacity="0.33" stroke-width="0.7"/><line x1="75.8" y1="229.9" x2="66.3" y2="257.6" stroke="#d5cc76" stroke-opacity="0.37" stroke-width="0.7"/><line x1="98.1" y1="216.8" x2="126.1" y2="225.3" stroke="#d5cc76" stroke-opacity="0.31" stroke-width="1.0"/><line x1="100.4" y1="219.2" x2="118.0" y2="226.3" stroke="#fafae4" stroke-opacity="0.44" stroke-width="1.1"/><line x1="64.9" y1="210.6" x2="39.1" y2="208.9" stroke="#fafae4" stroke-opacity="0.42" stroke-width="0.7"/><line x1="95.0" y1="202.2" x2="112.3" y2="189.9" stroke="#fafae4" stroke-opacity="0.30" stroke-width="0.7"/><line x1="73.1" y1="189.1" x2="67.5" y2="174.9" stroke="#fafae4" stroke-opacity="0.42" stroke-width="0.8"/><line x1="64.9" y1="224.7" x2="50.0" y2="236.1" stroke="#fafae4" stroke-opacity="0.27" stroke-width="1.0"/><line x1="104.7" y1="210.4" x2="117.1" y2="209.7" stroke="#d5cc76" stroke-opacity="0.38" stroke-width="0.7"/><line x1="72.5" y1="193.7" x2="60.4" y2="170.6" stroke="#fafae4" stroke-opacity="0.48" stroke-width="1.2"/><line x1="65.3" y1="214.8" x2="42.3" y2="218.9" stroke="#fafae4" stroke-opacity="0.42" stroke-width="1.1"/><line x1="61.5" y1="200.3" x2="52.1" y2="195.1" stroke="#d5cc76" stroke-opacity="0.44" stroke-width="0.7"/><line x1="74.9" y1="227.2" x2="63.9" y2="251.2" stroke="#d5cc76" stroke-opacity="0.35" stroke-width="1.1"/><ellipse cx="82.2" cy="211.9" rx="47.9" ry="50.0" fill="none" stroke="#c3b661" stroke-opacity="0.8" stroke-width="2.2"/><ellipse cx="82.0" cy="211.8" rx="16.7" ry="17.6" fill="none" stroke="#ded88f" stroke-opacity="0.6" stroke-width="1.5"/></g></g></g><text x="17.9" y="147.7" font-size="7.5" fill="#f2f2f2">DT: 5 hours</text><rect x="148" y="139" width="129.5" height="129.0" fill="url(#bg1)"/><rect x="148" y="139" width="129.5" height="129.0" filter="url(#noise)" opacity="0.2"/><g filter="url(#soft)"><g clip-path="url(#cp6)"><rect x="160.4" y="158.3" width="101.0" height="101.0" fill="url(#g6)"/><g filter="url(#wblur)"><polygon points="224.5,210.0 223.4,213.8 257.5,229.7 260.2,222.7 261.8,215.3" fill="#ddd383" fill-opacity="0.39"/><polygon points="223.4,213.8 221.8,216.4 251.5,239.5 254.8,234.8 257.5,229.7" fill="#ddd383" fill-opacity="0.43"/><polygon points="221.8,216.4 220.6,217.7 247.0,244.4 249.3,242.0 251.5,239.5" fill="#ddd383" fill-opacity="0.35"/><polygon points="220.6,217.7 219.1,218.9 241.5,249.0 244.3,246.8 247.0,244.4" fill="#f8f8e0" fill-opacity="0.37"/><polygon points="219.1,218.9 217.0,220.2 233.6,253.8 237.6,251.6 241.5,249.0" fill="#e9e5af" fill-opacity="0.30"/><polygon points="217.0,220.2 214.7,221.1 224.7,257.1 229.2,255.6 233.6,253.8" fill="#e9e5af" fill-opacity="0.30"/><polygon points="214.7,221.1 210.7,221.6 209.7,258.9 217.3,258.5 224.7,257.1" fill="#f8f8e0" fill-opacity="0.44"/><polygon points="210.7,221.6 207.4,221.1 197.2,257.1 203.4,258.4 209.7,258.9" fill="#ddd383" fill-opacity="0.30"/><polygon points="207.4,221.1 204.6,220.0 186.9,253.1 191.9,255.4 197.2,257.1" fill="#e9e5af" fill-opacity="0.30"/><polygon points="204.6,220.0 202.0,218.2 177.0,246.4 181.7,250.0 186.9,253.1" fill="#f8f8e0" fill-opacity="0.49"/><polygon points="202.0,218.2 199.5,215.4 167.5,235.5 171.9,241.3 177.0,246.4" fill="#ddd383" fill-opacity="0.32"/><polygon points="199.5,215.4 198.3,213.0 163.0,226.7 165.0,231.2 167.5,235.5" fill="#ddd383" fill-opacity="0.45"/><polygon points="198.3,213.0 197.5,210.1 160.1,215.8 161.2,221.3 163.0,226.7" fill="#f8f8e0" fill-opacity="0.34"/><polygon points="197.5,210.1 197.4,207.5 159.7,205.9 159.6,210.9 160.1,215.8" fill="#f8f8e0" fill-opacity="0.32"/><polygon points="197.4,207.5 198.1,204.0 162.4,192.6 160.6,199.2 159.7,205.9" fill="#ddd383" fill-opacity="0.44"/><polygon points="198.1,204.0 199.8,200.8 168.7,180.3 165.1,186.2 162.4,192.6" fill="#f8f8e0" fill-opacity="0.45"/><polygon points="199.8,200.8 202.6,197.9 179.0,169.5 173.5,174.5 168.7,180.3" fill="#e9e5af" fill-opacity="0.30"/><polygon points="202.6,197.9 204.5,196.7 186.3,164.8 182.5,167.0 179.0,169.5" fill="#f8f8e0" fill-opacity="0.45"/><polygon points="204.5,196.7 206.7,195.7 194.6,161.3 190.4,162.9 186.3,164.8" fill="#f8f8e0" fill-opacity="0.39"/><polygon points="206.7,195.7 210.7,195.0 209.6,158.7 202.0,159.4 194.6,161.3" fill="#ddd383" fill-opacity="0.45"/><polygon points="210.7,195.0 213.6,195.3 220.9,159.6 215.3,158.9 209.6,158.7" fill="#ddd383" fill-opacity="0.30"/><polygon points="213.6,195.3 215.7,195.8 228.5,161.7 224.7,160.5 220.9,159.6" fill="#ddd383" fill-opacity="0.29"/><polygon points="215.7,195.8 217.9,196.9 237.0,165.7 232.8,163.5 228.5,161.7" fill="#e9e5af" fill-opacity="0.30"/><polygon points="217.9,196.9 219.5,197.9 242.9,169.6 240.0,167.5 237.0,165.7" fill="#ddd383" fill-opacity="0.36"/><polygon points="219.5,197.9 221.0,199.3 248.4,174.6 245.8,172.0 242.9,169.6" fill="#e9e5af" fill-opacity="0.30"/><polygon points="221.0,199.3 222.7,201.5 254.8,182.9 251.9,178.6 248.4,174.6" fill="#ddd383" fill-opacity="0.35"/><polygon points="222.7,201.5 224.1,204.7 260.3,195.3 258.0,188.9 254.8,182.9" fill="#e9e5af" fill-opacity="0.30"/><polygon points="224.1,204.7 224.6,207.5 262.1,205.7 261.5,200.5 260.3,195.3" fill="#f8f8e0" fill-opacity="0.29"/><polygon points="224.6,207.5 224.5,210.0 261.8,215.3 262.2,210.5 262.1,205.7" fill="#e9e5af" fill-opacity="0.30"/></g><g filter="url(#sblur)"><line x1="233.0" y1="211.1" x2="251.3" y2="214.0" stroke="#bfaf5b" stroke-opacity="0.55" stroke-width="0.7"/><line x1="231.8" y1="217.6" x2="252.3" y2="227.4" stroke="#bfaf5b" stroke-opacity="0.55" stroke-width="0.7"/><line x1="226.6" y1="223.7" x2="240.0" y2="237.6" stroke="#bfaf5b" stroke-opacity="0.55" stroke-width="0.6"/><line x1="217.6" y1="231.3" x2="222.6" y2="249.5" stroke="#bfaf5b" stroke-opacity="0.55" stroke-width="0.7"/><line x1="210.4" y1="231.8" x2="209.8" y2="255.0" stroke="#bfaf5b" stroke-opacity="0.55" stroke-width="0.9"/><line x1="198.2" y1="222.4" x2="186.5" y2="235.8" stroke="#bfaf5b" stroke-opacity="0.55" stroke-width="1.0"/><line x1="193.3" y1="214.9" x2="174.8" y2="222.3" stroke="#bfaf5b" stroke-opacity="0.55" stroke-width="1.0"/><line x1="189.5" y1="207.1" x2="164.7" y2="206.2" stroke="#bfaf5b" stroke-opacity="0.55" stroke-width="0.7"/><line x1="193.5" y1="202.5" x2="167.8" y2="194.4" stroke="#bfaf5b" stroke-opacity="0.55" stroke-width="0.7"/><line x1="197.8" y1="199.4" x2="172.6" y2="182.9" stroke="#bfaf5b" stroke-opacity="0.55" stroke-width="0.7"/><line x1="195.8" y1="189.6" x2="185.7" y2="177.8" stroke="#bfaf5b" stroke-opacity="0.55" stroke-width="1.0"/><line x1="203.6" y1="186.8" x2="197.9" y2="170.8" stroke="#bfaf5b" stroke-opacity="0.55" stroke-width="0.8"/><line x1="210.6" y1="190.6" x2="209.9" y2="169.9" stroke="#bfaf5b" stroke-opacity="0.55" stroke-width="0.8"/><line x1="215.3" y1="187.0" x2="219.0" y2="168.6" stroke="#bfaf5b" stroke-opacity="0.55" stroke-width="0.7"/><line x1="218.5" y1="188.2" x2="226.4" y2="167.3" stroke="#bfaf5b" stroke-opacity="0.55" stroke-width="1.0"/><line x1="228.0" y1="192.8" x2="239.4" y2="182.9" stroke="#bfaf5b" stroke-opacity="0.55" stroke-width="1.0"/><line x1="227.4" y1="207.3" x2="249.0" y2="206.5" stroke="#bfaf5b" stroke-opacity="0.55" stroke-width="1.1"/><line x1="229.3" y1="195.8" x2="244.0" y2="186.0" stroke="#fafae4" stroke-opacity="0.42" stroke-width="1.2"/><line x1="197.2" y1="214.6" x2="177.4" y2="224.0" stroke="#fafae4" stroke-opacity="0.29" stroke-width="0.7"/><line x1="219.9" y1="189.2" x2="227.2" y2="173.7" stroke="#d4c971" stroke-opacity="0.49" stroke-width="0.7"/><line x1="199.1" y1="217.5" x2="181.6" y2="231.6" stroke="#fafae4" stroke-opacity="0.43" stroke-width="1.0"/><line x1="212.8" y1="223.5" x2="214.8" y2="241.7" stroke="#fafae4" stroke-opacity="0.26" stroke-width="0.8"/><line x1="216.7" y1="189.4" x2="220.9" y2="175.5" stroke="#fafae4" stroke-opacity="0.41" stroke-width="1.3"/><line x1="204.7" y1="227.6" x2="196.9" y2="251.9" stroke="#d4c971" stroke-opacity="0.42" stroke-width="1.0"/><line x1="209.6" y1="187.2" x2="208.7" y2="174.7" stroke="#fafae4" stroke-opacity="0.37" stroke-width="0.9"/><line x1="228.1" y1="221.5" x2="241.2" y2="232.3" stroke="#fafae4" stroke-opacity="0.37" stroke-width="1.1"/><line x1="197.3" y1="221.0" x2="181.1" y2="236.6" stroke="#d4c971" stroke-opacity="0.42" stroke-width="1.1"/><line x1="209.3" y1="229.5" x2="208.1" y2="243.3" stroke="#fafae4" stroke-opacity="0.40" stroke-width="0.9"/><line x1="197.9" y1="198.6" x2="182.7" y2="187.9" stroke="#fafae4" stroke-opacity="0.46" stroke-width="0.7"/><line x1="226.7" y1="209.9" x2="252.7" y2="213.1" stroke="#d4c971" stroke-opacity="0.46" stroke-width="1.2"/><line x1="191.8" y1="215.7" x2="178.6" y2="221.3" stroke="#d4c971" stroke-opacity="0.38" stroke-width="1.0"/><line x1="219.7" y1="189.6" x2="226.8" y2="174.6" stroke="#d4c971" stroke-opacity="0.32" stroke-width="0.6"/><line x1="191.2" y1="207.8" x2="166.0" y2="207.8" stroke="#d4c971" stroke-opacity="0.42" stroke-width="0.6"/><line x1="205.5" y1="229.3" x2="201.2" y2="246.2" stroke="#d4c971" stroke-opacity="0.36" stroke-width="1.3"/><line x1="190.5" y1="199.9" x2="173.1" y2="193.3" stroke="#d4c971" stroke-opacity="0.36" stroke-width="0.6"/><line x1="224.9" y1="219.8" x2="242.5" y2="234.9" stroke="#fafae4" stroke-opacity="0.46" stroke-width="1.2"/><line x1="203.4" y1="193.2" x2="192.7" y2="172.4" stroke="#fafae4" stroke-opacity="0.36" stroke-width="0.8"/><line x1="192.2" y1="202.3" x2="172.4" y2="196.5" stroke="#fafae4" stroke-opacity="0.38" stroke-width="0.8"/><line x1="199.1" y1="220.8" x2="180.3" y2="241.2" stroke="#fafae4" stroke-opacity="0.33" stroke-width="0.8"/><line x1="227.2" y1="198.8" x2="246.7" y2="187.8" stroke="#d4c971" stroke-opacity="0.35" stroke-width="0.9"/><line x1="189.5" y1="213.0" x2="166.5" y2="218.5" stroke="#d4c971" stroke-opacity="0.33" stroke-width="1.0"/><line x1="225.6" y1="223.1" x2="234.1" y2="232.3" stroke="#fafae4" stroke-opacity="0.43" stroke-width="0.9"/><line x1="202.9" y1="188.5" x2="196.5" y2="173.4" stroke="#fafae4" stroke-opacity="0.41" stroke-width="0.8"/><line x1="216.2" y1="193.0" x2="224.3" y2="169.5" stroke="#d4c971" stroke-opacity="0.38" stroke-width="1.2"/><line x1="228.4" y1="203.7" x2="252.4" y2="197.9" stroke="#fafae4" stroke-opacity="0.42" stroke-width="1.0"/><line x1="228.1" y1="205.8" x2="253.1" y2="202.6" stroke="#fafae4" stroke-opacity="0.35" stroke-width="0.9"/><line x1="223.0" y1="222.6" x2="235.0" y2="237.6" stroke="#d4c971" stroke-opacity="0.31" stroke-width="0.7"/><line x1="204.6" y1="194.3" x2="194.1" y2="172.1" stroke="#fafae4" stroke-opacity="0.34" stroke-width="1.1"/><line x1="225.4" y1="197.0" x2="240.5" y2="185.5" stroke="#d4c971" stroke-opacity="0.50" stroke-width="1.2"/><line x1="218.7" y1="225.4" x2="225.3" y2="240.8" stroke="#fafae4" stroke-opacity="0.47" stroke-width="1.0"/><line x1="189.8" y1="211.1" x2="170.5" y2="214.2" stroke="#fafae4" stroke-opacity="0.39" stroke-width="1.3"/><line x1="219.5" y1="188.3" x2="225.2" y2="175.1" stroke="#fafae4" stroke-opacity="0.30" stroke-width="1.2"/><line x1="226.9" y1="203.2" x2="248.8" y2="196.6" stroke="#fafae4" stroke-opacity="0.41" stroke-width="1.2"/><line x1="229.3" y1="220.2" x2="243.3" y2="230.0" stroke="#fafae4" stroke-opacity="0.40" stroke-width="0.9"/><line x1="193.5" y1="217.7" x2="180.7" y2="225.1" stroke="#fafae4" stroke-opacity="0.30" stroke-width="0.6"/><line x1="197.2" y1="201.6" x2="170.4" y2="189.0" stroke="#d4c971" stroke-opacity="0.42" stroke-width="1.0"/><line x1="192.5" y1="197.4" x2="176.5" y2="188.5" stroke="#fafae4" stroke-opacity="0.35" stroke-width="1.2"/><line x1="193.8" y1="212.3" x2="176.3" y2="216.8" stroke="#fafae4" stroke-opacity="0.50" stroke-width="1.2"/><line x1="201.9" y1="193.6" x2="190.5" y2="175.8" stroke="#fafae4" stroke-opacity="0.32" stroke-width="1.1"/><line x1="229.0" y1="213.7" x2="249.6" y2="220.4" stroke="#fafae4" stroke-opacity="0.31" stroke-width="1.1"/><line x1="227.0" y1="202.5" x2="245.7" y2="196.1" stroke="#fafae4" stroke-opacity="0.38" stroke-width="0.9"/><line x1="192.1" y1="212.2" x2="165.5" y2="218.1" stroke="#d4c971" stroke-opacity="0.34" stroke-width="0.7"/><line x1="210.1" y1="188.7" x2="209.0" y2="166.5" stroke="#fafae4" stroke-opacity="0.30" stroke-width="1.1"/><line x1="217.7" y1="224.2" x2="227.4" y2="248.2" stroke="#fafae4" stroke-opacity="0.26" stroke-width="1.2"/><line x1="217.1" y1="194.3" x2="226.3" y2="173.2" stroke="#fafae4" stroke-opacity="0.26" stroke-width="1.2"/><line x1="210.2" y1="190.0" x2="209.4" y2="175.2" stroke="#fafae4" stroke-opacity="0.28" stroke-width="0.6"/><line x1="196.1" y1="217.4" x2="175.1" y2="230.7" stroke="#fafae4" stroke-opacity="0.26" stroke-width="1.2"/><line x1="226.4" y1="209.2" x2="255.3" y2="211.3" stroke="#fafae4" stroke-opacity="0.31" stroke-width="1.3"/><line x1="232.0" y1="211.8" x2="255.7" y2="216.2" stroke="#d4c971" stroke-opacity="0.40" stroke-width="0.9"/><line x1="199.8" y1="219.4" x2="183.8" y2="235.7" stroke="#fafae4" stroke-opacity="0.49" stroke-width="1.0"/><line x1="192.4" y1="219.9" x2="176.9" y2="230.1" stroke="#d4c971" stroke-opacity="0.32" stroke-width="0.7"/><line x1="200.8" y1="192.9" x2="189.5" y2="176.5" stroke="#d4c971" stroke-opacity="0.30" stroke-width="1.1"/><line x1="190.7" y1="212.1" x2="166.4" y2="217.2" stroke="#fafae4" stroke-opacity="0.40" stroke-width="0.9"/><line x1="194.5" y1="197.2" x2="183.5" y2="190.3" stroke="#fafae4" stroke-opacity="0.47" stroke-width="0.8"/><line x1="195.4" y1="211.4" x2="169.5" y2="216.9" stroke="#d4c971" stroke-opacity="0.31" stroke-width="0.8"/><line x1="213.0" y1="228.8" x2="214.6" y2="246.7" stroke="#d4c971" stroke-opacity="0.46" stroke-width="1.1"/><line x1="191.5" y1="217.2" x2="172.6" y2="226.3" stroke="#d4c971" stroke-opacity="0.33" stroke-width="1.1"/><line x1="203.8" y1="228.3" x2="199.6" y2="240.0" stroke="#fafae4" stroke-opacity="0.42" stroke-width="0.7"/><line x1="205.9" y1="189.2" x2="199.8" y2="167.0" stroke="#fafae4" stroke-opacity="0.48" stroke-width="0.7"/><line x1="209.4" y1="228.2" x2="207.3" y2="252.8" stroke="#d4c971" stroke-opacity="0.44" stroke-width="1.3"/><line x1="213.4" y1="189.3" x2="215.3" y2="174.6" stroke="#d4c971" stroke-opacity="0.46" stroke-width="0.7"/><line x1="191.0" y1="216.1" x2="167.4" y2="225.8" stroke="#fafae4" stroke-opacity="0.36" stroke-width="1.2"/><line x1="227.8" y1="204.3" x2="248.3" y2="199.9" stroke="#d4c971" stroke-opacity="0.46" stroke-width="0.6"/><line x1="226.3" y1="222.7" x2="234.8" y2="231.4" stroke="#d4c971" stroke-opacity="0.44" stroke-width="1.1"/><line x1="203.7" y1="221.9" x2="193.0" y2="242.3" stroke="#d4c971" stroke-opacity="0.41" stroke-width="0.6"/><line x1="226.4" y1="193.9" x2="239.6" y2="181.9" stroke="#d4c971" stroke-opacity="0.40" stroke-width="1.2"/><line x1="226.7" y1="222.8" x2="236.6" y2="232.6" stroke="#fafae4" stroke-opacity="0.48" stroke-width="0.6"/><ellipse cx="210.9" cy="208.8" rx="47.5" ry="46.4" fill="none" stroke="#c1b15c" stroke-opacity="0.8" stroke-width="2.2"/><ellipse cx="211.0" cy="208.3" rx="16.0" ry="15.6" fill="none" stroke="#ddd68d" stroke-opacity="0.6" stroke-width="1.5"/></g></g></g><text x="150.9" y="148.6" font-size="7.5" fill="#f2f2f2">DT: 6 hours</text><rect x="280.5" y="139" width="130.5" height="129.0" fill="url(#bg1)"/><rect x="280.5" y="139" width="130.5" height="129.0" filter="url(#noise)" opacity="0.2"/><g filter="url(#soft)"><g clip-path="url(#cp7)"><rect x="297.0" y="156.3" width="98.0" height="98.0" fill="url(#g7)"/><g filter="url(#wblur)"><polygon points="359.0,207.1 358.6,209.6 393.8,217.8 394.8,213.0 395.3,208.1" fill="#f8f8e0" fill-opacity="0.34"/><polygon points="358.6,209.6 357.2,212.8 388.4,230.8 391.5,224.5 393.8,217.8" fill="#f8f8e0" fill-opacity="0.40"/><polygon points="357.2,212.8 355.7,214.8 382.7,238.5 385.7,234.8 388.4,230.8" fill="#f8f8e0" fill-opacity="0.27"/><polygon points="355.7,214.8 353.8,216.5 375.6,245.1 379.3,242.0 382.7,238.5" fill="#dcd27f" fill-opacity="0.43"/><polygon points="353.8,216.5 351.6,217.7 367.3,250.1 371.6,247.8 375.6,245.1" fill="#f8f8e0" fill-opacity="0.44"/><polygon points="351.6,217.7 349.3,218.6 358.7,253.3 363.1,251.9 367.3,250.1" fill="#f8f8e0" fill-opacity="0.37"/><polygon points="349.3,218.6 346.1,219.0 346.5,255.0 352.6,254.5 358.7,253.3" fill="#dcd27f" fill-opacity="0.32"/><polygon points="346.1,219.0 343.9,218.8 338.0,254.3 342.2,254.8 346.5,255.0" fill="#dcd27f" fill-opacity="0.47"/><polygon points="343.9,218.8 340.4,217.8 324.8,250.1 331.2,252.7 338.0,254.3" fill="#dcd27f" fill-opacity="0.37"/><polygon points="340.4,217.8 337.7,216.1 314.6,243.6 319.5,247.2 324.8,250.1" fill="#e9e3ad" fill-opacity="0.30"/><polygon points="337.7,216.1 335.0,213.1 304.3,231.9 309.0,238.2 314.6,243.6" fill="#f8f8e0" fill-opacity="0.44"/><polygon points="335.0,213.1 333.8,210.6 299.5,222.0 301.6,227.1 304.3,231.9" fill="#f8f8e0" fill-opacity="0.29"/><polygon points="333.8,210.6 333.2,208.7 297.5,214.4 298.4,218.3 299.5,222.0" fill="#f8f8e0" fill-opacity="0.39"/><polygon points="333.2,208.7 333.1,205.2 296.9,200.7 296.7,207.6 297.5,214.4" fill="#dcd27f" fill-opacity="0.35"/><polygon points="333.1,205.2 333.5,202.8 298.7,191.3 297.5,195.9 296.9,200.7" fill="#f8f8e0" fill-opacity="0.28"/><polygon points="333.5,202.8 334.8,200.0 303.6,179.9 300.8,185.4 298.7,191.3" fill="#dcd27f" fill-opacity="0.34"/><polygon points="334.8,200.0 336.7,197.6 310.8,170.5 306.9,175.0 303.6,179.9" fill="#dcd27f" fill-opacity="0.44"/><polygon points="336.7,197.6 338.3,196.3 316.6,165.4 313.6,167.8 310.8,170.5" fill="#dcd27f" fill-opacity="0.33"/><polygon points="338.3,196.3 340.7,194.9 325.8,160.0 321.1,162.4 316.6,165.4" fill="#f8f8e0" fill-opacity="0.45"/><polygon points="340.7,194.9 342.7,194.2 333.4,157.3 329.5,158.5 325.8,160.0" fill="#e9e3ad" fill-opacity="0.30"/><polygon points="342.7,194.2 345.5,193.8 343.9,155.7 338.6,156.2 333.4,157.3" fill="#f8f8e0" fill-opacity="0.29"/><polygon points="345.5,193.8 348.6,194.1 355.9,156.6 349.9,155.8 343.9,155.7" fill="#f8f8e0" fill-opacity="0.34"/><polygon points="348.6,194.1 351.7,195.1 367.5,160.6 361.8,158.2 355.9,156.6" fill="#dcd27f" fill-opacity="0.32"/><polygon points="351.7,195.1 355.1,197.4 380.4,169.7 374.3,164.6 367.5,160.6" fill="#dcd27f" fill-opacity="0.29"/><polygon points="355.1,197.4 357.6,200.8 390.1,183.1 385.8,176.0 380.4,169.7" fill="#dcd27f" fill-opacity="0.38"/><polygon points="357.6,200.8 358.8,204.0 394.4,195.8 392.7,189.3 390.1,183.1" fill="#e9e3ad" fill-opacity="0.30"/><polygon points="358.8,204.0 359.0,207.1 395.3,208.1 395.2,201.9 394.4,195.8" fill="#f8f8e0" fill-opacity="0.28"/></g><g filter="url(#sblur)"><line x1="365.7" y1="207.5" x2="391.0" y2="207.9" stroke="#bcaa54" stroke-opacity="0.58" stroke-width="0.9"/><line x1="368.9" y1="212.2" x2="383.7" y2="215.2" stroke="#bcaa54" stroke-opacity="0.58" stroke-width="0.9"/><line x1="361.3" y1="215.2" x2="380.0" y2="225.7" stroke="#bcaa54" stroke-opacity="0.58" stroke-width="0.7"/><line x1="355.3" y1="218.4" x2="370.9" y2="238.8" stroke="#bcaa54" stroke-opacity="0.58" stroke-width="0.9"/><line x1="354.5" y1="223.6" x2="362.6" y2="240.2" stroke="#bcaa54" stroke-opacity="0.58" stroke-width="1.0"/><line x1="351.6" y1="226.7" x2="356.3" y2="244.3" stroke="#bcaa54" stroke-opacity="0.58" stroke-width="1.1"/><line x1="346.2" y1="226.4" x2="346.4" y2="249.6" stroke="#bcaa54" stroke-opacity="0.58" stroke-width="1.0"/><line x1="343.3" y1="222.2" x2="339.0" y2="248.1" stroke="#bcaa54" stroke-opacity="0.58" stroke-width="0.7"/><line x1="331.1" y1="223.8" x2="320.5" y2="236.4" stroke="#bcaa54" stroke-opacity="0.58" stroke-width="1.1"/><line x1="332.4" y1="214.7" x2="315.9" y2="224.5" stroke="#bcaa54" stroke-opacity="0.58" stroke-width="1.1"/><line x1="330.7" y1="211.7" x2="304.6" y2="220.2" stroke="#bcaa54" stroke-opacity="0.58" stroke-width="0.9"/><line x1="326.3" y1="210.0" x2="310.8" y2="211.9" stroke="#bcaa54" stroke-opacity="0.58" stroke-width="0.6"/><line x1="328.7" y1="204.8" x2="311.3" y2="202.0" stroke="#bcaa54" stroke-opacity="0.58" stroke-width="0.7"/><line x1="327.1" y1="201.0" x2="303.6" y2="192.7" stroke="#bcaa54" stroke-opacity="0.58" stroke-width="0.9"/><line x1="332.4" y1="193.5" x2="315.4" y2="175.1" stroke="#bcaa54" stroke-opacity="0.58" stroke-width="0.9"/><line x1="333.2" y1="189.6" x2="322.5" y2="173.3" stroke="#bcaa54" stroke-opacity="0.58" stroke-width="0.8"/><line x1="337.6" y1="188.4" x2="331.0" y2="171.6" stroke="#bcaa54" stroke-opacity="0.58" stroke-width="0.8"/><line x1="349.3" y1="190.9" x2="354.6" y2="163.1" stroke="#bcaa54" stroke-opacity="0.58" stroke-width="0.8"/><line x1="356.4" y1="185.5" x2="363.8" y2="168.2" stroke="#bcaa54" stroke-opacity="0.58" stroke-width="0.7"/><line x1="361.9" y1="198.7" x2="376.7" y2="189.8" stroke="#bcaa54" stroke-opacity="0.58" stroke-width="0.9"/><line x1="361.5" y1="203.5" x2="383.3" y2="198.0" stroke="#bcaa54" stroke-opacity="0.58" stroke-width="0.9"/><line x1="360.8" y1="212.8" x2="381.7" y2="221.4" stroke="#d3c76c" stroke-opacity="0.35" stroke-width="0.8"/><line x1="340.5" y1="223.7" x2="334.8" y2="241.9" stroke="#fafae4" stroke-opacity="0.28" stroke-width="0.9"/><line x1="353.0" y1="219.6" x2="360.8" y2="234.4" stroke="#d3c76c" stroke-opacity="0.35" stroke-width="0.6"/><line x1="340.9" y1="187.2" x2="335.7" y2="165.1" stroke="#d3c76c" stroke-opacity="0.50" stroke-width="0.8"/><line x1="337.4" y1="191.5" x2="325.0" y2="167.2" stroke="#d3c76c" stroke-opacity="0.50" stroke-width="0.9"/><line x1="357.8" y1="216.6" x2="378.0" y2="234.3" stroke="#d3c76c" stroke-opacity="0.39" stroke-width="0.8"/><line x1="354.0" y1="189.3" x2="363.6" y2="166.1" stroke="#d3c76c" stroke-opacity="0.51" stroke-width="0.9"/><line x1="350.2" y1="224.8" x2="354.1" y2="242.8" stroke="#d3c76c" stroke-opacity="0.47" stroke-width="1.3"/><line x1="347.4" y1="191.5" x2="349.8" y2="163.7" stroke="#fafae4" stroke-opacity="0.35" stroke-width="1.0"/><line x1="341.7" y1="186.1" x2="338.0" y2="165.8" stroke="#fafae4" stroke-opacity="0.30" stroke-width="1.2"/><line x1="361.8" y1="216.1" x2="382.7" y2="228.9" stroke="#d3c76c" stroke-opacity="0.42" stroke-width="1.3"/><line x1="343.8" y1="192.1" x2="339.6" y2="161.5" stroke="#fafae4" stroke-opacity="0.31" stroke-width="1.3"/><line x1="354.1" y1="221.9" x2="365.7" y2="244.4" stroke="#fafae4" stroke-opacity="0.33" stroke-width="0.7"/><line x1="357.9" y1="193.1" x2="368.3" y2="179.4" stroke="#d3c76c" stroke-opacity="0.37" stroke-width="1.2"/><line x1="338.9" y1="190.8" x2="329.1" y2="166.7" stroke="#fafae4" stroke-opacity="0.43" stroke-width="0.7"/><line x1="331.5" y1="195.1" x2="316.4" y2="181.2" stroke="#d3c76c" stroke-opacity="0.46" stroke-width="0.7"/><line x1="353.0" y1="191.8" x2="364.3" y2="165.4" stroke="#d3c76c" stroke-opacity="0.35" stroke-width="0.9"/><line x1="365.3" y1="212.3" x2="385.0" y2="217.6" stroke="#fafae4" stroke-opacity="0.48" stroke-width="0.8"/><line x1="351.7" y1="226.2" x2="357.6" y2="247.3" stroke="#fafae4" stroke-opacity="0.48" stroke-width="1.3"/><line x1="353.6" y1="190.5" x2="362.9" y2="168.6" stroke="#fafae4" stroke-opacity="0.41" stroke-width="1.3"/><line x1="348.0" y1="190.7" x2="351.1" y2="164.1" stroke="#d3c76c" stroke-opacity="0.35" stroke-width="1.3"/><line x1="358.8" y1="214.4" x2="376.3" y2="225.0" stroke="#fafae4" stroke-opacity="0.40" stroke-width="1.3"/><line x1="355.0" y1="189.2" x2="364.7" y2="168.3" stroke="#d3c76c" stroke-opacity="0.33" stroke-width="1.1"/><line x1="328.5" y1="199.0" x2="309.5" y2="189.2" stroke="#fafae4" stroke-opacity="0.39" stroke-width="1.2"/><line x1="362.6" y1="215.0" x2="384.7" y2="226.1" stroke="#fafae4" stroke-opacity="0.37" stroke-width="1.0"/><line x1="352.1" y1="190.4" x2="361.2" y2="164.1" stroke="#fafae4" stroke-opacity="0.50" stroke-width="1.1"/><line x1="330.1" y1="217.9" x2="311.8" y2="231.1" stroke="#d3c76c" stroke-opacity="0.46" stroke-width="1.1"/><line x1="365.5" y1="200.5" x2="384.5" y2="193.2" stroke="#d3c76c" stroke-opacity="0.38" stroke-width="0.8"/><line x1="333.6" y1="196.4" x2="313.1" y2="177.9" stroke="#fafae4" stroke-opacity="0.35" stroke-width="1.0"/><line x1="336.5" y1="192.9" x2="325.8" y2="175.7" stroke="#d3c76c" stroke-opacity="0.49" stroke-width="1.3"/><line x1="329.5" y1="204.8" x2="306.3" y2="201.2" stroke="#d3c76c" stroke-opacity="0.43" stroke-width="0.6"/><line x1="333.8" y1="219.3" x2="323.2" y2="230.5" stroke="#d3c76c" stroke-opacity="0.40" stroke-width="1.0"/><line x1="354.7" y1="220.7" x2="362.8" y2="234.1" stroke="#d3c76c" stroke-opacity="0.48" stroke-width="0.6"/><line x1="360.7" y1="212.0" x2="379.6" y2="218.7" stroke="#d3c76c" stroke-opacity="0.49" stroke-width="1.3"/><line x1="330.4" y1="205.8" x2="301.8" y2="203.5" stroke="#d3c76c" stroke-opacity="0.43" stroke-width="0.8"/><line x1="353.9" y1="221.6" x2="363.2" y2="239.5" stroke="#fafae4" stroke-opacity="0.33" stroke-width="0.7"/><line x1="338.7" y1="220.4" x2="329.4" y2="238.6" stroke="#d3c76c" stroke-opacity="0.42" stroke-width="1.0"/><line x1="327.0" y1="211.5" x2="313.9" y2="214.3" stroke="#d3c76c" stroke-opacity="0.43" stroke-width="1.0"/><line x1="358.4" y1="193.2" x2="373.2" y2="175.3" stroke="#fafae4" stroke-opacity="0.33" stroke-width="1.2"/><line x1="361.1" y1="208.1" x2="380.2" y2="209.4" stroke="#d3c76c" stroke-opacity="0.40" stroke-width="1.3"/><line x1="345.1" y1="220.8" x2="343.3" y2="247.7" stroke="#fafae4" stroke-opacity="0.28" stroke-width="0.8"/><line x1="333.9" y1="189.9" x2="323.8" y2="173.9" stroke="#d3c76c" stroke-opacity="0.33" stroke-width="0.8"/><line x1="342.1" y1="192.2" x2="336.8" y2="170.0" stroke="#fafae4" stroke-opacity="0.43" stroke-width="1.0"/><line x1="339.1" y1="191.4" x2="330.0" y2="168.9" stroke="#d3c76c" stroke-opacity="0.41" stroke-width="0.7"/><line x1="364.5" y1="214.9" x2="382.7" y2="222.8" stroke="#d3c76c" stroke-opacity="0.45" stroke-width="0.9"/><line x1="366.3" y1="211.5" x2="380.7" y2="214.3" stroke="#d3c76c" stroke-opacity="0.35" stroke-width="1.2"/><line x1="331.0" y1="202.8" x2="311.6" y2="196.8" stroke="#d3c76c" stroke-opacity="0.51" stroke-width="0.9"/><line x1="331.5" y1="192.7" x2="323.1" y2="182.8" stroke="#fafae4" stroke-opacity="0.31" stroke-width="1.1"/><line x1="346.5" y1="186.2" x2="347.0" y2="167.9" stroke="#d3c76c" stroke-opacity="0.35" stroke-width="1.2"/><line x1="358.4" y1="191.5" x2="371.0" y2="174.0" stroke="#d3c76c" stroke-opacity="0.48" stroke-width="0.6"/><line x1="354.4" y1="193.0" x2="364.8" y2="174.0" stroke="#d3c76c" stroke-opacity="0.47" stroke-width="1.2"/><line x1="363.1" y1="210.1" x2="378.9" y2="212.7" stroke="#d3c76c" stroke-opacity="0.34" stroke-width="1.0"/><line x1="337.1" y1="192.6" x2="324.3" y2="170.4" stroke="#d3c76c" stroke-opacity="0.51" stroke-width="1.1"/><line x1="328.6" y1="200.7" x2="315.6" y2="194.9" stroke="#fafae4" stroke-opacity="0.46" stroke-width="0.9"/><line x1="332.6" y1="200.6" x2="310.6" y2="189.4" stroke="#d3c76c" stroke-opacity="0.41" stroke-width="0.7"/><line x1="332.9" y1="215.6" x2="312.8" y2="229.5" stroke="#d3c76c" stroke-opacity="0.41" stroke-width="1.0"/><line x1="357.8" y1="189.6" x2="368.4" y2="172.0" stroke="#d3c76c" stroke-opacity="0.42" stroke-width="0.9"/><line x1="358.4" y1="189.6" x2="366.3" y2="176.6" stroke="#fafae4" stroke-opacity="0.35" stroke-width="1.0"/><line x1="341.7" y1="189.2" x2="335.5" y2="161.7" stroke="#d3c76c" stroke-opacity="0.36" stroke-width="0.8"/><line x1="347.0" y1="222.7" x2="348.3" y2="243.0" stroke="#fafae4" stroke-opacity="0.25" stroke-width="0.9"/><line x1="363.5" y1="197.0" x2="378.7" y2="187.1" stroke="#d3c76c" stroke-opacity="0.47" stroke-width="1.0"/><line x1="335.3" y1="195.3" x2="320.0" y2="177.1" stroke="#d3c76c" stroke-opacity="0.40" stroke-width="0.7"/><line x1="361.8" y1="201.1" x2="384.5" y2="192.0" stroke="#d3c76c" stroke-opacity="0.32" stroke-width="1.1"/><line x1="364.7" y1="198.3" x2="378.1" y2="190.8" stroke="#fafae4" stroke-opacity="0.40" stroke-width="1.0"/><line x1="337.2" y1="222.2" x2="324.9" y2="244.8" stroke="#fafae4" stroke-opacity="0.44" stroke-width="1.3"/><line x1="358.5" y1="195.6" x2="377.2" y2="177.3" stroke="#d3c76c" stroke-opacity="0.35" stroke-width="1.2"/><line x1="366.2" y1="209.3" x2="389.3" y2="211.7" stroke="#fafae4" stroke-opacity="0.50" stroke-width="0.8"/><line x1="349.4" y1="223.5" x2="352.1" y2="236.9" stroke="#fafae4" stroke-opacity="0.35" stroke-width="0.8"/><line x1="337.1" y1="221.8" x2="329.9" y2="234.3" stroke="#d3c76c" stroke-opacity="0.46" stroke-width="1.0"/><line x1="362.5" y1="214.3" x2="383.4" y2="223.9" stroke="#fafae4" stroke-opacity="0.39" stroke-width="1.2"/><ellipse cx="346.0" cy="205.3" rx="45.7" ry="46.0" fill="none" stroke="#bfac57" stroke-opacity="0.8" stroke-width="2.2"/><ellipse cx="346.0" cy="206.4" rx="15.3" ry="14.8" fill="none" stroke="#ddd48c" stroke-opacity="0.6" stroke-width="1.5"/></g></g></g><text x="284.8" y="148.3" font-size="7.5" fill="#f2f2f2">DT: 7 hours</text><rect x="414" y="139" width="130.0" height="129.0" fill="url(#bg1)"/><rect x="414" y="139" width="130.0" height="129.0" filter="url(#noise)" opacity="0.2"/><g filter="url(#soft)"><g clip-path="url(#cp8)"><rect x="434.4" y="160.9" width="95.4" height="95.4" fill="url(#g8)"/><g filter="url(#wblur)"><polygon points="494.7,208.5 494.5,210.0 529.4,218.3 529.9,215.3 530.2,212.2" fill="#f8f8e0" fill-opacity="0.31"/><polygon points="494.5,210.0 494.1,211.4 527.9,223.9 528.7,221.2 529.4,218.3" fill="#f8f8e0" fill-opacity="0.27"/><polygon points="494.1,211.4 492.7,214.0 522.6,234.8 525.6,229.5 527.9,223.9" fill="#f8f8e0" fill-opacity="0.47"/><polygon points="492.7,214.0 490.7,216.3 514.7,244.1 519.0,239.7 522.6,234.8" fill="#dcd07c" fill-opacity="0.31"/><polygon points="490.7,216.3 488.0,218.1 504.4,251.3 509.8,248.0 514.7,244.1" fill="#f8f8e0" fill-opacity="0.40"/><polygon points="488.0,218.1 486.6,218.7 498.7,253.8 501.6,252.7 504.4,251.3" fill="#dcd07c" fill-opacity="0.29"/><polygon points="486.6,218.7 483.7,219.3 487.5,256.5 493.2,255.5 498.7,253.8" fill="#f8f8e0" fill-opacity="0.39"/><polygon points="483.7,219.3 481.9,219.4 480.5,256.7 484.0,256.7 487.5,256.5" fill="#dcd07c" fill-opacity="0.30"/><polygon points="481.9,219.4 479.8,219.2 472.2,255.7 476.3,256.4 480.5,256.7" fill="#dcd07c" fill-opacity="0.34"/><polygon points="479.8,219.2 478.0,218.7 465.2,253.7 468.7,254.9 472.2,255.7" fill="#dcd07c" fill-opacity="0.39"/><polygon points="478.0,218.7 475.2,217.3 454.4,248.1 459.7,251.2 465.2,253.7" fill="#f8f8e0" fill-opacity="0.49"/><polygon points="475.2,217.3 472.9,215.3 445.6,240.1 449.8,244.4 454.4,248.1" fill="#f8f8e0" fill-opacity="0.36"/><polygon points="472.9,215.3 471.2,212.9 438.9,230.1 441.9,235.3 445.6,240.1" fill="#dcd07c" fill-opacity="0.46"/><polygon points="471.2,212.9 470.4,210.9 435.8,222.1 437.2,226.2 438.9,230.1" fill="#e8e2aa" fill-opacity="0.30"/><polygon points="470.4,210.9 469.9,207.8 433.8,209.5 434.4,215.9 435.8,222.1" fill="#dcd07c" fill-opacity="0.40"/><polygon points="469.9,207.8 470.0,206.0 434.3,201.9 433.9,205.7 433.8,209.5" fill="#dcd07c" fill-opacity="0.42"/><polygon points="470.0,206.0 470.6,203.6 436.7,192.1 435.3,196.9 434.3,201.9" fill="#e8e2aa" fill-opacity="0.30"/><polygon points="470.6,203.6 471.9,201.2 441.5,182.5 438.9,187.2 436.7,192.1" fill="#e8e2aa" fill-opacity="0.30"/><polygon points="471.9,201.2 473.0,199.7 446.1,176.5 443.7,179.4 441.5,182.5" fill="#dcd07c" fill-opacity="0.33"/><polygon points="473.0,199.7 474.7,198.3 452.3,170.7 449.1,173.5 446.1,176.5" fill="#dcd07c" fill-opacity="0.38"/><polygon points="474.7,198.3 476.0,197.4 457.7,167.0 455.0,168.8 452.3,170.7" fill="#f8f8e0" fill-opacity="0.45"/><polygon points="476.0,197.4 478.8,196.3 468.5,162.4 462.9,164.4 457.7,167.0" fill="#f8f8e0" fill-opacity="0.43"/><polygon points="478.8,196.3 480.6,195.9 475.4,160.9 471.9,161.5 468.5,162.4" fill="#dcd07c" fill-opacity="0.37"/><polygon points="480.6,195.9 482.3,195.8 482.1,160.4 478.8,160.5 475.4,160.9" fill="#dcd07c" fill-opacity="0.43"/><polygon points="482.3,195.8 484.3,195.9 489.9,161.1 486.0,160.6 482.1,160.4" fill="#e8e2aa" fill-opacity="0.30"/><polygon points="484.3,195.9 486.9,196.6 500.1,163.9 495.1,162.2 489.9,161.1" fill="#e8e2aa" fill-opacity="0.30"/><polygon points="486.9,196.6 489.3,197.9 509.4,168.9 504.9,166.1 500.1,163.9" fill="#dcd07c" fill-opacity="0.34"/><polygon points="489.3,197.9 491.2,199.4 516.8,175.1 513.2,171.8 509.4,168.9" fill="#dcd07c" fill-opacity="0.39"/><polygon points="491.2,199.4 493.1,201.8 524.1,184.8 520.7,179.7 516.8,175.1" fill="#e8e2aa" fill-opacity="0.30"/><polygon points="493.1,201.8 494.2,204.3 528.5,195.3 526.6,189.9 524.1,184.8" fill="#dcd07c" fill-opacity="0.36"/><polygon points="494.2,204.3 494.6,206.1 530.0,202.4 529.4,198.8 528.5,195.3" fill="#f8f8e0" fill-opacity="0.37"/><polygon points="494.6,206.1 494.7,208.5 530.2,212.2 530.4,207.3 530.0,202.4" fill="#dcd07c" fill-opacity="0.35"/></g><g filter="url(#sblur)"><line x1="501.1" y1="208.9" x2="516.3" y2="211.1" stroke="#baa54e" stroke-opacity="0.62" stroke-width="0.7"/><line x1="499.6" y1="211.0" x2="520.4" y2="216.5" stroke="#baa54e" stroke-opacity="0.62" stroke-width="0.9"/><line x1="497.2" y1="212.4" x2="514.1" y2="219.3" stroke="#baa54e" stroke-opacity="0.62" stroke-width="0.9"/><line x1="494.2" y1="220.0" x2="507.2" y2="235.9" stroke="#baa54e" stroke-opacity="0.62" stroke-width="1.0"/><line x1="492.3" y1="225.8" x2="497.6" y2="238.3" stroke="#baa54e" stroke-opacity="0.62" stroke-width="0.7"/><line x1="488.4" y1="223.5" x2="495.2" y2="244.2" stroke="#baa54e" stroke-opacity="0.62" stroke-width="0.8"/><line x1="481.6" y1="226.3" x2="480.6" y2="252.8" stroke="#baa54e" stroke-opacity="0.62" stroke-width="0.9"/><line x1="473.7" y1="219.2" x2="456.7" y2="244.8" stroke="#baa54e" stroke-opacity="0.62" stroke-width="0.9"/><line x1="463.4" y1="216.6" x2="448.4" y2="225.4" stroke="#baa54e" stroke-opacity="0.62" stroke-width="0.9"/><line x1="460.6" y1="213.7" x2="446.0" y2="219.2" stroke="#baa54e" stroke-opacity="0.62" stroke-width="0.7"/><line x1="465.5" y1="205.3" x2="443.5" y2="203.2" stroke="#baa54e" stroke-opacity="0.62" stroke-width="1.1"/><line x1="466.8" y1="202.3" x2="442.2" y2="194.1" stroke="#baa54e" stroke-opacity="0.62" stroke-width="0.6"/><line x1="464.3" y1="196.5" x2="447.2" y2="186.2" stroke="#baa54e" stroke-opacity="0.62" stroke-width="1.0"/><line x1="465.6" y1="193.4" x2="454.1" y2="183.7" stroke="#baa54e" stroke-opacity="0.62" stroke-width="1.0"/><line x1="468.5" y1="190.8" x2="458.1" y2="178.1" stroke="#baa54e" stroke-opacity="0.62" stroke-width="0.7"/><line x1="472.7" y1="192.0" x2="464.9" y2="179.3" stroke="#baa54e" stroke-opacity="0.62" stroke-width="0.7"/><line x1="485.3" y1="189.9" x2="488.4" y2="170.4" stroke="#baa54e" stroke-opacity="0.62" stroke-width="0.7"/><line x1="490.8" y1="187.6" x2="497.6" y2="170.1" stroke="#baa54e" stroke-opacity="0.62" stroke-width="0.9"/><line x1="504.4" y1="204.9" x2="517.2" y2="204.1" stroke="#baa54e" stroke-opacity="0.62" stroke-width="0.7"/><line x1="493.5" y1="220.0" x2="507.6" y2="238.2" stroke="#fafae4" stroke-opacity="0.37" stroke-width="0.7"/><line x1="478.8" y1="191.4" x2="475.0" y2="174.0" stroke="#d3c467" stroke-opacity="0.52" stroke-width="1.2"/><line x1="496.6" y1="206.3" x2="518.4" y2="205.2" stroke="#fafae4" stroke-opacity="0.31" stroke-width="1.1"/><line x1="494.5" y1="199.7" x2="513.6" y2="187.2" stroke="#d3c467" stroke-opacity="0.51" stroke-width="0.9"/><line x1="495.6" y1="217.4" x2="512.4" y2="231.9" stroke="#d3c467" stroke-opacity="0.37" stroke-width="0.8"/><line x1="496.2" y1="206.3" x2="521.4" y2="204.8" stroke="#fafae4" stroke-opacity="0.44" stroke-width="0.9"/><line x1="496.0" y1="201.0" x2="520.5" y2="189.2" stroke="#fafae4" stroke-opacity="0.26" stroke-width="0.7"/><line x1="496.9" y1="214.8" x2="521.5" y2="229.0" stroke="#fafae4" stroke-opacity="0.43" stroke-width="0.6"/><line x1="465.0" y1="206.0" x2="449.7" y2="205.4" stroke="#d3c467" stroke-opacity="0.42" stroke-width="0.8"/><line x1="491.2" y1="192.3" x2="498.0" y2="179.9" stroke="#fafae4" stroke-opacity="0.26" stroke-width="0.8"/><line x1="469.1" y1="193.0" x2="453.1" y2="175.2" stroke="#d3c467" stroke-opacity="0.36" stroke-width="1.2"/><line x1="483.6" y1="191.5" x2="485.5" y2="164.2" stroke="#d3c467" stroke-opacity="0.36" stroke-width="0.8"/><line x1="494.6" y1="220.0" x2="509.3" y2="237.4" stroke="#d3c467" stroke-opacity="0.34" stroke-width="0.6"/><line x1="497.7" y1="205.1" x2="516.4" y2="202.7" stroke="#d3c467" stroke-opacity="0.36" stroke-width="1.2"/><line x1="496.3" y1="197.5" x2="513.5" y2="184.8" stroke="#fafae4" stroke-opacity="0.40" stroke-width="1.0"/><line x1="484.6" y1="191.3" x2="486.4" y2="176.1" stroke="#fafae4" stroke-opacity="0.41" stroke-width="0.7"/><line x1="494.5" y1="216.8" x2="515.0" y2="234.6" stroke="#d3c467" stroke-opacity="0.40" stroke-width="1.3"/><line x1="468.8" y1="200.4" x2="448.2" y2="189.7" stroke="#d3c467" stroke-opacity="0.41" stroke-width="0.9"/><line x1="464.3" y1="198.5" x2="446.9" y2="190.0" stroke="#fafae4" stroke-opacity="0.40" stroke-width="0.8"/><line x1="464.0" y1="210.5" x2="451.0" y2="213.8" stroke="#d3c467" stroke-opacity="0.40" stroke-width="1.0"/><line x1="489.6" y1="193.0" x2="499.2" y2="172.8" stroke="#fafae4" stroke-opacity="0.31" stroke-width="1.0"/><line x1="467.3" y1="204.6" x2="441.4" y2="200.2" stroke="#fafae4" stroke-opacity="0.34" stroke-width="0.8"/><line x1="492.6" y1="191.5" x2="504.9" y2="171.2" stroke="#fafae4" stroke-opacity="0.27" stroke-width="1.0"/><line x1="501.6" y1="210.5" x2="522.0" y2="214.8" stroke="#fafae4" stroke-opacity="0.36" stroke-width="1.1"/><line x1="491.0" y1="220.7" x2="504.5" y2="243.9" stroke="#d3c467" stroke-opacity="0.45" stroke-width="0.7"/><line x1="485.5" y1="222.1" x2="488.6" y2="239.6" stroke="#d3c467" stroke-opacity="0.45" stroke-width="1.2"/><line x1="463.5" y1="201.2" x2="446.7" y2="196.0" stroke="#d3c467" stroke-opacity="0.39" stroke-width="0.9"/><line x1="498.0" y1="201.3" x2="511.0" y2="196.5" stroke="#fafae4" stroke-opacity="0.30" stroke-width="1.0"/><line x1="465.3" y1="206.7" x2="438.5" y2="206.1" stroke="#d3c467" stroke-opacity="0.35" stroke-width="0.6"/><line x1="476.9" y1="191.5" x2="469.9" y2="170.5" stroke="#d3c467" stroke-opacity="0.34" stroke-width="0.9"/><line x1="491.4" y1="193.0" x2="498.4" y2="181.3" stroke="#fafae4" stroke-opacity="0.48" stroke-width="1.0"/><line x1="491.8" y1="222.7" x2="504.5" y2="246.1" stroke="#d3c467" stroke-opacity="0.46" stroke-width="1.2"/><line x1="496.7" y1="216.0" x2="518.0" y2="230.6" stroke="#fafae4" stroke-opacity="0.29" stroke-width="1.2"/><line x1="478.4" y1="194.9" x2="473.1" y2="177.8" stroke="#d3c467" stroke-opacity="0.52" stroke-width="1.0"/><line x1="492.7" y1="197.9" x2="509.9" y2="181.3" stroke="#fafae4" stroke-opacity="0.33" stroke-width="0.7"/><line x1="468.5" y1="210.6" x2="443.0" y2="217.6" stroke="#d3c467" stroke-opacity="0.51" stroke-width="1.1"/><line x1="499.7" y1="216.1" x2="516.4" y2="226.2" stroke="#d3c467" stroke-opacity="0.43" stroke-width="0.7"/><line x1="478.0" y1="193.9" x2="469.4" y2="166.0" stroke="#d3c467" stroke-opacity="0.51" stroke-width="0.9"/><line x1="473.9" y1="223.0" x2="463.2" y2="244.7" stroke="#fafae4" stroke-opacity="0.32" stroke-width="0.9"/><line x1="478.9" y1="193.3" x2="474.8" y2="176.1" stroke="#fafae4" stroke-opacity="0.41" stroke-width="0.6"/><line x1="479.6" y1="226.7" x2="477.4" y2="243.1" stroke="#d3c467" stroke-opacity="0.39" stroke-width="0.7"/><line x1="462.8" y1="209.2" x2="440.5" y2="212.2" stroke="#fafae4" stroke-opacity="0.43" stroke-width="1.0"/><line x1="464.2" y1="209.5" x2="444.0" y2="212.8" stroke="#fafae4" stroke-opacity="0.42" stroke-width="0.7"/><line x1="475.1" y1="224.8" x2="467.8" y2="244.7" stroke="#d3c467" stroke-opacity="0.48" stroke-width="0.9"/><line x1="469.2" y1="218.7" x2="458.5" y2="229.6" stroke="#fafae4" stroke-opacity="0.26" stroke-width="1.3"/><line x1="497.5" y1="198.1" x2="510.1" y2="190.4" stroke="#d3c467" stroke-opacity="0.39" stroke-width="1.2"/><line x1="471.9" y1="193.8" x2="458.1" y2="175.2" stroke="#fafae4" stroke-opacity="0.46" stroke-width="1.0"/><line x1="483.2" y1="189.2" x2="483.6" y2="174.0" stroke="#fafae4" stroke-opacity="0.34" stroke-width="0.7"/><line x1="495.3" y1="195.3" x2="509.0" y2="182.0" stroke="#d3c467" stroke-opacity="0.51" stroke-width="0.6"/><line x1="470.8" y1="221.2" x2="458.0" y2="238.5" stroke="#fafae4" stroke-opacity="0.31" stroke-width="0.8"/><line x1="474.6" y1="194.1" x2="461.0" y2="170.2" stroke="#d3c467" stroke-opacity="0.53" stroke-width="0.8"/><line x1="467.8" y1="206.3" x2="446.1" y2="205.3" stroke="#fafae4" stroke-opacity="0.38" stroke-width="1.3"/><line x1="483.6" y1="192.2" x2="484.8" y2="173.8" stroke="#d3c467" stroke-opacity="0.34" stroke-width="1.2"/><line x1="491.1" y1="196.9" x2="509.3" y2="174.0" stroke="#d3c467" stroke-opacity="0.41" stroke-width="0.9"/><line x1="468.8" y1="197.2" x2="448.8" y2="181.6" stroke="#d3c467" stroke-opacity="0.40" stroke-width="0.6"/><line x1="485.5" y1="190.6" x2="489.3" y2="169.3" stroke="#fafae4" stroke-opacity="0.27" stroke-width="1.2"/><line x1="471.2" y1="219.8" x2="453.0" y2="242.0" stroke="#fafae4" stroke-opacity="0.41" stroke-width="0.6"/><line x1="464.9" y1="200.9" x2="451.1" y2="196.1" stroke="#d3c467" stroke-opacity="0.53" stroke-width="1.2"/><line x1="487.4" y1="189.1" x2="492.4" y2="169.1" stroke="#d3c467" stroke-opacity="0.50" stroke-width="1.2"/><line x1="469.7" y1="195.0" x2="458.9" y2="184.2" stroke="#fafae4" stroke-opacity="0.33" stroke-width="1.2"/><line x1="485.4" y1="192.9" x2="490.9" y2="164.9" stroke="#fafae4" stroke-opacity="0.27" stroke-width="0.8"/><line x1="500.1" y1="216.5" x2="514.0" y2="225.4" stroke="#fafae4" stroke-opacity="0.46" stroke-width="1.0"/><line x1="470.9" y1="195.9" x2="456.5" y2="181.3" stroke="#d3c467" stroke-opacity="0.39" stroke-width="1.0"/><line x1="467.6" y1="209.5" x2="449.1" y2="213.1" stroke="#d3c467" stroke-opacity="0.49" stroke-width="0.9"/><line x1="501.0" y1="214.5" x2="513.0" y2="220.6" stroke="#d3c467" stroke-opacity="0.34" stroke-width="1.1"/><line x1="491.8" y1="219.4" x2="504.5" y2="237.9" stroke="#d3c467" stroke-opacity="0.42" stroke-width="0.9"/><line x1="468.2" y1="217.1" x2="453.4" y2="228.7" stroke="#d3c467" stroke-opacity="0.37" stroke-width="0.7"/><line x1="466.9" y1="203.0" x2="443.0" y2="196.3" stroke="#fafae4" stroke-opacity="0.42" stroke-width="0.9"/><line x1="496.5" y1="200.9" x2="515.4" y2="192.3" stroke="#fafae4" stroke-opacity="0.38" stroke-width="0.8"/><line x1="474.3" y1="193.8" x2="462.4" y2="173.0" stroke="#fafae4" stroke-opacity="0.36" stroke-width="1.0"/><ellipse cx="482.1" cy="208.6" rx="44.7" ry="44.6" fill="none" stroke="#bca751" stroke-opacity="0.8" stroke-width="2.2"/><ellipse cx="482.3" cy="207.6" rx="14.6" ry="13.9" fill="none" stroke="#dcd28a" stroke-opacity="0.6" stroke-width="1.5"/></g></g></g><text x="418.8" y="148.2" font-size="7.5" fill="#f2f2f2">DT: 8 hours</text><rect x="547" y="139" width="130.0" height="129.0" fill="url(#bg1)"/><rect x="547" y="139" width="130.0" height="129.0" filter="url(#noise)" opacity="0.2"/><g filter="url(#soft)"><g clip-path="url(#cp9)"><rect x="570.2" y="165.8" width="96.2" height="96.2" fill="url(#g9)"/><g filter="url(#wblur)"><polygon points="630.3,214.5 629.7,217.9 662.1,229.6 663.8,223.1 664.6,216.4" fill="#e8e0a8" fill-opacity="0.30"/><polygon points="629.7,217.9 628.2,220.9 656.3,241.7 659.6,235.9 662.1,229.6" fill="#dccf78" fill-opacity="0.45"/><polygon points="628.2,220.9 627.0,222.4 651.6,247.7 654.1,244.8 656.3,241.7" fill="#dccf78" fill-opacity="0.41"/><polygon points="627.0,222.4 624.4,224.5 641.6,256.0 646.9,252.2 651.6,247.7" fill="#dccf78" fill-opacity="0.33"/><polygon points="624.4,224.5 622.5,225.4 634.1,259.7 637.9,258.0 641.6,256.0" fill="#dccf78" fill-opacity="0.33"/><polygon points="622.5,225.4 620.8,225.9 627.5,261.6 630.8,260.8 634.1,259.7" fill="#f8f8e0" fill-opacity="0.28"/><polygon points="620.8,225.9 619.3,226.1 621.4,262.5 624.4,262.2 627.5,261.6" fill="#f8f8e0" fill-opacity="0.26"/><polygon points="619.3,226.1 616.6,226.0 611.0,262.0 616.2,262.6 621.4,262.5" fill="#e8e0a8" fill-opacity="0.30"/><polygon points="616.6,226.0 614.0,225.2 600.7,259.0 605.8,260.8 611.0,262.0" fill="#f8f8e0" fill-opacity="0.26"/><polygon points="614.0,225.2 611.3,223.6 590.0,252.4 595.1,256.1 600.7,259.0" fill="#dccf78" fill-opacity="0.34"/><polygon points="611.3,223.6 608.8,220.9 580.2,241.6 584.7,247.4 590.0,252.4" fill="#f8f8e0" fill-opacity="0.49"/><polygon points="608.8,220.9 607.8,219.2 576.5,234.8 578.2,238.3 580.2,241.6" fill="#e8e0a8" fill-opacity="0.30"/><polygon points="607.8,219.2 606.8,215.7 572.5,221.2 574.0,228.2 576.5,234.8" fill="#e8e0a8" fill-opacity="0.30"/><polygon points="606.8,215.7 606.8,212.6 572.2,208.7 572.0,215.0 572.5,221.2" fill="#f8f8e0" fill-opacity="0.29"/><polygon points="606.8,212.6 607.3,210.0 574.4,198.3 573.0,203.5 572.2,208.7" fill="#dccf78" fill-opacity="0.49"/><polygon points="607.3,210.0 608.1,208.2 577.3,191.1 575.7,194.7 574.4,198.3" fill="#dccf78" fill-opacity="0.40"/><polygon points="608.1,208.2 609.5,206.0 582.9,182.5 579.9,186.7 577.3,191.1" fill="#dccf78" fill-opacity="0.49"/><polygon points="609.5,206.0 611.6,204.0 591.1,174.5 586.8,178.2 582.9,182.5" fill="#dccf78" fill-opacity="0.33"/><polygon points="611.6,204.0 614.3,202.5 601.9,168.4 596.3,171.0 591.1,174.5" fill="#f8f8e0" fill-opacity="0.32"/><polygon points="614.3,202.5 615.8,202.0 607.8,166.5 604.8,167.3 601.9,168.4" fill="#f8f8e0" fill-opacity="0.41"/><polygon points="615.8,202.0 619.4,201.7 621.7,165.3 614.7,165.3 607.8,166.5" fill="#f8f8e0" fill-opacity="0.38"/><polygon points="619.4,201.7 621.5,202.1 629.9,166.8 625.9,165.8 621.7,165.3" fill="#e8e0a8" fill-opacity="0.30"/><polygon points="621.5,202.1 624.4,203.3 641.3,171.6 635.8,168.8 629.9,166.8" fill="#f8f8e0" fill-opacity="0.36"/><polygon points="624.4,203.3 627.2,205.6 652.3,180.8 647.1,175.8 641.3,171.6" fill="#f8f8e0" fill-opacity="0.27"/><polygon points="627.2,205.6 629.0,208.2 659.3,191.2 656.1,185.8 652.3,180.8" fill="#f8f8e0" fill-opacity="0.36"/><polygon points="629.0,208.2 630.1,211.4 663.7,204.0 661.9,197.4 659.3,191.2" fill="#f8f8e0" fill-opacity="0.32"/><polygon points="630.1,211.4 630.3,214.5 664.6,216.4 664.5,210.2 663.7,204.0" fill="#dccf78" fill-opacity="0.38"/></g><g filter="url(#sblur)"><line x1="636.7" y1="214.9" x2="655.1" y2="215.9" stroke="#b8a048" stroke-opacity="0.65" stroke-width="0.9"/><line x1="628.6" y1="224.0" x2="642.1" y2="238.1" stroke="#b8a048" stroke-opacity="0.65" stroke-width="1.0"/><line x1="625.8" y1="226.9" x2="638.8" y2="251.0" stroke="#b8a048" stroke-opacity="0.65" stroke-width="0.9"/><line x1="605.3" y1="220.4" x2="586.9" y2="229.6" stroke="#b8a048" stroke-opacity="0.65" stroke-width="1.0"/><line x1="597.6" y1="217.2" x2="578.0" y2="220.3" stroke="#b8a048" stroke-opacity="0.65" stroke-width="0.8"/><line x1="603.9" y1="212.3" x2="576.5" y2="209.2" stroke="#b8a048" stroke-opacity="0.65" stroke-width="0.6"/><line x1="601.3" y1="204.5" x2="587.3" y2="196.7" stroke="#b8a048" stroke-opacity="0.65" stroke-width="1.0"/><line x1="603.2" y1="200.5" x2="586.7" y2="185.9" stroke="#b8a048" stroke-opacity="0.65" stroke-width="1.0"/><line x1="612.0" y1="196.1" x2="604.9" y2="176.9" stroke="#b8a048" stroke-opacity="0.65" stroke-width="0.9"/><line x1="613.4" y1="191.5" x2="609.4" y2="173.8" stroke="#b8a048" stroke-opacity="0.65" stroke-width="1.0"/><line x1="632.9" y1="200.1" x2="649.2" y2="183.8" stroke="#b8a048" stroke-opacity="0.65" stroke-width="0.9"/><line x1="614.8" y1="229.5" x2="608.9" y2="254.1" stroke="#fafae4" stroke-opacity="0.44" stroke-width="0.7"/><line x1="630.8" y1="202.0" x2="649.2" y2="183.5" stroke="#fafae4" stroke-opacity="0.28" stroke-width="1.2"/><line x1="612.1" y1="198.7" x2="604.8" y2="181.5" stroke="#d2c262" stroke-opacity="0.48" stroke-width="1.0"/><line x1="633.0" y1="216.6" x2="656.8" y2="221.1" stroke="#fafae4" stroke-opacity="0.46" stroke-width="1.0"/><line x1="612.1" y1="228.0" x2="602.8" y2="248.6" stroke="#d2c262" stroke-opacity="0.39" stroke-width="1.3"/><line x1="603.6" y1="202.6" x2="588.2" y2="190.7" stroke="#d2c262" stroke-opacity="0.51" stroke-width="1.0"/><line x1="631.0" y1="207.1" x2="652.9" y2="194.9" stroke="#d2c262" stroke-opacity="0.53" stroke-width="1.0"/><line x1="605.2" y1="204.2" x2="591.2" y2="193.9" stroke="#d2c262" stroke-opacity="0.37" stroke-width="0.9"/><line x1="604.8" y1="216.5" x2="584.1" y2="220.4" stroke="#fafae4" stroke-opacity="0.45" stroke-width="1.1"/><line x1="604.9" y1="205.5" x2="583.7" y2="192.4" stroke="#d2c262" stroke-opacity="0.41" stroke-width="0.9"/><line x1="602.9" y1="225.6" x2="590.0" y2="235.6" stroke="#d2c262" stroke-opacity="0.48" stroke-width="1.2"/><line x1="625.7" y1="227.9" x2="636.1" y2="249.2" stroke="#d2c262" stroke-opacity="0.39" stroke-width="1.0"/><line x1="617.7" y1="196.7" x2="616.7" y2="178.8" stroke="#fafae4" stroke-opacity="0.45" stroke-width="0.9"/><line x1="605.0" y1="225.2" x2="586.8" y2="240.8" stroke="#fafae4" stroke-opacity="0.38" stroke-width="1.1"/><line x1="615.0" y1="200.3" x2="607.7" y2="171.5" stroke="#d2c262" stroke-opacity="0.44" stroke-width="0.6"/><line x1="632.0" y1="214.6" x2="653.8" y2="215.9" stroke="#d2c262" stroke-opacity="0.43" stroke-width="0.8"/><line x1="622.7" y1="233.3" x2="626.1" y2="250.8" stroke="#fafae4" stroke-opacity="0.33" stroke-width="1.0"/><line x1="603.3" y1="213.9" x2="578.4" y2="213.8" stroke="#fafae4" stroke-opacity="0.46" stroke-width="1.0"/><line x1="632.8" y1="226.1" x2="648.3" y2="240.0" stroke="#fafae4" stroke-opacity="0.40" stroke-width="0.9"/><line x1="606.9" y1="228.1" x2="595.4" y2="242.2" stroke="#fafae4" stroke-opacity="0.38" stroke-width="0.9"/><line x1="629.9" y1="205.3" x2="643.1" y2="194.8" stroke="#fafae4" stroke-opacity="0.48" stroke-width="1.1"/><line x1="600.9" y1="214.7" x2="579.8" y2="215.7" stroke="#fafae4" stroke-opacity="0.33" stroke-width="0.6"/><line x1="615.4" y1="232.7" x2="612.9" y2="247.8" stroke="#d2c262" stroke-opacity="0.50" stroke-width="1.2"/><line x1="618.5" y1="230.2" x2="618.3" y2="245.5" stroke="#d2c262" stroke-opacity="0.35" stroke-width="0.8"/><line x1="634.8" y1="223.3" x2="651.6" y2="233.5" stroke="#d2c262" stroke-opacity="0.47" stroke-width="1.1"/><line x1="620.4" y1="198.9" x2="623.5" y2="172.0" stroke="#d2c262" stroke-opacity="0.38" stroke-width="0.8"/><line x1="635.0" y1="222.5" x2="653.5" y2="232.5" stroke="#fafae4" stroke-opacity="0.46" stroke-width="0.6"/><line x1="632.2" y1="213.1" x2="650.2" y2="212.0" stroke="#fafae4" stroke-opacity="0.42" stroke-width="0.7"/><line x1="607.6" y1="203.1" x2="588.7" y2="184.2" stroke="#fafae4" stroke-opacity="0.32" stroke-width="1.2"/><line x1="618.4" y1="200.0" x2="618.0" y2="174.9" stroke="#fafae4" stroke-opacity="0.43" stroke-width="1.3"/><line x1="606.0" y1="226.6" x2="589.4" y2="243.6" stroke="#d2c262" stroke-opacity="0.37" stroke-width="0.7"/><line x1="621.1" y1="196.6" x2="624.4" y2="173.0" stroke="#fafae4" stroke-opacity="0.38" stroke-width="1.2"/><line x1="633.1" y1="216.2" x2="654.0" y2="219.6" stroke="#fafae4" stroke-opacity="0.36" stroke-width="0.7"/><line x1="623.5" y1="197.4" x2="630.7" y2="172.4" stroke="#fafae4" stroke-opacity="0.35" stroke-width="1.3"/><line x1="617.8" y1="197.3" x2="616.5" y2="168.9" stroke="#d2c262" stroke-opacity="0.39" stroke-width="0.9"/><line x1="623.3" y1="232.1" x2="626.3" y2="244.7" stroke="#d2c262" stroke-opacity="0.51" stroke-width="0.8"/><line x1="612.2" y1="200.3" x2="602.4" y2="179.2" stroke="#fafae4" stroke-opacity="0.30" stroke-width="0.7"/><line x1="631.5" y1="204.1" x2="652.1" y2="188.0" stroke="#d2c262" stroke-opacity="0.45" stroke-width="0.7"/><line x1="626.0" y1="202.4" x2="636.3" y2="185.6" stroke="#d2c262" stroke-opacity="0.41" stroke-width="0.7"/><line x1="602.6" y1="208.3" x2="582.6" y2="201.1" stroke="#d2c262" stroke-opacity="0.38" stroke-width="1.0"/><line x1="631.3" y1="228.5" x2="640.8" y2="239.9" stroke="#d2c262" stroke-opacity="0.50" stroke-width="1.0"/><line x1="636.3" y1="205.7" x2="649.3" y2="199.3" stroke="#fafae4" stroke-opacity="0.49" stroke-width="0.8"/><line x1="636.5" y1="220.7" x2="650.4" y2="226.2" stroke="#d2c262" stroke-opacity="0.41" stroke-width="1.1"/><line x1="634.4" y1="223.3" x2="654.4" y2="235.7" stroke="#d2c262" stroke-opacity="0.53" stroke-width="1.0"/><line x1="619.0" y1="196.7" x2="619.5" y2="175.2" stroke="#d2c262" stroke-opacity="0.39" stroke-width="1.2"/><line x1="628.1" y1="226.4" x2="644.9" y2="248.9" stroke="#fafae4" stroke-opacity="0.35" stroke-width="1.1"/><line x1="621.4" y1="200.0" x2="624.9" y2="182.3" stroke="#fafae4" stroke-opacity="0.48" stroke-width="0.7"/><line x1="635.3" y1="213.0" x2="652.4" y2="212.0" stroke="#fafae4" stroke-opacity="0.38" stroke-width="0.7"/><line x1="623.2" y1="227.0" x2="631.3" y2="250.8" stroke="#d2c262" stroke-opacity="0.51" stroke-width="1.2"/><line x1="607.6" y1="205.4" x2="588.3" y2="190.1" stroke="#d2c262" stroke-opacity="0.36" stroke-width="0.9"/><line x1="619.5" y1="230.9" x2="620.8" y2="258.0" stroke="#fafae4" stroke-opacity="0.26" stroke-width="0.9"/><line x1="614.4" y1="198.9" x2="608.3" y2="176.3" stroke="#fafae4" stroke-opacity="0.35" stroke-width="1.2"/><line x1="627.9" y1="224.4" x2="645.9" y2="245.2" stroke="#d2c262" stroke-opacity="0.41" stroke-width="0.9"/><line x1="632.0" y1="214.9" x2="657.6" y2="216.9" stroke="#fafae4" stroke-opacity="0.31" stroke-width="1.0"/><line x1="633.2" y1="210.2" x2="659.1" y2="203.5" stroke="#fafae4" stroke-opacity="0.47" stroke-width="1.3"/><line x1="631.0" y1="223.2" x2="652.6" y2="239.9" stroke="#d2c262" stroke-opacity="0.36" stroke-width="1.0"/><line x1="625.8" y1="202.3" x2="636.0" y2="185.3" stroke="#d2c262" stroke-opacity="0.42" stroke-width="0.8"/><line x1="631.8" y1="214.8" x2="653.4" y2="216.2" stroke="#d2c262" stroke-opacity="0.43" stroke-width="1.3"/><line x1="610.0" y1="226.2" x2="599.4" y2="241.6" stroke="#fafae4" stroke-opacity="0.44" stroke-width="1.2"/><line x1="636.6" y1="207.4" x2="654.2" y2="200.8" stroke="#fafae4" stroke-opacity="0.39" stroke-width="1.1"/><line x1="633.0" y1="206.4" x2="651.5" y2="196.5" stroke="#fafae4" stroke-opacity="0.43" stroke-width="1.2"/><line x1="634.3" y1="203.7" x2="649.2" y2="193.7" stroke="#fafae4" stroke-opacity="0.47" stroke-width="0.7"/><line x1="628.2" y1="201.1" x2="644.5" y2="179.0" stroke="#fafae4" stroke-opacity="0.43" stroke-width="0.7"/><line x1="630.0" y1="201.6" x2="642.9" y2="187.1" stroke="#d2c262" stroke-opacity="0.38" stroke-width="1.2"/><line x1="606.4" y1="229.3" x2="593.0" y2="246.6" stroke="#fafae4" stroke-opacity="0.44" stroke-width="0.9"/><line x1="611.3" y1="225.7" x2="600.8" y2="243.0" stroke="#d2c262" stroke-opacity="0.48" stroke-width="0.7"/><line x1="635.6" y1="205.2" x2="653.5" y2="195.6" stroke="#d2c262" stroke-opacity="0.42" stroke-width="1.2"/><line x1="617.7" y1="231.4" x2="616.8" y2="248.6" stroke="#fafae4" stroke-opacity="0.45" stroke-width="1.0"/><line x1="622.8" y1="200.2" x2="630.6" y2="174.1" stroke="#fafae4" stroke-opacity="0.42" stroke-width="0.9"/><line x1="604.1" y1="214.9" x2="577.0" y2="216.8" stroke="#d2c262" stroke-opacity="0.39" stroke-width="0.8"/><ellipse cx="618.3" cy="213.9" rx="42.9" ry="45.1" fill="none" stroke="#baa24c" stroke-opacity="0.8" stroke-width="2.2"/><ellipse cx="618.5" cy="213.9" rx="13.9" ry="14.4" fill="none" stroke="#dcd088" stroke-opacity="0.6" stroke-width="1.5"/></g></g></g><text x="551.8" y="146.3" font-size="7.5" fill="#f2f2f2">DT: 9 hours</text>
<g><path d="M71.8,304.60 V483.1 H323.5" fill="none" stroke="#3c3c3c" stroke-width="1.15"/><text x="60.6" y="486.70" text-anchor="end" font-size="10" fill="#1e1e1e">0</text><text x="60.6" y="442.08" text-anchor="end" font-size="10" fill="#1e1e1e">0.5</text><text x="60.6" y="397.45" text-anchor="end" font-size="10" fill="#1e1e1e">1</text><text x="60.6" y="352.83" text-anchor="end" font-size="10" fill="#1e1e1e">1.5</text><text x="60.6" y="308.20" text-anchor="end" font-size="10" fill="#1e1e1e">2</text><text x="71.80" y="500.8" text-anchor="middle" font-size="10" fill="#1e1e1e">0</text><text x="122.14" y="500.8" text-anchor="middle" font-size="10" fill="#1e1e1e">0.2</text><text x="172.48" y="500.8" text-anchor="middle" font-size="10" fill="#1e1e1e">0.4</text><text x="222.82" y="500.8" text-anchor="middle" font-size="10" fill="#1e1e1e">0.6</text><text x="273.16" y="500.8" text-anchor="middle" font-size="10" fill="#1e1e1e">0.8</text><text x="323.50" y="500.8" text-anchor="middle" font-size="10" fill="#1e1e1e">1</text><path d="M71.8,438.48 h3.5 M71.8,393.85 h3.5 M71.8,349.23 h3.5 M71.8,304.60 h3.5 M122.14,483.1 v-3.5 M172.48,483.1 v-3.5 M222.82,483.1 v-3.5 M273.16,483.1 v-3.5 M323.50,483.1 v-3.5" stroke="#3c3c3c" stroke-width="1"/><text x="161.5" y="514.6" font-size="10.5" fill="#1e1e1e" textLength="72.8" lengthAdjust="spacingAndGlyphs">Moisture ratio</text><text transform="translate(38.9,439.8) rotate(-90)" x="0" y="0" font-size="10.5" fill="#1e1e1e" textLength="87.7" lengthAdjust="spacingAndGlyphs">Inner radius (cm)</text><text x="83.5" y="312.2" style="font-family:'Liberation Serif',serif" font-weight="bold" font-size="14" fill="#000">b</text><line x1="79.35" y1="401.37" x2="323.50" y2="327.12" stroke="#000" stroke-width="2" stroke-dasharray="2 1.9"/><polyline points="79.35,414.51 83.42,411.39 87.49,408.33 91.56,405.35 95.63,402.43 99.70,399.58 103.77,396.80 107.84,394.09 111.90,391.46 115.97,388.89 120.04,386.38 124.11,383.95 128.18,381.59 132.25,379.30 136.32,377.07 140.39,374.92 144.46,372.84 148.53,370.82 152.60,368.87 156.66,367.00 160.73,365.19 164.80,363.45 168.87,361.78 172.94,360.18 177.01,358.65 181.08,357.19 185.15,355.80 189.22,354.48 193.29,353.23 197.36,352.04 201.43,350.93 205.49,349.88 209.56,348.91 213.63,348.00 217.70,347.16 221.77,346.40 225.84,345.70 229.91,345.07 233.98,344.51 238.05,344.02 242.12,343.60 246.19,343.25 250.26,342.96 254.32,342.75 258.39,342.61 262.46,342.53 266.53,342.53 270.60,342.59 274.67,342.73 278.74,342.93 282.81,343.20 286.88,343.54 290.95,343.95 295.02,344.43 299.09,344.98 303.15,345.60 307.22,346.29 311.29,347.05 315.36,347.87 319.43,348.77 323.50,349.74" fill="none" stroke="#000" stroke-width="1.5"/><path d="M80.11,413.75 V422.59 M77.51,413.75 h5.2 M77.51,422.59 h5.2 M83.38,406.68 V413.75 M80.78,406.68 h5.2 M80.78,413.75 h5.2 M93.19,395.36 V409.50 M90.59,395.36 h5.2 M90.59,409.50 h5.2 M104.77,389.79 V401.28 M102.17,389.79 h5.2 M102.17,401.28 h5.2 M124.66,381.48 V385.02 M122.06,381.48 h5.2 M122.06,385.02 h5.2 M143.53,369.55 V378.39 M140.93,369.55 h5.2 M140.93,378.39 h5.2 M167.19,357.35 V365.30 M164.59,357.35 h5.2 M164.59,365.30 h5.2 M187.83,346.30 V355.14 M185.23,346.30 h5.2 M185.23,355.14 h5.2 M224.08,344.53 V347.18 M221.48,344.53 h5.2 M221.48,347.18 h5.2 M260.57,344.35 V350.54 M257.97,344.35 h5.2 M257.97,350.54 h5.2 M323.50,347.62 V350.81 M320.90,347.62 h5.2 M320.90,350.81 h5.2" stroke="#000" stroke-width="0.9" fill="none"/><path d="M80.11,415.17 L83.11,418.17 L80.11,421.17 L77.11,418.17 Z M83.38,407.21 L86.38,410.21 L83.38,413.21 L80.38,410.21 Z M93.19,399.43 L96.19,402.43 L93.19,405.43 L90.19,402.43 Z M104.77,392.54 L107.77,395.54 L104.77,398.54 L101.77,395.54 Z M124.66,380.25 L127.66,383.25 L124.66,386.25 L121.66,383.25 Z M143.53,370.97 L146.53,373.97 L143.53,376.97 L140.53,373.97 Z M167.19,358.33 L170.19,361.33 L167.19,364.33 L164.19,361.33 Z M187.83,347.72 L190.83,350.72 L187.83,353.72 L184.83,350.72 Z M224.08,342.86 L227.08,345.86 L224.08,348.86 L221.08,345.86 Z M260.57,344.45 L263.57,347.45 L260.57,350.45 L257.57,347.45 Z" fill="#000"/><path d="M227.4,406.0 L230.20000000000002,408.8 L227.4,411.6 L224.6,408.8 Z" fill="#000"/><line x1="210.6" y1="428.4" x2="242.2" y2="428.4" stroke="#000" stroke-width="2" stroke-dasharray="2 1.9"/><line x1="210.6" y1="447.9" x2="243.0" y2="447.9" stroke="#000" stroke-width="1.5"/><text x="247" y="411.9" font-size="10.3" fill="#1e1e1e" textLength="60" lengthAdjust="spacingAndGlyphs">Experimental</text><text x="247" y="431.6" font-size="10.3" fill="#1e1e1e" textLength="60" lengthAdjust="spacingAndGlyphs">Linear Model</text><text x="247" y="451.6" font-size="10.3" fill="#1e1e1e" textLength="76.8" lengthAdjust="spacingAndGlyphs">Quadratic Model</text></g><g><path d="M375.0,317.45 V483.0 H632.2" fill="none" stroke="#3c3c3c" stroke-width="1.15"/><text x="364.5" y="486.60" text-anchor="end" font-size="10" fill="#1e1e1e">0</text><text x="364.5" y="453.49" text-anchor="end" font-size="10" fill="#1e1e1e">1</text><text x="364.5" y="420.38" text-anchor="end" font-size="10" fill="#1e1e1e">2</text><text x="364.5" y="387.27" text-anchor="end" font-size="10" fill="#1e1e1e">3</text><text x="364.5" y="354.16" text-anchor="end" font-size="10" fill="#1e1e1e">4</text><text x="364.5" y="321.05" text-anchor="end" font-size="10" fill="#1e1e1e">5</text><text x="375.00" y="500.8" text-anchor="middle" font-size="10" fill="#1e1e1e">0</text><text x="426.44" y="500.8" text-anchor="middle" font-size="10" fill="#1e1e1e">0.2</text><text x="477.88" y="500.8" text-anchor="middle" font-size="10" fill="#1e1e1e">0.4</text><text x="529.32" y="500.8" text-anchor="middle" font-size="10" fill="#1e1e1e">0.6</text><text x="580.76" y="500.8" text-anchor="middle" font-size="10" fill="#1e1e1e">0.8</text><text x="632.20" y="500.8" text-anchor="middle" font-size="10" fill="#1e1e1e">1</text><path d="M375.0,449.89 h3.5 M375.0,416.78 h3.5 M375.0,383.67 h3.5 M375.0,350.56 h3.5 M375.0,317.45 h3.5 M426.44,483.0 v-3.5 M477.88,483.0 v-3.5 M529.32,483.0 v-3.5 M580.76,483.0 v-3.5 M632.20,483.0 v-3.5" stroke="#3c3c3c" stroke-width="1"/><text x="467.2" y="514.6" font-size="10.5" fill="#1e1e1e" textLength="72.9" lengthAdjust="spacingAndGlyphs">Moisture ratio</text><text transform="translate(353.6,447.4) rotate(-90)" x="0" y="0" font-size="10.5" fill="#1e1e1e" textLength="90.4" lengthAdjust="spacingAndGlyphs">Outer radius (cm)</text><text x="396" y="311.8" style="font-family:'Liberation Serif',serif" font-weight="bold" font-size="14" fill="#000">c</text><line x1="382.72" y1="374.73" x2="632.20" y2="325.73" stroke="#000" stroke-width="2" stroke-dasharray="2 1.9"/><polyline points="382.72,380.37 386.87,378.83 391.03,377.32 395.19,375.83 399.35,374.37 403.51,372.93 407.66,371.52 411.82,370.14 415.98,368.78 420.14,367.45 424.30,366.14 428.45,364.86 432.61,363.61 436.77,362.38 440.93,361.18 445.09,360.00 449.25,358.85 453.40,357.73 457.56,356.63 461.72,355.56 465.88,354.51 470.04,353.49 474.19,352.50 478.35,351.53 482.51,350.59 486.67,349.67 490.83,348.78 494.98,347.92 499.14,347.08 503.30,346.27 507.46,345.48 511.62,344.72 515.77,343.99 519.93,343.28 524.09,342.60 528.25,341.94 532.41,341.31 536.56,340.71 540.72,340.13 544.88,339.58 549.04,339.05 553.20,338.55 557.35,338.08 561.51,337.63 565.67,337.21 569.83,336.81 573.99,336.44 578.15,336.10 582.30,335.78 586.46,335.49 590.62,335.22 594.78,334.98 598.94,334.77 603.09,334.58 607.25,334.42 611.41,334.28 615.57,334.17 619.73,334.09 623.88,334.03 628.04,333.99 632.20,333.99" fill="none" stroke="#000" stroke-width="1.5"/><path d="M382.97,380.03 V383.34 M380.37,380.03 h5.2 M380.37,383.34 h5.2 M386.83,375.06 V379.03 M384.23,375.06 h5.2 M384.23,379.03 h5.2 M397.12,372.41 V375.72 M394.52,372.41 h5.2 M394.52,375.72 h5.2 M408.69,369.93 V372.58 M406.09,369.93 h5.2 M406.09,372.58 h5.2 M429.01,361.49 V365.46 M426.41,361.49 h5.2 M426.41,365.46 h5.2 M448.30,354.86 V358.84 M445.70,354.86 h5.2 M445.70,358.84 h5.2 M472.48,349.90 V355.20 M469.88,349.90 h5.2 M469.88,355.20 h5.2 M493.57,346.59 V349.24 M490.97,346.59 h5.2 M490.97,349.24 h5.2 M530.61,342.28 V344.93 M528.01,342.28 h5.2 M528.01,344.93 h5.2 M567.90,335.99 V338.64 M565.30,335.99 h5.2 M565.30,338.64 h5.2 M632.20,333.74 V334.27 M629.60,333.74 h5.2 M629.60,334.27 h5.2" stroke="#000" stroke-width="0.9" fill="none"/><path d="M382.97,378.68 L385.97,381.68 L382.97,384.68 L379.97,381.68 Z M386.83,374.05 L389.83,377.05 L386.83,380.05 L383.83,377.05 Z M397.12,371.07 L400.12,374.07 L397.12,377.07 L394.12,374.07 Z M408.69,368.25 L411.69,371.25 L408.69,374.25 L405.69,371.25 Z M429.01,360.47 L432.01,363.47 L429.01,366.47 L426.01,363.47 Z M448.30,353.85 L451.30,356.85 L448.30,359.85 L445.30,356.85 Z M472.48,349.55 L475.48,352.55 L472.48,355.55 L469.48,352.55 Z M493.57,344.91 L496.57,347.91 L493.57,350.91 L490.57,347.91 Z M530.61,340.61 L533.61,343.61 L530.61,346.61 L527.61,343.61 Z M567.90,334.32 L570.90,337.32 L567.90,340.32 L564.90,337.32 Z" fill="#000"/><path d="M526.9,409.4 L529.6999999999999,412.2 L526.9,415.0 L524.1,412.2 Z" fill="#000"/><line x1="510.3" y1="432.2" x2="542.4" y2="432.2" stroke="#000" stroke-width="2" stroke-dasharray="2 1.9"/><line x1="510.8" y1="451.4" x2="543.4" y2="451.4" stroke="#000" stroke-width="1.5"/><text x="547.1" y="415.7" font-size="10.3" fill="#1e1e1e" textLength="60.4" lengthAdjust="spacingAndGlyphs">Experimental</text><text x="547.1" y="435.3" font-size="10.3" fill="#1e1e1e" textLength="60.4" lengthAdjust="spacingAndGlyphs">Linear Model</text><text x="547.1" y="455.0" font-size="10.3" fill="#1e1e1e" textLength="76.9" lengthAdjust="spacingAndGlyphs">Quadratic Model</text></g><g><path d="M74.2,541.72 V708.4 H323.4" fill="none" stroke="#3c3c3c" stroke-width="1.15"/><text x="63.9" y="712.00" text-anchor="end" font-size="10" fill="#1e1e1e">0</text><text x="63.9" y="684.22" text-anchor="end" font-size="10" fill="#1e1e1e">0.2</text><text x="63.9" y="656.44" text-anchor="end" font-size="10" fill="#1e1e1e">0.4</text><text x="63.9" y="628.66" text-anchor="end" font-size="10" fill="#1e1e1e">0.6</text><text x="63.9" y="600.88" text-anchor="end" font-size="10" fill="#1e1e1e">0.8</text><text x="63.9" y="573.10" text-anchor="end" font-size="10" fill="#1e1e1e">1</text><text x="63.9" y="545.32" text-anchor="end" font-size="10" fill="#1e1e1e">1.2</text><text x="74.20" y="726.8" text-anchor="middle" font-size="10" fill="#1e1e1e">0</text><text x="124.04" y="726.8" text-anchor="middle" font-size="10" fill="#1e1e1e">0.2</text><text x="173.88" y="726.8" text-anchor="middle" font-size="10" fill="#1e1e1e">0.4</text><text x="223.72" y="726.8" text-anchor="middle" font-size="10" fill="#1e1e1e">0.6</text><text x="273.56" y="726.8" text-anchor="middle" font-size="10" fill="#1e1e1e">0.8</text><text x="323.40" y="726.8" text-anchor="middle" font-size="10" fill="#1e1e1e">1</text><path d="M74.2,680.62 h3.5 M74.2,652.84 h3.5 M74.2,625.06 h3.5 M74.2,597.28 h3.5 M74.2,569.50 h3.5 M74.2,541.72 h3.5 M124.04,708.4 v-3.5 M173.88,708.4 v-3.5 M223.72,708.4 v-3.5 M273.56,708.4 v-3.5 M323.40,708.4 v-3.5" stroke="#3c3c3c" stroke-width="1"/><text x="162.7" y="742.8" font-size="10.5" fill="#1e1e1e" textLength="72.7" lengthAdjust="spacingAndGlyphs">Moisture ratio</text><text transform="translate(39.9,662.4) rotate(-90)" x="0" y="0" font-size="10.5" fill="#1e1e1e" textLength="74.6" lengthAdjust="spacingAndGlyphs">Thickness (cm)</text><text x="83.4" y="540.8" style="font-family:'Liberation Serif',serif" font-weight="bold" font-size="14" fill="#000">d</text><line x1="81.68" y1="671.59" x2="323.40" y2="552.28" stroke="#000" stroke-width="2" stroke-dasharray="2 1.9"/><polyline points="81.68,677.49 85.70,674.48 89.73,671.52 93.76,668.59 97.79,665.70 101.82,662.84 105.85,660.02 109.88,657.24 113.91,654.50 117.93,651.79 121.96,649.12 125.99,646.49 130.02,643.89 134.05,641.33 138.08,638.81 142.11,636.32 146.14,633.87 150.16,631.46 154.19,629.09 158.22,626.75 162.25,624.45 166.28,622.18 170.31,619.96 174.34,617.77 178.37,615.61 182.39,613.50 186.42,611.42 190.45,609.37 194.48,607.37 198.51,605.40 202.54,603.47 206.57,601.57 210.60,599.72 214.62,597.89 218.65,596.11 222.68,594.36 226.71,592.65 230.74,590.98 234.77,589.34 238.80,587.74 242.83,586.18 246.85,584.65 250.88,583.17 254.91,581.71 258.94,580.30 262.97,578.92 267.00,577.58 271.03,576.28 275.06,575.01 279.08,573.78 283.11,572.58 287.14,571.43 291.17,570.31 295.20,569.23 299.23,568.18 303.26,567.17 307.29,566.20 311.31,565.26 315.34,564.37 319.37,563.51 323.40,562.68" fill="none" stroke="#000" stroke-width="1.5"/><path d="M82.67,674.09 V685.20 M80.07,674.09 h5.2 M80.07,685.20 h5.2 M85.41,665.06 V671.17 M82.81,665.06 h5.2 M82.81,671.17 h5.2 M95.38,656.45 V673.12 M92.78,656.45 h5.2 M92.78,673.12 h5.2 M106.85,654.37 V670.48 M104.25,654.37 h5.2 M104.25,670.48 h5.2 M126.53,642.42 V652.15 M123.93,642.42 h5.2 M123.93,652.15 h5.2 M145.22,634.78 V648.12 M142.62,634.78 h5.2 M142.62,648.12 h5.2 M168.90,616.03 V628.81 M166.30,616.03 h5.2 M166.30,628.81 h5.2 M189.33,609.92 V613.25 M186.73,609.92 h5.2 M186.73,613.25 h5.2 M224.72,589.50 V596.72 M222.12,589.50 h5.2 M222.12,596.72 h5.2 M261.35,568.25 V579.36 M258.75,568.25 h5.2 M258.75,579.36 h5.2 M323.40,562.14 V571.31 M320.80,562.14 h5.2 M320.80,571.31 h5.2" stroke="#000" stroke-width="0.9" fill="none"/><path d="M82.67,676.65 L85.67,679.65 L82.67,682.65 L79.67,679.65 Z M85.41,665.12 L88.41,668.12 L85.41,671.12 L82.41,668.12 Z M95.38,661.79 L98.38,664.79 L95.38,667.79 L92.38,664.79 Z M106.85,659.42 L109.85,662.42 L106.85,665.42 L103.85,662.42 Z M126.53,644.28 L129.53,647.28 L126.53,650.28 L123.53,647.28 Z M145.22,638.45 L148.22,641.45 L145.22,644.45 L142.22,641.45 Z M168.90,619.42 L171.90,622.42 L168.90,625.42 L165.90,622.42 Z M189.33,608.59 L192.33,611.59 L189.33,614.59 L186.33,611.59 Z M224.72,590.11 L227.72,593.11 L224.72,596.11 L221.72,593.11 Z M261.35,570.81 L264.35,573.81 L261.35,576.81 L258.35,573.81 Z" fill="#000"/><path d="M213.4,647.8000000000001 L216.20000000000002,650.6 L213.4,653.4 L210.6,650.6 Z" fill="#000"/><line x1="196.7" y1="668.8" x2="227.8" y2="668.8" stroke="#000" stroke-width="2" stroke-dasharray="2 1.9"/><line x1="197.0" y1="686.0" x2="228.4" y2="686.0" stroke="#000" stroke-width="1.5"/><text x="233.2" y="654.0" font-size="10.3" fill="#1e1e1e" textLength="60.1" lengthAdjust="spacingAndGlyphs">Experimental</text><text x="233.2" y="671.8" font-size="10.3" fill="#1e1e1e" textLength="60.1" lengthAdjust="spacingAndGlyphs">Linear Model</text><text x="233.2" y="689.5" font-size="10.3" fill="#1e1e1e" textLength="76.8" lengthAdjust="spacingAndGlyphs">Quadratic Model</text></g><g><path d="M384.2,533.37 V708.4 H633.5" fill="none" stroke="#3c3c3c" stroke-width="1.15"/><text x="373.2" y="712.00" text-anchor="end" font-size="10" fill="#1e1e1e">0</text><text x="373.2" y="682.83" text-anchor="end" font-size="10" fill="#1e1e1e">0.2</text><text x="373.2" y="653.66" text-anchor="end" font-size="10" fill="#1e1e1e">0.4</text><text x="373.2" y="624.48" text-anchor="end" font-size="10" fill="#1e1e1e">0.6</text><text x="373.2" y="595.31" text-anchor="end" font-size="10" fill="#1e1e1e">0.8</text><text x="373.2" y="566.14" text-anchor="end" font-size="10" fill="#1e1e1e">1</text><text x="373.2" y="536.97" text-anchor="end" font-size="10" fill="#1e1e1e">1.2</text><text x="384.20" y="726.8" text-anchor="middle" font-size="10" fill="#1e1e1e">0</text><text x="434.06" y="726.8" text-anchor="middle" font-size="10" fill="#1e1e1e">0.2</text><text x="483.92" y="726.8" text-anchor="middle" font-size="10" fill="#1e1e1e">0.4</text><text x="533.78" y="726.8" text-anchor="middle" font-size="10" fill="#1e1e1e">0.6</text><text x="583.64" y="726.8" text-anchor="middle" font-size="10" fill="#1e1e1e">0.8</text><text x="633.50" y="726.8" text-anchor="middle" font-size="10" fill="#1e1e1e">1</text><path d="M384.2,679.23 h3.5 M384.2,650.06 h3.5 M384.2,620.88 h3.5 M384.2,591.71 h3.5 M384.2,562.54 h3.5 M384.2,533.37 h3.5 M434.06,708.4 v-3.5 M483.92,708.4 v-3.5 M533.78,708.4 v-3.5 M583.64,708.4 v-3.5 M633.50,708.4 v-3.5" stroke="#3c3c3c" stroke-width="1"/><text x="472.7" y="742.9" font-size="10.5" fill="#1e1e1e" textLength="72.3" lengthAdjust="spacingAndGlyphs">Moisture ratio</text><text transform="translate(352.9,654.2) rotate(-90)" x="0" y="0" font-size="10.5" fill="#1e1e1e" textLength="66.4" lengthAdjust="spacingAndGlyphs">Volume ratio</text><text x="392" y="552" style="font-family:'Liberation Serif',serif" font-weight="bold" font-size="14" fill="#000">e</text><line x1="391.68" y1="691.19" x2="633.50" y2="554.08" stroke="#000" stroke-width="2" stroke-dasharray="2 1.9"/><polyline points="391.68,691.73 395.71,689.28 399.74,686.84 403.77,684.41 407.80,681.98 411.83,679.56 415.86,677.15 419.89,674.75 423.92,672.35 427.95,669.96 431.98,667.58 436.01,665.20 440.04,662.84 444.07,660.48 448.10,658.13 452.13,655.78 456.16,653.45 460.19,651.12 464.23,648.80 468.26,646.48 472.29,644.18 476.32,641.88 480.35,639.59 484.38,637.30 488.41,635.03 492.44,632.76 496.47,630.50 500.50,628.24 504.53,626.00 508.56,623.76 512.59,621.53 516.62,619.30 520.65,617.09 524.68,614.88 528.71,612.68 532.74,610.49 536.77,608.30 540.80,606.12 544.83,603.95 548.86,601.79 552.89,599.63 556.92,597.49 560.95,595.34 564.98,593.21 569.01,591.09 573.04,588.97 577.08,586.86 581.11,584.76 585.14,582.66 589.17,580.57 593.20,578.49 597.23,576.42 601.26,574.35 605.29,572.30 609.32,570.25 613.35,568.20 617.38,566.17 621.41,564.14 625.44,562.12 629.47,560.11 633.50,558.10" fill="none" stroke="#000" stroke-width="1.5"/><path d="M392.18,690.90 V695.86 M389.58,690.90 h5.2 M389.58,695.86 h5.2 M395.92,686.08 V687.25 M393.32,686.08 h5.2 M393.32,687.25 h5.2 M405.39,675.29 V686.96 M402.79,675.29 h5.2 M402.79,686.96 h5.2 M416.61,677.19 V685.06 M414.01,677.19 h5.2 M414.01,685.06 h5.2 M436.55,664.79 V669.16 M433.95,664.79 h5.2 M433.95,669.16 h5.2 M455.25,655.45 V662.16 M452.65,655.45 h5.2 M452.65,662.16 h5.2 M478.93,637.66 V645.53 M476.33,637.66 h5.2 M476.33,645.53 h5.2 M498.88,627.30 V630.22 M496.28,627.30 h5.2 M496.28,630.22 h5.2 M534.78,604.69 V611.11 M532.18,604.69 h5.2 M532.18,611.11 h5.2 M571.42,571.88 V585.29 M568.82,571.88 h5.2 M568.82,585.29 h5.2 M633.50,554.52 V569.40 M630.90,554.52 h5.2 M630.90,569.40 h5.2" stroke="#000" stroke-width="0.9" fill="none"/><path d="M392.18,690.38 L395.18,693.38 L392.18,696.38 L389.18,693.38 Z M395.92,683.67 L398.92,686.67 L395.92,689.67 L392.92,686.67 Z M405.39,678.12 L408.39,681.12 L405.39,684.12 L402.39,681.12 Z M416.61,678.12 L419.61,681.12 L416.61,684.12 L413.61,681.12 Z M436.55,663.98 L439.55,666.98 L436.55,669.98 L433.55,666.98 Z M455.25,655.81 L458.25,658.81 L455.25,661.81 L452.25,658.81 Z M478.93,638.60 L481.93,641.60 L478.93,644.60 L475.93,641.60 Z M498.88,625.76 L501.88,628.76 L498.88,631.76 L495.88,628.76 Z M534.78,604.90 L537.78,607.90 L534.78,610.90 L531.78,607.90 Z M571.42,575.58 L574.42,578.58 L571.42,581.58 L568.42,578.58 Z" fill="#000"/><path d="M542.8,630.9000000000001 L545.5999999999999,633.7 L542.8,636.5 L540.0,633.7 Z" fill="#000"/><line x1="526.0" y1="655.0" x2="557.6" y2="655.0" stroke="#000" stroke-width="2" stroke-dasharray="2 1.9"/><line x1="526.6" y1="677.2" x2="558.3" y2="677.2" stroke="#000" stroke-width="1.5"/><text x="562.7" y="637.3" font-size="10.3" fill="#1e1e1e" textLength="60.3" lengthAdjust="spacingAndGlyphs">Experimental</text><text x="562.7" y="658.9" font-size="10.3" fill="#1e1e1e" textLength="60.3" lengthAdjust="spacingAndGlyphs">Linear Model</text><text x="562.7" y="681.0" font-size="10.3" fill="#1e1e1e" textLength="76.9" lengthAdjust="spacingAndGlyphs">Quadratic Model</text></g>
</svg>
</body></html>
